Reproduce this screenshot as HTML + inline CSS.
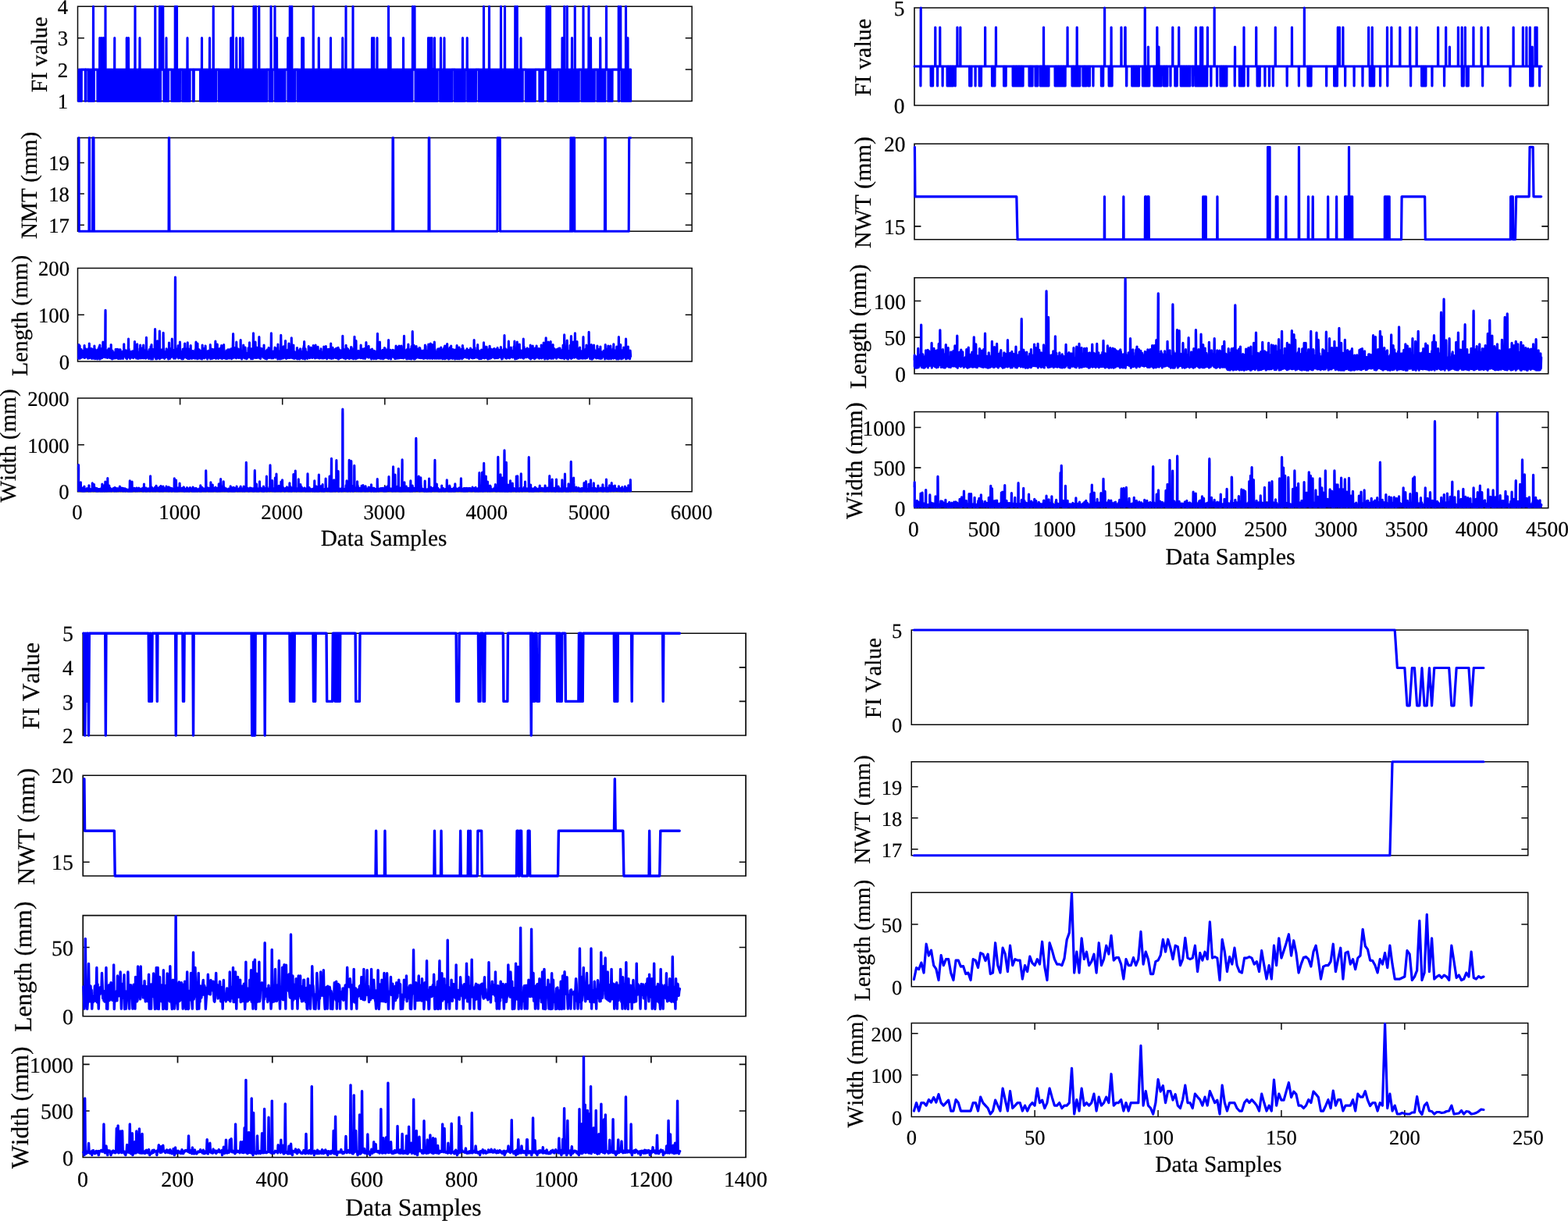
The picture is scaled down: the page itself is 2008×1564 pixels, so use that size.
<!DOCTYPE html>
<html lang="en">
<head>
<meta charset="utf-8">
<title>Data Samples figure</title>
<style>
html,body{margin:0;padding:0;background:#fff;}
body{width:2008px;height:1564px;overflow:hidden;}
svg{display:block;}
text{font-family:"Liberation Serif","DejaVu Serif",serif;fill:#000;stroke:#000;stroke-width:0.22px;stroke-linejoin:round;font-kerning:none;font-variant-ligatures:none;text-rendering:geometricPrecision;}
.ax{fill:none;stroke:#0a0a0a;shape-rendering:geometricPrecision;}
.d{fill:none;stroke:#0000ff;stroke-linejoin:round;stroke-linecap:round;}
</style>
</head>
<body>
<svg width="2008" height="1564" viewBox="0 0 2008 1564" role="img" aria-label="Sixteen line charts of FI value, NMT/NWT, Length and Width versus Data Samples">
<rect x="0" y="0" width="2008" height="1564" fill="#fff"/>
<g id="TL">
<g id="TL1">
<path class="ax" stroke-width="1.5" d="M99.5 8.25H886.1V129.5H99.5ZM99.5 129.5h8.4M886.1 129.5h-8.4M99.5 89.08h8.4M886.1 89.08h-8.4M99.5 48.67h8.4M886.1 48.67h-8.4M99.5 8.25h8.4M886.1 8.25h-8.4"/>
<polyline class="d" stroke-width="3.1" points="100.6,129.5 101.06,89.08 101.52,129.5 101.99,89.08 102.45,129.5 102.91,89.08 103.38,129.5 103.84,89.08 104.3,129.5 104.35,89.08 109.25,89.08 109.3,129.5 109.53,89.08 109.75,129.5 109.8,89.08 113.2,89.08 113.25,129.5 113.75,89.08 114.26,129.5 114.76,89.08 115.26,129.5 115.77,89.08 116.27,129.5 116.78,89.08 117.28,129.5 117.78,89.08 118.29,129.5 118.79,89.08 119.29,129.5 119.35,89.08 119.5,8.25 119.65,89.08 119.8,89.08 120.3,129.5 120.35,89.08 124.85,89.08 124.9,129.5 125.4,89.08 125.9,129.5 126.39,89.08 126.89,129.5 127.39,89.08 127.6,89.08 127.75,48.67 127.89,129.5 127.9,89.08 128.39,89.08 128.88,129.5 129.38,89.08 129.85,89.08 129.88,129.5 130,48.67 130.15,89.08 130.38,89.08 130.88,129.5 131.37,89.08 131.87,129.5 132.1,89.08 132.25,48.67 132.37,89.08 132.4,89.08 132.87,129.5 133.37,89.08 133.86,129.5 134.36,89.08 134.85,89.08 134.86,129.5 135,8.25 135.15,89.08 135.36,89.08 135.86,129.5 136.35,89.08 136.85,129.5 137.35,89.08 137.85,129.5 138.35,89.08 138.84,129.5 139.34,89.08 139.84,129.5 140.34,89.08 140.84,129.5 141.33,89.08 141.83,129.5 142.33,89.08 142.83,129.5 143.33,89.08 143.82,129.5 144.32,89.08 144.82,129.5 145.32,89.08 145.82,129.5 146.31,89.08 146.6,89.08 146.75,48.67 146.81,129.5 146.9,89.08 147.31,89.08 147.81,129.5 148.31,89.08 148.8,129.5 149.3,89.08 149.8,129.5 150.3,89.08 150.8,129.5 151.29,89.08 151.79,129.5 152.29,89.08 152.79,129.5 153.29,89.08 153.78,129.5 154.28,89.08 154.78,129.5 155.28,89.08 155.78,129.5 156.27,89.08 156.77,129.5 157.27,89.08 157.77,129.5 158.27,89.08 158.76,129.5 159.26,89.08 159.76,129.5 160.26,89.08 160.76,129.5 161.25,89.08 161.75,129.5 162.1,89.08 162.25,89.08 162.25,48.67 162.4,89.08 162.75,129.5 163.25,89.08 163.74,129.5 164.24,89.08 164.35,89.08 164.5,48.67 164.65,89.08 164.74,129.5 165.24,89.08 165.74,129.5 166.23,89.08 166.73,129.5 167.23,89.08 167.73,129.5 168.23,89.08 168.72,129.5 169.22,89.08 169.72,129.5 170.22,89.08 170.72,129.5 171.21,89.08 171.71,129.5 172.21,89.08 172.71,129.5 172.85,89.08 173,8.25 173.15,89.08 173.21,89.08 173.7,129.5 174.2,89.08 174.7,129.5 175.2,89.08 175.7,129.5 176.19,89.08 176.69,129.5 177.19,89.08 177.69,129.5 178.19,89.08 178.68,129.5 178.85,89.08 179,48.67 179.15,89.08 179.18,89.08 179.68,129.5 180.18,89.08 180.68,129.5 181.17,89.08 181.67,129.5 182.17,89.08 182.67,129.5 183.17,89.08 183.66,129.5 184.16,89.08 184.66,129.5 185.16,89.08 185.66,129.5 186.15,89.08 186.65,129.5 187.15,89.08 187.65,129.5 188.15,89.08 188.64,129.5 189.14,89.08 189.64,129.5 190.14,89.08 190.64,129.5 191.13,89.08 191.63,129.5 192.13,89.08 192.63,129.5 193.13,89.08 193.62,129.5 194.12,89.08 194.62,129.5 195.12,89.08 195.62,129.5 196.11,89.08 196.61,129.5 197.11,89.08 197.61,129.5 198.11,89.08 198.6,89.08 198.6,129.5 198.75,8.25 198.9,89.08 199.1,89.08 199.6,129.5 200.1,89.08 200.6,129.5 201.09,89.08 201.59,129.5 202.09,89.08 202.59,129.5 203.09,89.08 203.58,129.5 204.08,89.08 204.35,89.08 204.5,8.25 204.58,129.5 204.65,89.08 205.08,89.08 205.57,129.5 205.62,89.08 206.35,89.08 206.5,8.25 206.65,89.08 208.6,89.08 208.75,8.25 208.9,89.08 209.88,89.08 209.93,129.5 210.4,89.08 210.87,129.5 211.34,89.08 211.81,129.5 212.28,89.08 212.75,129.5 212.85,89.08 213,48.67 213.15,89.08 213.22,89.08 213.69,129.5 214.16,89.08 214.63,129.5 215.1,89.08 215.57,129.5 215.62,89.08 219.88,89.08 219.93,129.5 220.4,89.08 220.88,129.5 221.35,89.08 221.83,129.5 222.31,89.08 222.78,129.5 223.26,89.08 223.73,129.5 224.1,89.08 224.21,89.08 224.25,8.25 224.4,89.08 224.69,129.5 225.16,89.08 225.64,129.5 226.11,89.08 226.35,89.08 226.5,8.25 226.59,129.5 226.65,89.08 227.07,89.08 227.54,129.5 228.02,89.08 228.5,129.5 228.97,89.08 229.45,129.5 229.92,89.08 230.4,129.5 230.45,89.08 233.75,89.08 233.8,129.5 234.26,89.08 234.73,129.5 235.19,89.08 235.65,129.5 236.12,89.08 236.58,129.5 237.05,89.08 237.51,129.5 237.97,89.08 238.44,129.5 238.9,89.08 239.36,129.5 239.83,89.08 239.85,89.08 240,48.67 240.15,89.08 240.29,129.5 240.76,89.08 241.22,129.5 241.68,89.08 242.15,129.5 242.61,89.08 243.07,129.5 243.12,89.08 247.38,89.08 247.43,129.5 247.84,89.08 248.25,129.5 248.3,89.08 256.5,89.08 256.55,129.5 257.05,89.08 257.55,129.5 258.05,89.08 258.35,89.08 258.5,48.67 258.56,129.5 258.65,89.08 259.06,89.08 259.56,129.5 260.06,89.08 260.56,129.5 261.06,89.08 261.56,129.5 262.06,89.08 262.56,129.5 263.07,89.08 263.57,129.5 264.07,89.08 264.57,129.5 265.07,89.08 265.57,129.5 266.07,89.08 266.57,129.5 267.08,89.08 267.58,129.5 268.08,89.08 268.35,89.08 268.5,48.67 268.58,129.5 268.65,89.08 269.08,89.08 269.58,129.5 270.08,89.08 270.58,129.5 271.09,89.08 271.59,129.5 272.09,89.08 272.59,129.5 273.09,89.08 273.1,89.08 273.25,8.25 273.4,89.08 273.59,129.5 274.09,89.08 274.59,129.5 275.1,89.08 275.6,129.5 276.1,89.08 276.6,129.5 276.65,89.08 280.15,89.08 280.2,129.5 280.7,89.08 281.19,129.5 281.69,89.08 282.18,129.5 282.68,89.08 283.17,129.5 283.67,89.08 284.16,129.5 284.66,89.08 285.16,129.5 285.65,89.08 286.15,129.5 286.64,89.08 287.14,129.5 287.63,89.08 288.13,129.5 288.62,89.08 289.12,129.5 289.62,89.08 290.11,129.5 290.61,89.08 291.1,129.5 291.6,89.08 292.09,129.5 292.59,89.08 293.08,129.5 293.58,89.08 294.08,129.5 294.57,89.08 295.07,129.5 295.56,89.08 295.6,89.08 295.75,48.67 295.9,89.08 296.06,129.5 296.55,89.08 297.05,129.5 297.35,89.08 297.5,48.67 297.54,89.08 297.65,89.08 298.04,129.5 298.1,89.08 298.25,8.25 298.4,89.08 298.54,89.08 299.03,129.5 299.53,89.08 300.02,129.5 300.52,89.08 301.01,129.5 301.51,89.08 302,129.5 302.5,89.08 302.6,89.08 302.75,48.67 302.9,89.08 303,129.5 303.49,89.08 303.99,129.5 304.48,89.08 304.98,129.5 305.47,89.08 305.97,129.5 306.46,89.08 306.96,129.5 307.35,89.08 307.46,89.08 307.5,48.67 307.65,89.08 307.95,129.5 308.45,89.08 308.94,129.5 309.44,89.08 309.93,129.5 310.43,89.08 310.85,89.08 310.92,129.5 311,48.67 311.15,89.08 311.42,89.08 311.92,129.5 312.41,89.08 312.91,129.5 313.4,89.08 313.9,129.5 314.39,89.08 314.89,129.5 315.39,89.08 315.88,129.5 316.38,89.08 316.87,129.5 317.37,89.08 317.86,129.5 318.36,89.08 318.85,129.5 319.35,89.08 319.85,129.5 320.34,89.08 320.84,129.5 321.33,89.08 321.83,129.5 322.32,89.08 322.82,129.5 323.31,89.08 323.81,129.5 324.31,89.08 324.8,129.5 324.85,89.08 325,8.25 325.15,89.08 325.3,89.08 325.79,129.5 326.29,89.08 326.78,129.5 327.28,89.08 327.35,89.08 327.5,8.25 327.65,89.08 327.77,129.5 328.27,89.08 328.77,129.5 329.26,89.08 329.76,129.5 330.25,89.08 330.75,129.5 331.24,89.08 331.6,89.08 331.74,129.5 331.75,8.25 331.9,89.08 332.23,89.08 332.73,129.5 333.23,89.08 333.72,129.5 334.22,89.08 334.71,129.5 335.21,89.08 335.7,129.5 336.2,89.08 336.69,129.5 337.19,89.08 337.69,129.5 338.18,89.08 338.68,129.5 339.17,89.08 339.67,129.5 340.16,89.08 340.66,129.5 341.15,89.08 341.65,129.5 341.7,89.08 345.1,89.08 345.15,129.5 345.61,89.08 346.06,129.5 346.52,89.08 346.85,89.08 346.98,129.5 347,8.25 347.15,89.08 347.43,89.08 347.89,129.5 348.34,89.08 348.8,129.5 348.85,89.08 351.85,89.08 352,8.25 352.15,89.08 352.35,89.08 352.4,129.5 352.88,89.08 353.37,129.5 353.85,89.08 354.33,129.5 354.35,89.08 354.5,48.67 354.65,89.08 354.81,89.08 355.3,129.5 355.78,89.08 356.26,129.5 356.74,89.08 357.23,129.5 357.71,89.08 358.19,129.5 358.68,89.08 359.16,129.5 359.64,89.08 360.12,129.5 360.61,89.08 361.09,129.5 361.57,89.08 362.05,129.5 362.54,89.08 363.02,129.5 363.5,89.08 363.98,129.5 364.47,89.08 364.95,129.5 365,89.08 368.6,89.08 368.75,48.67 368.8,89.08 368.85,129.5 368.9,89.08 369.34,89.08 369.83,129.5 370.32,89.08 370.81,129.5 371.1,89.08 371.25,8.25 371.29,89.08 371.4,89.08 371.78,129.5 372.27,89.08 372.76,129.5 373.25,89.08 373.6,89.08 373.74,129.5 373.75,8.25 373.9,89.08 374.23,89.08 374.72,129.5 375.21,89.08 375.69,129.5 376.18,89.08 376.67,129.5 377.16,89.08 377.65,129.5 377.7,89.08 381.1,89.08 381.15,129.5 381.65,89.08 382.15,129.5 382.65,89.08 383.15,129.5 383.65,89.08 384.15,129.5 384.65,89.08 385.14,129.5 385.64,89.08 386.14,129.5 386.6,89.08 386.64,89.08 386.75,48.67 386.9,89.08 387.14,129.5 387.64,89.08 388.14,129.5 388.35,89.08 388.5,48.67 388.64,89.08 388.65,89.08 389.14,129.5 389.64,89.08 390.14,129.5 390.64,89.08 391.14,129.5 391.64,89.08 392.14,129.5 392.63,89.08 393.13,129.5 393.63,89.08 394.13,129.5 394.63,89.08 395.13,129.5 395.63,89.08 396.13,129.5 396.63,89.08 397.13,129.5 397.63,89.08 398.13,129.5 398.63,89.08 399.13,129.5 399.62,89.08 400.12,129.5 400.62,89.08 401.1,89.08 401.12,129.5 401.25,8.25 401.4,89.08 401.62,89.08 402.12,129.5 402.62,89.08 403.12,129.5 403.62,89.08 404.12,129.5 404.62,89.08 405.12,129.5 405.62,89.08 406.12,129.5 406.62,89.08 407.11,129.5 407.61,89.08 408.1,89.08 408.11,129.5 408.25,48.67 408.4,89.08 408.61,89.08 409.11,129.5 409.61,89.08 410.11,129.5 410.61,89.08 411.11,129.5 411.61,89.08 412.11,129.5 412.61,89.08 413.11,129.5 413.61,89.08 414.11,129.5 414.6,89.08 415.1,129.5 415.6,89.08 416.1,129.5 416.6,89.08 417.1,129.5 417.6,89.08 418.1,129.5 418.6,89.08 419.1,129.5 419.6,89.08 420.1,129.5 420.6,89.08 421.1,129.5 421.59,89.08 422.09,129.5 422.59,89.08 423.09,129.5 423.35,89.08 423.5,48.67 423.59,89.08 423.65,89.08 424.09,129.5 424.59,89.08 425.09,129.5 425.59,89.08 426.09,129.5 426.59,89.08 427.09,129.5 427.59,89.08 428.09,129.5 428.59,89.08 429.08,129.5 429.58,89.08 430.08,129.5 430.58,89.08 431.08,129.5 431.58,89.08 432.08,129.5 432.58,89.08 433.08,129.5 433.58,89.08 434.08,129.5 434.58,89.08 435.08,129.5 435.58,89.08 436.08,129.5 436.57,89.08 437.07,129.5 437.57,89.08 438.07,129.5 438.57,89.08 438.6,89.08 438.75,48.67 438.9,89.08 439.07,129.5 439.57,89.08 440.07,129.5 440.57,89.08 441.07,129.5 441.57,89.08 442.07,129.5 442.57,89.08 442.85,89.08 443,8.25 443.07,129.5 443.15,89.08 443.56,89.08 444.06,129.5 444.56,89.08 445.06,129.5 445.56,89.08 446.06,129.5 446.56,89.08 447.06,129.5 447.56,89.08 448.06,129.5 448.56,89.08 449.06,129.5 449.56,89.08 450.06,129.5 450.56,89.08 451.05,129.5 451.55,89.08 451.85,89.08 452,8.25 452.05,129.5 452.15,89.08 452.55,89.08 453.05,129.5 453.55,89.08 454.05,129.5 454.55,89.08 455.05,129.5 455.55,89.08 456.05,129.5 456.55,89.08 457.05,129.5 457.55,89.08 458.05,129.5 458.54,89.08 459.04,129.5 459.54,89.08 460.04,129.5 460.54,89.08 461.04,129.5 461.54,89.08 462.04,129.5 462.54,89.08 463.04,129.5 463.54,89.08 464.04,129.5 464.54,89.08 465.04,129.5 465.54,89.08 466.03,129.5 466.53,89.08 467.03,129.5 467.53,89.08 468.03,129.5 468.53,89.08 469.03,129.5 469.53,89.08 470.03,129.5 470.53,89.08 471.03,129.5 471.53,89.08 472.03,129.5 472.53,89.08 473.02,129.5 473.52,89.08 474.02,129.5 474.52,89.08 475.02,129.5 475.52,89.08 476.02,129.5 476.35,89.08 476.5,48.67 476.52,89.08 476.65,89.08 477.02,129.5 477.52,89.08 478.02,129.5 478.52,89.08 478.6,89.08 478.75,48.67 478.9,89.08 479.02,129.5 479.52,89.08 480.02,129.5 480.51,89.08 481.01,129.5 481.51,89.08 482.01,129.5 482.51,89.08 482.85,89.08 483,48.67 483.01,129.5 483.15,89.08 483.51,89.08 484.01,129.5 484.51,89.08 485.01,129.5 485.51,89.08 486.01,129.5 486.51,89.08 487.01,129.5 487.51,89.08 488,129.5 488.5,89.08 489,129.5 489.5,89.08 490,129.5 490.5,89.08 491,129.5 491.5,89.08 492,129.5 492.5,89.08 493,129.5 493.5,89.08 494,129.5 494.5,89.08 494.99,129.5 495.49,89.08 495.99,129.5 496.49,89.08 496.99,129.5 497.35,89.08 497.49,89.08 497.5,8.25 497.65,89.08 497.99,129.5 498.49,89.08 498.99,129.5 499.49,89.08 499.85,89.08 499.99,129.5 500,48.67 500.15,89.08 500.49,89.08 500.99,129.5 501.49,89.08 501.99,129.5 502.48,89.08 502.98,129.5 503.48,89.08 503.98,129.5 504.48,89.08 504.98,129.5 505.48,89.08 505.98,129.5 506.48,89.08 506.98,129.5 507.48,89.08 507.98,129.5 508.48,89.08 508.98,129.5 509.48,89.08 509.97,129.5 510.47,89.08 510.97,129.5 511.47,89.08 511.97,129.5 512.47,89.08 512.97,129.5 513.47,89.08 513.97,129.5 514.47,89.08 514.97,129.5 515.47,89.08 515.97,129.5 516.35,89.08 516.47,89.08 516.5,48.67 516.65,89.08 516.96,129.5 517.46,89.08 517.96,129.5 518.46,89.08 518.96,129.5 519.46,89.08 519.96,129.5 520.46,89.08 520.96,129.5 521.46,89.08 521.96,129.5 522.46,89.08 522.96,129.5 523.46,89.08 523.96,129.5 524.45,89.08 524.95,129.5 525.45,89.08 525.95,129.5 526.45,89.08 526.95,129.5 527.45,89.08 527.95,129.5 528,89.08 528.35,89.08 528.5,8.25 528.65,89.08 530.85,89.08 531,8.25 531.15,89.08 532,89.08 532.05,129.5 532.55,89.08 533.05,129.5 533.56,89.08 534.06,129.5 534.56,89.08 535.06,129.5 535.56,89.08 536.06,129.5 536.57,89.08 537.07,129.5 537.57,89.08 538.07,129.5 538.57,89.08 539.07,129.5 539.58,89.08 540.08,129.5 540.58,89.08 541.08,129.5 541.58,89.08 542.09,129.5 542.59,89.08 543.09,129.5 543.59,89.08 544.09,129.5 544.59,89.08 545.1,129.5 545.6,89.08 546.1,129.5 546.6,89.08 547.1,129.5 547.61,89.08 548.11,129.5 548.35,89.08 548.5,48.67 548.61,89.08 548.65,89.08 549.11,129.5 549.61,89.08 550.11,129.5 550.6,89.08 550.62,89.08 550.75,48.67 550.9,89.08 551.12,129.5 551.62,89.08 552.12,129.5 552.62,89.08 552.85,89.08 553,48.67 553.12,129.5 553.15,89.08 553.63,89.08 554.13,129.5 554.63,89.08 555.13,129.5 555.63,89.08 556.14,129.5 556.35,89.08 556.5,48.67 556.64,89.08 556.65,89.08 557.14,129.5 557.64,89.08 558.14,129.5 558.64,89.08 559.15,129.5 559.65,89.08 560.15,129.5 560.2,89.08 563.6,89.08 563.65,129.5 564.16,89.08 564.35,89.08 564.5,48.67 564.65,89.08 564.67,129.5 565.17,89.08 565.68,129.5 566.19,89.08 566.7,129.5 567.21,89.08 567.72,129.5 568.23,89.08 568.73,129.5 568.85,89.08 569,48.67 569.15,89.08 569.24,89.08 569.75,129.5 570.26,89.08 570.77,129.5 571.27,89.08 571.78,129.5 572.29,89.08 572.8,129.5 573.31,89.08 573.82,129.5 574.32,89.08 574.83,129.5 575.34,89.08 575.85,129.5 576.36,89.08 576.87,129.5 577.38,89.08 577.88,129.5 578.39,89.08 578.9,129.5 578.95,89.08 582.25,89.08 582.3,129.5 582.8,89.08 583.3,129.5 583.8,89.08 584.3,129.5 584.8,89.08 585.3,129.5 585.8,89.08 586.3,129.5 586.8,89.08 587.3,129.5 587.8,89.08 588.3,129.5 588.8,89.08 589.3,129.5 589.8,89.08 590.3,129.5 590.8,89.08 591.3,129.5 591.8,89.08 592.3,129.5 592.35,89.08 592.5,48.67 592.65,89.08 592.8,89.08 593.3,129.5 593.8,89.08 594.3,129.5 594.8,89.08 595.3,129.5 595.35,89.08 598.1,89.08 598.25,48.67 598.4,89.08 598.65,89.08 598.7,129.5 599.19,89.08 599.67,129.5 600.16,89.08 600.65,129.5 601.13,89.08 601.62,129.5 602.1,89.08 602.59,129.5 603.08,89.08 603.56,129.5 604.05,89.08 604.54,129.5 605.02,89.08 605.51,129.5 606,89.08 606.48,129.5 606.97,89.08 607.45,129.5 607.94,89.08 608.43,129.5 608.91,89.08 609.4,129.5 609.45,89.08 613.05,89.08 613.1,129.5 613.6,89.08 614.1,129.5 614.6,89.08 615.1,129.5 615.6,89.08 616.11,129.5 616.61,89.08 617.11,129.5 617.61,89.08 618.11,129.5 618.61,89.08 619.11,129.5 619.35,89.08 619.5,8.25 619.61,89.08 619.65,89.08 620.11,129.5 620.61,89.08 621.11,129.5 621.62,89.08 622.12,129.5 622.62,89.08 623.12,129.5 623.62,89.08 624.12,129.5 624.62,89.08 625.12,129.5 625.62,89.08 626.12,129.5 626.35,89.08 626.5,8.25 626.62,89.08 626.65,89.08 627.12,129.5 627.63,89.08 628.13,129.5 628.63,89.08 629.13,129.5 629.63,89.08 630.13,129.5 630.63,89.08 631.13,129.5 631.63,89.08 632.13,129.5 632.63,89.08 633.14,129.5 633.64,89.08 634.14,129.5 634.64,89.08 635.14,129.5 635.64,89.08 636.14,129.5 636.64,89.08 637.14,129.5 637.64,89.08 638.14,129.5 638.65,89.08 639.15,129.5 639.65,89.08 640.15,129.5 640.65,89.08 641.15,129.5 641.35,89.08 641.5,8.25 641.65,89.08 641.65,89.08 642.15,129.5 642.65,89.08 643.15,129.5 643.65,89.08 644.16,129.5 644.66,89.08 645.16,129.5 645.66,89.08 646.16,129.5 646.35,89.08 646.5,8.25 646.65,89.08 646.66,89.08 647.16,129.5 647.66,89.08 648.16,129.5 648.66,89.08 649.16,129.5 649.67,89.08 650.17,129.5 650.67,89.08 651.17,129.5 651.67,89.08 652.17,129.5 652.67,89.08 653.17,129.5 653.67,89.08 654.17,129.5 654.67,89.08 655.18,129.5 655.68,89.08 656.18,129.5 656.68,89.08 657.18,129.5 657.68,89.08 658.18,129.5 658.68,89.08 659.18,129.5 659.6,89.08 659.68,89.08 659.75,8.25 659.9,89.08 660.18,129.5 660.68,89.08 661.19,129.5 661.69,89.08 662.1,89.08 662.19,129.5 662.25,8.25 662.4,89.08 662.69,89.08 663.19,129.5 663.69,89.08 664.19,129.5 664.69,89.08 665.19,129.5 665.69,89.08 666.19,129.5 666.7,89.08 666.85,89.08 667,48.67 667.15,89.08 667.2,129.5 667.7,89.08 668.2,129.5 668.7,89.08 669.2,129.5 669.25,89.08 673.25,89.08 673.3,129.5 673.8,89.08 674.3,129.5 674.8,89.08 675.3,129.5 675.8,89.08 676.3,129.5 676.8,89.08 677.3,129.5 677.8,89.08 678.3,129.5 678.8,89.08 679.3,129.5 679.8,89.08 680.3,129.5 680.8,89.08 681.3,129.5 681.8,89.08 682.3,129.5 682.8,89.08 683.3,129.5 683.8,89.08 684.3,129.5 684.8,89.08 685.3,129.5 685.35,89.08 690.85,89.08 690.9,129.5 691.34,89.08 691.78,129.5 692.22,89.08 692.66,129.5 693.1,89.08 693.54,129.5 693.98,89.08 694.42,129.5 694.86,89.08 695.3,129.5 695.35,89.08 699.85,89.08 700,8.25 700.15,89.08 701.45,89.08 701.5,129.5 702.01,89.08 702.35,89.08 702.5,8.25 702.51,129.5 702.65,89.08 703.02,89.08 703.52,129.5 704.03,89.08 704.35,89.08 704.5,8.25 704.54,129.5 704.65,89.08 705.04,89.08 705.55,129.5 706.06,89.08 706.56,129.5 707.07,89.08 707.58,129.5 708.08,89.08 708.59,129.5 709.09,89.08 709.6,129.5 710.11,89.08 710.61,129.5 711.12,89.08 711.62,129.5 712.13,89.08 712.64,129.5 713.14,89.08 713.65,129.5 713.7,89.08 717.1,89.08 717.15,129.5 717.65,89.08 718.15,129.5 718.66,89.08 719.16,129.5 719.66,89.08 719.85,89.08 720,48.67 720.15,89.08 720.16,129.5 720.66,89.08 721.17,129.5 721.67,89.08 722.17,129.5 722.6,89.08 722.67,89.08 722.75,8.25 722.9,89.08 723.17,129.5 723.68,89.08 724.18,129.5 724.68,89.08 725.18,129.5 725.69,89.08 726.1,89.08 726.19,129.5 726.25,8.25 726.4,89.08 726.69,89.08 727.19,129.5 727.69,89.08 728.2,129.5 728.7,89.08 729.2,129.5 729.7,89.08 730.2,129.5 730.71,89.08 731.21,129.5 731.71,89.08 732.21,129.5 732.35,89.08 732.5,48.67 732.65,89.08 732.71,89.08 733.22,129.5 733.72,89.08 734.22,129.5 734.72,89.08 735.23,129.5 735.73,89.08 736.1,89.08 736.23,129.5 736.25,8.25 736.4,89.08 736.73,89.08 737.23,129.5 737.74,89.08 738.24,129.5 738.74,89.08 739.24,129.5 739.74,89.08 740.25,129.5 740.75,89.08 741.25,129.5 741.3,89.08 744.9,89.08 744.95,129.5 745.43,89.08 745.91,129.5 746.39,89.08 746.85,89.08 746.87,129.5 747,8.25 747.15,89.08 747.35,89.08 747.83,129.5 748.31,89.08 748.79,129.5 749.26,89.08 749.74,129.5 750.22,89.08 750.7,129.5 751.18,89.08 751.66,129.5 752.14,89.08 752.62,129.5 753.1,89.08 753.58,129.5 753.85,89.08 754,8.25 754.06,89.08 754.15,89.08 754.54,129.5 755.02,89.08 755.5,129.5 755.98,89.08 756.35,89.08 756.46,129.5 756.5,48.67 756.65,89.08 756.94,89.08 757.41,129.5 757.89,89.08 758.37,129.5 758.85,89.08 759.33,129.5 759.81,89.08 760.29,129.5 760.77,89.08 761.25,129.5 761.3,89.08 764.9,89.08 764.95,129.5 765.45,89.08 765.95,129.5 766.44,89.08 766.94,129.5 767.44,89.08 767.94,129.5 768.43,89.08 768.6,89.08 768.75,48.67 768.9,89.08 768.93,129.5 769.43,89.08 769.92,129.5 770.42,89.08 770.92,129.5 771.42,89.08 771.91,129.5 772.41,89.08 772.91,129.5 773.41,89.08 773.9,129.5 774.4,89.08 774.9,129.5 774.95,89.08 776.35,89.08 776.5,8.25 776.65,89.08 778.85,89.08 778.9,129.5 779.41,89.08 779.93,129.5 780.45,89.08 780.96,129.5 781.48,89.08 781.99,129.5 782.5,89.08 783.02,129.5 783.54,89.08 784.05,129.5 784.1,89.08 792.1,89.08 792.1,89.08 792.15,129.5 792.25,8.25 792.4,89.08 792.4,89.08 792.65,129.5 792.7,89.08 794.6,89.08 794.75,8.25 794.9,89.08 796.1,89.08 796.15,129.5 796.63,89.08 797.1,129.5 797.58,89.08 798.06,129.5 798.54,89.08 799.01,129.5 799.49,89.08 799.97,129.5 800.44,89.08 800.92,129.5 801.35,89.08 801.4,89.08 801.5,8.25 801.65,89.08 801.88,129.5 802.35,89.08 802.83,129.5 803.31,89.08 803.78,129.5 803.85,89.08 804,48.67 804.15,89.08 804.26,89.08 804.74,129.5 805.21,89.08 805.69,129.5 806.17,89.08 806.65,129.5 807.12,89.08 807.6,129.5 807.6,89.08"/>
<text x="87.1" y="139.26" font-size="26.75" text-anchor="end">1</text>
<text x="87.1" y="98.84" font-size="26.75" text-anchor="end">2</text>
<text x="87.1" y="58.43" font-size="26.75" text-anchor="end">3</text>
<text x="87.1" y="18.01" font-size="26.75" text-anchor="end">4</text>
<text transform="translate(60 69.88) rotate(-90)" font-size="29.26" text-anchor="middle">FI value</text>
</g>
<g id="TL2">
<path class="ax" stroke-width="1.5" d="M99.5 176.5H886.1V296.25H99.5ZM99.5 288.27h8.4M886.1 288.27h-8.4M99.5 248.35h8.4M886.1 248.35h-8.4M99.5 208.43h8.4M886.1 208.43h-8.4"/>
<polyline class="d" stroke-width="3.1" points="101,176.5 101.3,296.25 114,296.25 114.3,176.5 114.5,176.5 114.8,296.25 118.6,296.25 118.9,176.5 120,176.5 120.3,296.25 216.05,296.25 216.35,176.5 216.65,176.5 216.95,296.25 502.7,296.25 503,176.5 503.5,176.5 503.8,296.25 548.95,296.25 549.25,176.5 549.75,176.5 550.05,296.25 636.95,296.25 637.25,176.5 640.25,176.5 640.55,296.25 730.7,296.25 731,176.5 731.75,176.5 732.05,296.25 733.2,296.25 733.5,176.5 735.5,176.5 735.8,296.25 774.45,296.25 774.75,176.5 775.25,176.5 775.55,296.25 805.2,296.25 805.7,176.5 807.5,176.5"/>
<text x="88.9" y="298.03" font-size="26.75" text-anchor="end">17</text>
<text x="88.9" y="258.11" font-size="26.75" text-anchor="end">18</text>
<text x="88.9" y="218.19" font-size="26.75" text-anchor="end">19</text>
<text transform="translate(47 237.38) rotate(-90)" font-size="29.26" text-anchor="middle">NMT (mm)</text>
</g>
<g id="TL3">
<path class="ax" stroke-width="1.5" d="M99.5 343.5H886.1V463H99.5ZM99.5 463h8.4M886.1 463h-8.4M99.5 403.25h8.4M886.1 403.25h-8.4M99.5 343.5h8.4M886.1 343.5h-8.4"/>
<polyline class="d" stroke-width="3.1" points="100.6,459.17 100.86,447.54 100.98,441.54 101.1,447.54 101.1,450.6 101.6,457.81 102.1,442.81 102.6,459.09 103.1,451.48 103.6,458.35 104.1,447.56 104.6,457.76 105.1,452.02 105.6,456.96 106.1,449.6 106.6,457.65 107.1,452.58 107.6,457.93 108.1,442.67 108.6,458.35 109.1,448.33 109.6,457.5 110.1,447.01 110.6,457.2 111.1,450.11 111.6,456.92 112.1,452.37 112.6,459.24 113.1,446.72 113.6,457.81 114.1,451.04 114.2,446.15 114.32,440.15 114.44,446.15 114.6,458.77 115.1,449.2 115.6,456.84 116.1,448.57 116.6,457 117.1,446.56 117.6,459.43 118.1,447.41 118.6,456.83 119.1,449.3 119.6,459.26 120.1,447.59 120.6,459 120.78,449.14 120.9,443.14 121.02,449.14 121.1,447.45 121.6,459.69 122.1,447.8 122.6,459.47 123.1,451.09 123.6,456.95 124.1,452.71 124.6,459.84 125.1,448.33 125.6,456.92 126.1,446.63 126.6,456.51 127.1,444 127.6,459.89 127.75,448.14 127.87,442.14 127.99,448.14 128.1,450.35 128.6,459.45 129.1,452.72 129.6,458.9 130.1,446.77 130.6,458.68 131.1,450.01 131.6,457.75 131.73,444.16 131.85,438.16 131.97,444.16 132.1,449.36 132.6,456.71 133.1,449.7 133.6,457.48 134.1,451.46 134.6,456.58 134.92,403.32 135.04,397.32 135.16,403.32 135.1,444.92 135.6,457.97 136.1,452.87 136.6,457.79 137.1,452.61 137.6,458.37 138.1,448.58 138.6,457.53 139.1,446.7 139.6,457.63 140.1,446.74 140.6,458.4 141.1,449.15 141.6,458.73 142.1,450.97 142.09,447.54 142.21,441.54 142.33,447.54 142.6,458.95 143.1,450.55 143.6,459.91 144.1,449.3 144.6,458.91 145.1,451.55 145.6,459.16 146.1,451.78 146.6,457.56 147.1,452.34 147.6,458.83 148.1,447.58 148.6,457.01 149.1,451.9 149.6,457.72 150.1,447.25 150.6,459.21 151.1,452.21 151.6,459.33 152.1,447.76 152.6,459.36 153.1,451.19 153.6,457.75 154.1,447.76 154.6,459.55 155.1,451.1 155.6,459.05 156.1,450.75 156.6,458.53 157.1,450.34 157.6,459.45 158.1,452.97 158.6,456.92 158.63,446.75 158.75,440.75 158.87,446.75 159.1,450.18 159.6,456.75 160.1,451.56 160.6,457.07 161.1,448.69 161.6,458.99 162.1,450.78 162.6,459.76 163.1,449.17 163.6,457.16 164.1,452.71 164.4,440.17 164.52,434.17 164.64,440.17 164.6,456.77 165.1,447.17 165.6,457.98 166.1,452.91 166.6,459.4 167.1,451.05 167.6,458.16 168.1,450.31 168.6,457.86 169.1,450.78 169.6,456.98 170.1,449.9 170.6,458.77 171.1,451.72 171.6,457.14 172.1,451.89 172.37,443.56 172.49,437.56 172.61,443.56 172.6,457.18 173.1,443.86 173.6,456.98 174.1,452.68 174.6,459.06 175.1,449.57 175.6,458.34 175.56,446.75 175.68,440.75 175.8,446.75 176.1,446.37 176.6,459.56 177.1,452.56 177.6,457.01 178.1,452.44 178.6,458.89 179.1,450.96 179.6,457.74 179.54,448.14 179.66,442.14 179.78,448.14 180.1,450.65 180.6,458.85 181.1,452.2 181.6,457.49 182.1,446.11 182.6,458.69 183.1,449.07 183.6,458.67 183.53,448.14 183.65,442.14 183.77,448.14 184.1,448.95 184.6,458.7 185.1,449.78 185.6,458.53 186.1,448.49 186.6,459.14 187.1,449.52 187.31,438.18 187.43,432.18 187.55,438.18 187.6,458.51 188.1,450.23 188.6,456.72 189.1,450.57 189.6,457.23 190.1,451.3 190.6,459.57 191.1,447.71 191.6,456.89 192.1,447.85 192.6,457.43 193.1,444.06 193.6,459.98 193.88,447.54 194,441.54 194.12,447.54 194.1,446.54 194.6,459.65 195.1,447.28 195.6,459.92 196.1,447.53 196.6,457.05 197.1,448.62 197.6,456.67 198.1,449.24 198.47,427.62 198.59,421.62 198.71,427.62 198.6,457.31 199.1,449.68 199.6,459.63 200.1,448.13 200.6,459.79 201.1,450.89 201.45,442.76 201.57,436.76 201.69,442.76 201.6,459.15 202.1,451.83 202.6,457.84 203.1,448.1 203.6,458.71 204.1,450.42 204.24,430.01 204.36,424.01 204.48,430.01 204.6,459.71 205.1,449.75 205.6,458.56 206.1,448.14 206.6,457.58 207.1,448.09 207.6,458.19 208.1,449.86 208.6,456.86 209.1,443.26 209.02,432.2 209.14,426.2 209.26,432.2 209.6,458.19 210.1,450.12 210.6,459.35 211.1,451.26 211.6,457.95 212.1,450.95 212.6,457.58 213.1,446.8 213.6,457.53 214.1,450.31 214.6,457.95 215.1,451.26 215.6,459.92 216.1,449.88 216.39,445.15 216.51,439.15 216.63,445.15 216.6,458.74 217.1,450.91 217.6,459.5 218.1,446.56 218.6,457.9 219.1,449.96 219.6,457.12 220.1,449.38 220.18,440.17 220.3,434.17 220.42,440.17 220.6,457 221.1,450.4 221.6,456.64 222.1,449.96 222.6,459.18 223.1,448.34 223.6,456.64 224.1,447.45 224.36,361.09 224.48,355.09 224.6,361.09 224.6,459.09 225.1,451.78 225.6,456.99 226.1,447.15 226.6,456.97 227.1,450.96 227.6,457.45 228.1,442.83 228.6,458.98 229.1,450.68 229.6,457.64 230.1,452.96 230.34,444.16 230.46,438.16 230.58,444.16 230.6,458.3 231.1,451.63 231.6,456.66 232.1,450.46 232.6,459.58 233.1,451.21 233.6,459.61 234.1,447.23 234.6,459.66 235.1,446.88 235.6,457.3 236.1,448.08 236.6,457.63 236.51,446.15 236.63,440.15 236.75,446.15 237.1,447.76 237.6,457.36 238.1,446.75 238.6,458.12 239.1,452.26 239.6,458.77 240.1,448.33 240.1,444.75 240.22,438.75 240.34,444.75 240.6,459.36 241.1,448.8 241.6,459.37 242.1,447.22 242.6,459.57 243.1,446.94 243.6,458.84 244.1,448.32 244.08,448.54 244.2,442.54 244.32,448.54 244.6,457.73 245.1,450.02 245.6,459.38 246.1,452.55 246.6,457.36 247.1,449.47 247.6,458.74 248.1,451.27 248.6,456.95 249.1,452.73 249.6,459.13 250.1,448 250.6,458.83 250.86,444.16 250.98,438.16 251.1,444.16 251.1,449.48 251.6,458.76 252.1,445.65 252.6,459.65 252.85,446.15 252.97,440.15 253.09,446.15 253.1,447.94 253.6,459.35 254.1,451.77 254.6,457.4 255.1,447.7 255.6,457.93 256.1,452.05 256.6,459.32 257.1,449.57 257.6,459.29 258.1,451.37 258.6,459.89 259.1,447.78 259.02,448.14 259.14,442.14 259.26,448.14 259.6,458.66 260.1,449.41 260.6,457.78 261.1,446.65 261.6,458.95 262.1,447.41 262.6,457.9 263.1,443.15 263.6,457.68 264.1,449.8 264.6,458.39 265.1,451.74 265.6,459.87 266.1,449.75 266.6,458.45 267.1,449.32 267.6,456.88 268.1,452.12 268.6,457.82 269.1,452.67 269.18,447.54 269.3,441.54 269.42,447.54 269.6,459.73 270.1,449.5 270.6,458.87 271.1,447.34 271.6,459.53 272.1,447.42 272.6,456.76 273.1,448.35 273.6,458.8 274.1,447.76 274.6,456.98 275.1,450.16 275.6,458.3 275.76,443.16 275.88,437.16 276,443.16 276.1,446 276.6,459.44 277.1,449.77 277.6,458.12 278.1,450.26 278.15,447.14 278.27,441.14 278.39,447.14 278.6,458.37 279.1,448.08 279.6,459.37 280.1,447.15 280.6,458.72 281.1,450.59 281.6,457.91 282.1,445.96 282.6,457.26 283.1,452.07 283.6,459.32 283.53,448.54 283.65,442.54 283.77,448.54 284.1,451.89 284.6,459.41 285.1,446.16 285.6,458.28 286.1,444.76 286.6,458.57 286.51,447.54 286.63,441.54 286.75,447.54 287.1,452.67 287.6,458.61 288.1,452.83 288.6,459.23 289.1,452.39 289.6,459.42 290.1,448.95 290.6,459.57 291.1,452.66 291.6,459.04 292.1,447.88 292.6,456.73 293.1,451.05 293.6,459.07 294.1,447.7 294.6,458.79 295.1,452.39 295.6,456.61 296.1,446.85 296.6,459.68 297.1,446.73 297.6,457.71 298.1,447.15 298.47,433.6 298.59,427.6 298.71,433.6 298.6,458.33 299.1,447.78 299.6,456.71 300.1,452.78 300.6,457.88 301.1,445.53 301.6,457.03 302.1,452.25 302.6,458.83 302.65,444.16 302.77,438.16 302.89,444.16 303.1,446.96 303.6,457.41 304.1,448.23 304.6,458.06 305.1,447 305.6,458.55 306.1,451.51 306.6,458.32 307.1,451.25 307.6,457.48 308.1,449.06 308.03,441.57 308.15,435.57 308.27,441.57 308.6,458.3 309.1,452 309.6,459.92 310.1,449.96 310.6,457.63 311.1,452.37 311.6,457.05 311.61,448.14 311.73,442.14 311.85,448.14 312.1,447.29 312.6,458.43 313.1,447.17 313.6,458.83 314.1,445 314.6,456.66 315.1,452.32 315.6,459.61 316.1,452.47 316.6,459.16 317.1,452.68 317.6,457.74 318.1,445.85 318.6,456.61 319.1,451.57 319.38,444.75 319.5,438.75 319.62,444.75 319.6,457.27 320.1,449.07 320.6,458.13 321.1,451.78 321.6,459.72 322.1,446.88 322.6,456.62 323.1,451.7 323.6,459.7 324.1,449.98 324.36,432.8 324.48,426.8 324.6,432.8 324.6,457.85 325.1,448.83 325.6,456.95 326.1,450.75 326.6,458.44 326.95,444.16 327.07,438.16 327.19,444.16 327.1,447.57 327.6,457.15 328.1,451.66 328.6,458.38 329.1,445.27 329.6,458.3 330.1,452.54 330.6,457.43 331.1,450.25 331.6,457.88 331.73,437.58 331.85,431.58 331.97,437.58 332.1,450.72 332.6,458.83 333.1,445.91 333.6,459.42 334.1,446.95 334.6,456.94 335.1,446.59 335.6,456.74 336.1,449.52 336.6,456.68 337.1,447.13 337.6,458.31 337.91,448.14 338.03,442.14 338.15,448.14 338.1,450.35 338.6,456.78 339.1,451.1 339.6,459.35 340.1,452.38 340.6,458.97 341.1,449.62 341.6,459.86 342.1,448.16 342.6,458.49 343.1,450.76 343.6,457.39 344.1,445.5 344.6,458.56 345.1,452.5 345.6,457.33 346.1,448.45 346.6,456.57 347.1,447.31 347.27,432.8 347.39,426.8 347.51,432.8 347.6,458.91 348.1,449.99 348.6,458.1 349.1,450.66 349.6,459 350.1,449.99 350.6,457.18 351.1,451.07 351.6,457.18 351.85,451.13 351.97,445.13 352.09,451.13 352.1,452.15 352.6,458.12 353.1,445.98 353.6,457.31 354.1,449.97 354.6,457.25 355.1,446.07 355.6,459.95 355.84,447.14 355.96,441.14 356.08,447.14 356.1,444.27 356.6,459.67 357.1,450.97 357.6,457.19 358.1,450.28 358.6,459.85 359.1,450.21 359.6,457.64 359.62,435.19 359.74,429.19 359.86,435.19 360.1,447.74 360.6,459.53 361.1,448.07 361.6,458.22 362.1,447.6 362.6,459.02 363.1,443.78 363.6,456.86 364.1,447.11 364.6,457.67 365.1,446.96 365.4,442.56 365.52,436.56 365.64,442.56 365.6,458.55 366.1,449.63 366.6,459.36 367.1,448.56 367.6,458.09 368.1,450.35 368.6,458.41 369.1,447.78 369.6,456.64 369.78,446.15 369.9,440.15 370.02,446.15 370.1,450.95 370.6,458.56 371.1,447.47 371.6,456.74 372.1,444.13 372.6,458.08 373.1,449.83 373.17,438.78 373.29,432.78 373.41,438.78 373.6,456.81 374.1,452.33 374.6,458.7 375.1,449.65 375.6,456.64 375.76,448.14 375.88,442.14 376,448.14 376.1,451.73 376.6,459.37 377.1,450.51 377.6,458.89 378.1,451.24 378.6,456.7 379.1,450.94 379.6,459.01 380.1,452.15 380.34,451.53 380.46,445.53 380.58,451.53 380.6,459.72 381.1,451.51 381.6,459.72 382.1,449.58 382.6,457.07 383.1,448.9 383.6,459.98 384.1,451.17 384.32,452.72 384.44,446.72 384.56,452.72 384.6,459.06 385.1,449.86 385.6,458.09 386.1,452.69 386.6,456.65 387.1,452.06 387.6,459.38 388.1,446.55 388.6,457.74 389.1,443.2 389.6,459.38 389.5,443.56 389.62,437.56 389.74,443.56 390.1,447.65 390.6,459.83 391.1,446.76 391.6,458.66 392.1,452.3 392.6,456.54 393.1,451.18 393.6,459.49 394.1,452.18 394.6,456.8 395.1,452.5 395.08,449.53 395.2,443.53 395.32,449.53 395.6,456.51 396.1,446.63 396.6,458.76 397.1,446.82 397.6,457.54 398.1,445.27 398.6,457.38 399.1,447.92 399.6,458.38 400.1,449.5 400.6,458.13 401.1,447.59 401.06,448.54 401.18,442.54 401.3,448.54 401.6,456.74 402.1,447.49 402.6,456.63 403.1,447.54 403.6,459.07 404.1,442.11 404.6,458.57 405.1,446.93 405.6,456.96 405.64,452.12 405.76,446.12 405.88,452.12 406.1,446.55 406.6,458.16 407.1,444.3 407.6,458.46 408.1,452.05 408.6,458.87 409.1,449.71 409.6,458.89 410.1,450.67 410.6,456.57 411.1,446.92 411.6,457.08 412.1,451.14 412.6,459.06 413.1,452.2 413.6,457.44 414.1,450.78 414.6,459.01 414.6,450.13 414.72,444.13 414.84,450.13 415.1,450.06 415.6,458.14 416.1,447.31 416.6,458.15 417.1,450.13 417.19,449.53 417.31,443.53 417.43,449.53 417.6,458.51 418.1,447.49 418.6,459.79 419.1,447.45 419.6,456.57 420.1,450.62 420.6,458.08 421.1,447.25 421.6,456.96 422.1,448.38 422.6,458.95 423.1,449.72 423.6,458.7 423.57,446.15 423.69,440.15 423.81,446.15 424.1,447.31 424.6,459.49 425.1,451.57 425.6,457.85 426.1,445.4 426.6,459.01 427.1,452.81 427.6,456.78 428.1,449.53 428.6,457.1 429.1,447.55 429.6,458.46 430.1,448.56 430.6,456.92 430.54,452.12 430.66,446.12 430.78,452.12 431.1,449.91 431.6,459 432.1,451.77 432.6,457.9 433.1,445.24 433.6,459.97 434.1,447.59 434.6,459.04 435.1,450.47 435.6,458.49 436.1,448.91 436.6,458.47 437.1,452.37 437.6,457.58 438.1,452.46 438.6,457.36 438.7,436.19 438.82,430.19 438.94,436.19 439.1,444.6 439.6,458.52 440.1,447.19 440.6,458.84 441.1,450.28 441.6,456.91 442.1,451.69 442.6,459.69 443.1,442.32 443.6,458.17 444.1,445.84 444.6,458.36 445.1,447.43 445.48,453.12 445.6,447.12 445.72,453.12 445.6,456.56 446.1,448.7 446.6,459.29 447.1,451.06 447.6,459.53 448.1,449.54 448.6,458.76 449.1,448 449.46,450.53 449.58,444.53 449.7,450.53 449.6,457.42 450.1,444.84 450.6,458.91 451.1,451.74 451.6,459.24 452.1,447.65 452.6,459.58 453.1,447.06 453.6,459.26 453.84,437.18 453.96,431.18 454.08,437.18 454.1,452.75 454.6,458.65 455.1,447.47 455.6,459.8 455.84,442.56 455.96,436.56 456.08,442.56 456.1,450.47 456.6,459.12 457.1,451.29 457.6,458.81 458.1,452.28 458.6,458.45 459.1,449.33 459.6,457.55 460.1,451.6 460.6,457.87 461.1,451.86 461.6,458.62 462.1,449.49 462.01,448.14 462.13,442.14 462.25,448.14 462.6,458.45 463.1,452.64 463.6,456.99 464.1,449.81 464.6,459.06 465.1,447.16 465.6,459.22 466.1,447.69 466.6,458.79 467.1,446.53 467.6,459.37 468.1,448.34 468.6,457.44 468.78,444.55 468.9,438.55 469.02,444.55 469.1,452.3 469.6,457.02 470.1,449.89 470.6,456.98 471.1,450.1 471.6,457.96 471.97,451.13 472.09,445.13 472.21,451.13 472.1,443.19 472.6,458.07 473.1,451.03 473.6,456.9 474.1,449.48 474.6,457.07 475.1,448.14 475.6,459.96 476.1,448.59 476.35,453.12 476.47,447.12 476.59,453.12 476.6,458.32 477.1,449.31 477.6,457.56 478.1,449.34 478.6,459.62 479.1,449.4 479.6,457.46 480.1,451.88 480.6,459.31 481.1,450.35 481.6,459.63 482.1,452.64 482.6,459.29 483.1,449.72 483.33,433.2 483.45,427.2 483.57,433.2 483.6,458.12 484.1,447 484.6,458.2 485.1,445.62 485.6,458.9 486.1,442.26 486.31,444.16 486.43,438.16 486.55,444.16 486.6,458.48 487.1,451.3 487.6,459.35 488.1,449.29 488.6,459.3 489.1,451.55 489.6,457.23 490.1,448.23 490.6,459.66 491.1,448.43 491.6,459.21 492.1,450.03 492.29,451.53 492.41,445.53 492.53,451.53 492.6,457.33 492.87,452.12 492.99,446.12 493.11,452.12 493.1,448.66 493.6,458.22 494.1,450.58 494.6,457.39 495.1,449.72 495.6,458.5 496.1,447.77 496.6,458.1 497.1,449.19 497.45,441.57 497.57,435.57 497.69,441.57 497.6,459.41 498.1,448.84 498.6,457.35 499.1,449.72 499.6,457.03 500.1,448.27 500.6,459.85 501.1,449.38 501.6,456.78 502.1,451.68 502.6,456.57 503.1,448.19 503.6,457.42 504.1,452.03 504.6,457.66 505.1,449.08 505.6,459.52 506.1,448.94 506.6,459.52 507.1,443.07 507.6,458.63 507.81,454.12 507.93,448.12 508.05,454.12 508.1,446.54 508.6,459.08 509.1,445.59 509.6,457.55 510.1,444.41 510.6,458.85 511.1,442.99 511.6,458.64 512.1,447.76 512.6,457.66 513.1,450.88 513.6,458.42 513.78,449.14 513.9,443.14 514.02,449.14 514.1,450.76 514.6,458.54 515.1,452.38 515.6,458 516.1,449.45 516.6,458.98 517.1,445.3 517.37,436.19 517.49,430.19 517.61,436.19 517.6,458.01 518.1,451.28 518.6,457.9 519.1,448.69 519.6,458.17 520.1,450.23 520.6,459.78 521.1,447.84 521.6,459.65 522.1,446.98 522.6,457.82 522.75,447.14 522.87,441.14 522.99,447.14 523.1,452.18 523.6,459.41 524.1,450.62 524.6,459.57 525.1,449.75 525.6,459.13 526.1,446.99 526.6,459.96 527.1,443.46 527.6,456.96 528.1,443.62 528.13,430.61 528.25,424.61 528.37,430.61 528.6,458.35 529.1,451.05 529.6,459.54 530.1,442.18 530.6,459.85 531.1,446.73 531.6,459.71 532.1,448.16 532.6,457.31 532.71,452.12 532.83,446.12 532.95,452.12 533.1,443.63 533.6,458.21 534.1,446.66 534.6,457.63 535.1,446.98 535.6,457.51 536.1,449.36 536.6,458.37 537.1,445.47 537.6,457.42 537.69,451.73 537.81,445.73 537.93,451.73 538.1,449.92 538.6,458.75 539.1,448.77 539.6,456.65 540.1,449.9 540.6,458.82 541.1,452.62 541.6,457.95 542.1,449.03 542.6,459.36 543.1,452.36 543.6,458.25 544.1,451.34 544.26,448.14 544.38,442.14 544.5,448.14 544.6,458.81 545.1,443.34 545.6,457.37 546.1,450.64 546.6,459.05 547.1,451.57 547.6,459.31 548.1,449.06 548.6,457.45 548.64,447.14 548.76,441.14 548.88,447.14 549.1,448.02 549.6,458.68 550.1,449.73 550.6,459.3 551.1,450.43 551.23,446.15 551.35,440.15 551.47,446.15 551.6,456.8 552.1,451.74 552.6,457.2 553.1,448.37 553.6,459.52 553.63,447.54 553.75,441.54 553.87,447.54 554.1,447.15 554.6,457.92 555.1,446.84 555.6,457.01 556.1,447.11 556.21,444.16 556.33,438.16 556.45,444.16 556.6,459.25 557.1,447.61 557.6,458.9 558.1,450.12 558.6,459.11 559.1,452.88 559.6,458.89 560.1,450.49 560.6,459.01 560.6,453.12 560.72,447.12 560.84,453.12 561.1,447.23 561.6,459.22 562.1,446.91 562.6,456.85 563.1,450.83 563.6,459.24 564.1,449.48 564.6,458.61 564.58,451.13 564.7,445.13 564.82,451.13 565.1,451.06 565.6,456.73 566.1,448.11 566.6,459.75 567.1,451.37 567.6,459.46 568.1,446.71 568.6,456.8 569.1,444.86 569.6,459.8 569.56,449.14 569.68,443.14 569.8,449.14 570.1,451.27 570.6,456.69 571.1,451.7 571.6,458.91 572.1,442.51 572.6,458.6 572.55,446.55 572.67,440.55 572.79,446.55 573.1,448.75 573.6,459.12 574.1,452.19 574.6,459.91 575.1,447.34 575.6,459.41 576.1,445.42 576.6,458.1 577.1,450.36 577.6,458.98 577.53,449.14 577.65,443.14 577.77,449.14 578.1,447.94 578.6,457.31 579.1,449.86 579.6,459.4 580.1,447.49 580.6,458.66 581.1,449.65 581.6,458.69 582.1,450.65 582.6,459.96 582.51,454.12 582.63,448.12 582.75,454.12 583.1,449.89 583.6,458.42 584.1,449.93 584.6,459.35 585.1,442.67 585.6,459.39 586.1,447.83 586.6,459.73 587.1,449.49 587.6,457.04 587.49,452.72 587.61,446.72 587.73,452.72 588.1,445.1 588.6,459.63 589.1,448.09 589.6,457.4 590.1,447.83 590.6,457.63 591.1,447.31 591.6,459.72 592.1,446.57 592.27,448.54 592.39,442.54 592.51,448.54 592.6,459.02 593.1,445.95 593.6,457.5 594.1,452.76 594.6,456.72 595.1,451.61 595.6,457.4 596.1,448.97 596.6,457.56 597.1,452.91 597.6,458.12 598.1,446.7 598.6,457.95 599.1,452.17 599.6,458.44 600.1,449.61 600.6,459.52 601.1,448.26 601.6,456.99 602.1,451.17 602.43,452.12 602.55,446.12 602.67,452.12 602.6,456.85 603.1,450.15 603.6,458.18 604.1,448.46 604.6,458.82 605.1,448.02 605.6,458.96 606.1,452.52 606.6,457.45 607.1,449.14 607.01,441.57 607.13,435.57 607.25,441.57 607.6,458.49 608.1,445.24 608.6,457.9 609.1,450.63 609.6,457.73 610.1,450.02 610.6,457.89 611.1,448.99 611.6,458.17 611.59,447.54 611.71,441.54 611.83,447.54 612.1,447.6 612.6,457.25 613.1,451.06 613.6,459.75 614.1,449.85 614.6,457.51 615.1,451.68 615.6,459.53 616.1,449.35 616.37,454.12 616.49,448.12 616.61,454.12 616.6,459.38 617.1,451.7 617.6,458.41 618.1,449.32 618.6,457.69 619.1,447.72 619.36,444.75 619.48,438.75 619.6,444.75 619.6,458.46 620.1,443.05 620.6,458.88 621.1,451.09 621.6,457.95 622.1,449.77 622.6,458.18 623.1,444.24 623.6,458.73 624.1,449.51 624.6,459.98 625.1,452.75 625.6,459.67 626.1,447.47 626.33,454.12 626.45,448.12 626.57,454.12 626.6,457.51 627.1,443.24 627.6,459.2 628.1,446.52 628.6,459 629.1,451.38 629.32,453.52 629.44,447.52 629.56,453.52 629.6,457.97 630.1,452.03 630.6,457.54 631.1,452.62 631.6,457.06 632.1,446.94 632.6,457.84 633.1,446.66 633.6,458.93 634.1,452.2 634.6,457.21 635.1,452.38 635.6,458.61 636.1,447.3 636.6,457.6 637.1,445.67 637.6,458.71 638.1,450.21 638.6,456.92 639.1,448.19 639.6,457.56 640.1,450.68 640.6,457.38 641.1,447.7 641.27,450.53 641.39,444.53 641.51,450.53 641.6,457.85 642.1,451.52 642.6,460 643.1,448.78 643.6,459.32 644.1,449.29 644.6,456.63 645.1,447.25 645.6,456.95 645.86,435.59 645.98,429.59 646.1,435.59 646.1,451.93 646.6,457.08 647.1,446.56 647.6,458.63 648.1,451.66 648.6,459.26 649.1,448.08 649.6,457.11 650.1,450.68 650.6,456.83 651.1,448.69 651.23,443.16 651.35,437.16 651.47,443.16 651.6,458.48 652.1,448.82 652.6,459 653.1,446.63 653.6,457.34 654.1,451.19 654.22,451.13 654.34,445.13 654.46,451.13 654.6,457.12 655.1,448.76 655.6,457.48 656.1,449.6 656.6,457.94 657.1,450.08 657.6,457.37 658.1,444.14 658.6,456.69 658.8,443.16 658.92,437.16 659.04,443.16 659.1,449.23 659.6,459.89 660.1,447.85 660.6,457.96 661.1,450.98 661.6,459.56 662.1,449.58 662.19,444.16 662.31,438.16 662.43,444.16 662.6,457.18 663.1,449.93 663.6,458.65 664.1,449.6 664.6,457 665.1,448.03 665.18,447.14 665.3,441.14 665.42,447.14 665.6,457.13 666.1,452.92 666.6,458.29 667.1,452.61 667.6,456.9 668.1,448.94 668.6,457.15 669.1,450.69 669.6,458.6 670.1,452.5 670.16,440.17 670.28,434.17 670.4,440.17 670.6,459.11 671.1,444.28 671.6,456.99 672.1,449.17 672.6,457.35 673.1,447.63 673.6,457.81 674.1,450.9 674.6,456.53 675.1,446.02 675.14,452.12 675.26,446.12 675.38,452.12 675.6,457.22 676.1,451.7 676.6,457.32 677.1,451.9 677.6,458.41 678.1,447.16 678.6,459.27 679.1,447.89 679.12,448.14 679.24,442.14 679.36,448.14 679.6,459.84 680.1,448.43 680.6,458.94 681.1,447.59 681.6,458.44 682.1,452.43 682.11,449.14 682.23,443.14 682.35,449.14 682.6,458.25 683.1,452 683.6,457.74 684.1,451.19 684.6,459.79 685.1,447.35 685.1,452.12 685.22,446.12 685.34,452.12 685.6,458.76 686.1,452.55 686.6,457.81 687.1,443.09 687.6,456.93 688.1,447.44 688.6,458.06 689.1,447.31 689.6,458.05 690.1,446.55 690.6,459.13 691.1,450 691.6,456.6 692.1,449.25 692.6,456.88 693.1,451.53 693.07,448.14 693.19,442.14 693.31,448.14 693.6,459.06 694.1,452.18 694.6,456.89 695.1,447.81 695.6,457.89 696.1,452.26 696.06,445.15 696.18,439.15 696.3,445.15 696.6,457.39 697.1,452.42 697.6,459.9 698.1,446.7 698.6,457.13 699.1,447.68 699.04,438.78 699.16,432.78 699.28,438.78 699.6,457.55 700.1,451.1 700.6,459.62 701.1,447.26 701.6,459.78 702.1,446.88 702.03,444.16 702.15,438.16 702.27,444.16 702.6,459.09 703.1,452.82 703.6,457.52 704.1,446.57 704.6,457.01 705.1,447.66 705.02,443.56 705.14,437.56 705.26,443.56 705.6,459.12 706.1,451.99 706.6,459.29 707.1,448.19 707.6,457.97 708.1,449.45 708.01,447.54 708.13,441.54 708.25,447.54 708.6,459.1 709.1,448.52 709.6,457.65 710.1,446.73 710.6,456.63 711.1,449.01 711.6,458.16 712.1,448.11 712.6,459.32 713.1,449.63 712.99,453.52 713.11,447.52 713.23,453.52 713.6,457.69 714.1,447.09 714.6,457.16 715.1,452.07 715.6,457.8 716.1,446.14 716.6,456.59 716.97,452.12 717.09,446.12 717.21,452.12 717.1,448.41 717.6,458.61 718.1,450.15 718.6,456.55 719.1,449.53 719.6,458.94 720.1,448.37 720.6,457.4 721.1,442.16 721.6,457.86 722.1,451.31 722.6,459.66 722.55,434.79 722.67,428.79 722.79,434.79 723.1,447.55 723.6,456.97 724.1,445.1 724.6,458.26 725.1,448.38 725.6,457.42 726.1,449.2 726.13,442.16 726.25,436.16 726.37,442.16 726.6,459.74 727.1,449.15 727.6,459.85 728.1,449.89 728.6,457.86 729.1,450.56 729.6,457.26 730.1,442.2 730.6,458.56 731.1,452.32 731.31,436.59 731.43,430.59 731.55,436.59 731.6,459.38 732.1,450.58 732.6,458.77 733.1,448.75 733.6,457.22 733.9,444.16 734.02,438.16 734.14,444.16 734.1,448.93 734.6,457.76 735.1,448.78 735.6,458.28 736.1,448.12 736.29,432.8 736.41,426.8 736.53,432.8 736.6,456.58 737.1,452.77 737.6,456.55 738.1,452.46 738.6,457.97 738.88,443.56 739,437.56 739.12,443.56 739.1,442.75 739.6,458.94 740.1,446.99 740.6,459.52 741.1,450.38 741.6,457.35 742.1,446.42 742.47,451.13 742.59,445.13 742.71,451.13 742.6,459.14 743.1,450.9 743.6,458.07 744.1,450.31 744.6,458.81 745.1,449.91 745.6,459.15 746.1,451.87 746.6,458.89 746.85,437.58 746.97,431.58 747.09,437.58 747.1,447.66 747.6,458.83 748.1,452.34 748.6,458.45 749.1,450.78 749.6,459.21 750.1,447.32 750.6,458.06 750.84,448.14 750.96,442.14 751.08,448.14 751.1,449.62 751.6,458.61 752.1,451.75 752.6,456.86 753.1,449.33 753.6,456.81 754.1,451.69 754.02,431.21 754.14,425.21 754.26,431.21 754.6,457.09 755.1,442.11 755.6,459.45 756.1,450.77 756.6,457.23 757.1,442.74 757.21,447.54 757.33,441.54 757.45,447.54 757.6,459.96 758.1,447.87 758.6,459.83 759.1,450.05 759.6,458.84 760.1,451.03 760.4,448.14 760.52,442.14 760.64,448.14 760.6,456.51 761.1,447.44 761.6,457.53 762.1,451.73 762.6,457.97 763.1,449.86 763.6,458.93 764.1,451.71 764.6,458.72 764.78,449.14 764.9,443.14 765.02,449.14 765.1,446.65 765.6,457.63 766.1,450.8 766.6,458.84 767.1,447.58 767.6,456.81 768.1,451.02 768.6,459.37 768.76,450.13 768.88,444.13 769,450.13 769.1,452.16 769.6,458.17 770.1,450.63 770.6,459.24 771.1,450.98 771.6,456.86 772.1,452.47 772.6,457.01 773.1,449.28 773.6,456.51 774.1,452.3 774.6,459.94 775.1,450.15 775.14,447.54 775.26,441.54 775.38,447.54 775.6,459 776.1,446.91 776.6,457.68 777.1,452.43 777.6,459.49 778.1,449.09 778.6,458.41 778.72,449.14 778.84,443.14 778.96,449.14 779.1,448.95 779.6,459.8 780.1,451.44 780.6,458.23 781.1,451.22 781.6,459.11 781.71,449.14 781.83,443.14 781.95,449.14 782.1,450.71 782.6,459.73 783.1,452.18 783.6,456.91 784.1,450.29 784.6,456.64 785.1,446.72 785.6,459.16 785.7,446.75 785.82,440.75 785.94,446.75 786.1,449.72 786.6,458.79 787.1,451.62 787.6,457.38 788.1,449.08 788.6,458.35 789.1,449.01 789.6,459.92 789.68,450.13 789.8,444.13 789.92,450.13 790.1,449.99 790.6,456.65 791.1,448.08 791.6,459.91 792.1,450.16 792.27,437.58 792.39,431.58 792.51,437.58 792.6,459.66 793.1,449.25 793.6,457.33 794.1,449.56 794.6,457.11 794.66,447.54 794.78,441.54 794.9,447.54 795.1,452.45 795.6,459.82 796.1,450.21 796.6,456.71 797.1,448.76 797.6,459.16 798.1,451.68 798.6,457.77 798.64,451.13 798.76,445.13 798.88,451.13 799.1,449.82 799.6,457.69 800.1,447.63 800.6,457.89 801.1,451.23 801.43,440.17 801.55,434.17 801.67,440.17 801.6,459.82 802.1,449.66 802.6,459.36 803.1,451.38 803.6,458.78 804.1,451.75 804.22,450.13 804.34,444.13 804.46,450.13 804.6,458.6 805.1,450.72 805.6,459.24 806.1,449.72 806.6,459.69 807.1,449.16 807.6,456.57"/>
<text x="89" y="472.76" font-size="26.75" text-anchor="end">0</text>
<text x="89" y="413.01" font-size="26.75" text-anchor="end">100</text>
<text x="89" y="353.26" font-size="26.75" text-anchor="end">200</text>
<text transform="translate(34.5 404.25) rotate(-90)" font-size="29.26" text-anchor="middle">Length (mm)</text>
</g>
<g id="TL4">
<path class="ax" stroke-width="1.5" d="M99.5 510H886.1V629.7H99.5ZM99.5 629.7h8.4M886.1 629.7h-8.4M99.5 569.85h8.4M886.1 569.85h-8.4M99.5 510h8.4M886.1 510h-8.4M99.5 629.7v-8.4M99.5 510v8.4M230.6 629.7v-8.4M230.6 510v8.4M361.7 629.7v-8.4M361.7 510v8.4M492.8 629.7v-8.4M492.8 510v8.4M623.9 629.7v-8.4M623.9 510v8.4M755 629.7v-8.4M755 510v8.4M886.1 629.7v-8.4M886.1 510v8.4"/>
<polyline class="d" stroke-width="3.1" points="100.46,601.59 100.58,595.59 100.7,601.59 100.6,628.43 101.1,625.43 101.6,628.43 102.1,623.3 102.6,628.25 103.1,625.81 103.25,623.71 103.37,617.71 103.49,623.71 103.6,628.68 104.1,626.86 104.6,628.58 105.1,627.47 105.6,628.85 106.1,625.12 106.6,628.96 107.1,625.43 107.6,628.54 107.83,628.99 107.95,623.08 108.07,628.99 108.1,627.5 108.6,628.91 109.1,626.94 109.6,628.31 110.1,626.75 110.6,628.61 111.1,625.74 111.6,628.25 112.1,625.7 112.6,628.3 113.1,626.72 113.6,628.95 113.8,627.69 113.92,621.69 114.04,627.69 114.1,627.33 114.6,628.56 115.1,627.49 115.6,628.8 116.1,626.69 116.6,628.67 117.1,626.68 117.6,628.47 118.1,627.35 118.19,624.7 118.31,618.7 118.43,624.7 118.6,628.43 119.1,622.34 119.6,628.77 120.1,624.56 120.38,626.49 120.5,620.49 120.62,626.49 120.6,628.24 121.1,626.99 121.6,628.26 122.1,625.05 122.6,628.78 123.1,626.14 123.6,629 124.1,625.55 124.6,628.33 125.1,627.4 125.6,629.02 126.1,626.61 126.6,628.27 127.1,626.62 127.6,628.61 128.1,626.69 128.6,628.94 129.1,627.3 129.6,628.48 130.1,624.91 130.6,629.06 130.74,626.1 130.86,620.1 130.98,626.1 131.1,626.11 131.6,628.89 132.1,625.96 132.6,628.69 133.1,621.95 133.6,629.07 134.1,626.22 134.6,628.98 134.72,623.11 134.84,617.11 134.96,623.11 135.1,625.03 135.6,628.39 136.1,627.22 136.6,628.97 137.1,625.3 137.6,628.69 137.71,618.53 137.83,612.53 137.95,618.53 138.1,625.28 138.6,628.69 139.1,626.23 139.6,628.67 139.7,628.09 139.82,622.09 139.94,628.09 140.1,626.45 140.6,628.76 141.1,624.93 141.6,628.54 142.1,626.2 142.6,629.02 143.1,626.79 143.6,628.32 144.1,626.56 144.6,628.4 145.1,625.69 145.6,628.42 146.1,626.56 146.6,628.85 146.67,628.66 146.79,624.48 146.91,628.66 147.1,625.5 147.6,628.84 148.1,625.04 148.6,628.58 149.1,627.47 149.6,628.87 150.1,625.75 150.6,628.36 151.1,625.82 151.6,628.79 152.1,625.83 152.6,628.35 153.1,626.59 153.25,628.32 153.37,623.08 153.49,628.32 153.6,628.48 154.1,624.96 154.6,628.63 155.1,626.12 155.6,628.35 156.1,625.06 156.6,628.48 157.1,625.63 157.6,628.95 158.1,625.47 158.6,628.5 159.1,626.41 159.6,628.4 160.1,625.84 160.6,629.08 161.1,627.08 161.6,628.51 162.1,626.93 162.6,628.53 163.1,627.39 163.6,628.9 164.1,627.36 164.6,628.81 165.1,627.03 165.6,629.07 166.1,626.29 166.19,621.71 166.31,615.71 166.43,621.71 166.6,628.57 167.1,626.88 167.6,629.1 168.1,626.45 168.6,628.73 169.1,627.2 168.98,623.11 169.1,617.11 169.22,623.11 169.6,629.07 170.1,625.9 170.6,628.61 171.1,626.62 171.6,628.24 172.1,625.37 172.6,628.37 173.1,625.83 173.6,628.97 174.1,625.95 174.6,628.24 175.1,624.98 175.16,628.78 175.28,625.08 175.4,628.78 175.6,628.3 176.1,627.5 176.6,628.59 177.1,625.9 177.6,628.53 178.1,625.18 178.6,628.71 179.1,626.91 179.6,628.22 180.1,626.51 180.6,628.28 181.1,625.95 181.6,628.22 182.1,626.21 182.6,628.81 183.1,624.94 183.6,628.84 184.1,626.26 184.32,626.1 184.44,620.1 184.56,626.1 184.6,628.7 185.1,626.74 185.6,628.36 186.1,627.47 186.6,628.85 187.1,625.07 187.6,628.88 188.1,626.8 188.6,628.21 189.1,626.74 189.6,628.67 190.1,625.82 190.6,628.43 191.1,627.19 191.6,628.83 192.1,626.11 192.6,628.83 192.49,615.74 192.61,609.74 192.73,615.74 193.1,626.29 193.6,628.43 194.1,623.94 194.6,628.69 195.1,625.12 195.6,628.61 196.1,627.46 196.6,628.72 197.1,626 197.6,628.53 198.1,626.25 198.47,628.75 198.59,624.08 198.71,628.75 198.6,628.75 199.1,625.29 199.6,628.83 200.1,622.19 200.6,628.47 201.1,626.37 201.6,628.4 202.1,625.13 202.6,628.67 203.1,626.07 203.6,628.8 204.1,627.1 204.44,628.37 204.56,623.68 204.68,628.37 204.6,629.04 205.1,626.9 205.6,628.39 206.1,622.53 206.6,628.22 207.1,624.9 207.6,629.06 208.1,625.31 208.6,628.52 208.82,628.24 208.94,623.08 209.06,628.24 209.1,625.65 209.6,628.84 210.1,625.11 210.6,628.55 211.1,626.42 211.6,628.54 212.1,627.39 212.6,628.76 213.1,622.97 213.6,628.43 214.1,625.22 214.6,628.71 215.1,626.68 215.6,628.66 216.1,625.06 216,629.05 216.12,623.68 216.24,629.05 216.6,628.47 217.1,627.11 217.6,628.64 218.1,625.13 218.6,628.54 219.1,626.82 219.6,628.87 220.1,625.55 220.6,628.98 221.1,626.89 221.6,628.44 222.1,627.03 222.6,628.51 223.1,627.28 223.17,618.73 223.29,612.73 223.41,618.73 223.6,628.99 224.1,625.96 224.6,628.31 225.1,626.25 225.36,621.12 225.48,615.12 225.6,621.12 225.6,629.07 226.1,624.25 226.6,628.24 227.1,625.73 227.6,629 228.1,624.97 228.6,628.36 229.1,627.14 229.6,628.78 229.94,625.1 230.06,619.1 230.18,625.1 230.1,626.63 230.6,628.79 231.1,626.5 231.6,628.35 232.1,625.82 232.6,628.71 233.1,625.29 233.6,628.57 234.1,626.01 234.6,628.74 235.1,624.09 235.32,629.06 235.44,624.08 235.56,629.06 235.6,628.3 236.1,626.25 236.6,629.1 237.1,626.28 237.6,628.54 238.1,626.39 238.6,629.01 239.1,627.1 239.3,628.76 239.42,624.48 239.54,628.76 239.6,628.75 240.1,625.21 240.6,628.87 241.1,626.78 241.6,628.84 242.1,626.89 242.6,629.07 243.1,625.1 243.29,628.26 243.41,624.48 243.53,628.26 243.6,628.48 244.1,625.75 244.6,628.25 245.1,627.19 245.6,628.84 246.1,625.75 246.6,628.95 247.1,624.01 247.6,629.03 248.1,626.46 248.6,628.77 249.1,626.69 249.6,628.85 250.1,625.6 250.6,628.95 251.1,626.87 251.25,628.25 251.37,625.67 251.49,628.25 251.6,628.52 252.1,626.38 252.6,629.09 253.1,627.34 253.6,628.73 254.1,627.38 254.6,628.21 255.1,626.15 255.6,629.02 256.1,627.31 256.6,628.66 256.63,627.69 256.75,621.69 256.87,627.69 257.1,627.36 257.6,629.05 258.1,623.93 258.6,628.73 259.1,624.59 259.6,628.23 260.1,627.03 260.6,628.74 261.1,626.12 261.6,628.82 262.1,627.22 262.6,628.27 263.1,625.94 263.6,628.91 263.61,608.77 263.73,602.77 263.85,608.77 264.1,626.1 264.6,628.59 265.1,626.52 265.6,628.45 266.1,625.13 266.6,628.7 267.1,625.35 267.6,629 268.1,626.69 268.6,628.4 269.1,625.37 269.6,628.98 269.78,623.71 269.9,617.71 270.02,623.71 270.1,626.86 270.6,628.71 271.1,626 271.6,629.04 272.1,624.1 272.17,627.09 272.29,621.09 272.41,627.09 272.6,628.76 273.1,627.24 273.6,628.82 274.1,625.54 274.6,628.29 275.1,625.8 275.6,628.58 275.76,628.7 275.88,624.08 276,628.7 276.1,625.38 276.6,628.24 277.1,625.61 277.6,628.86 278.1,625.39 278.6,628.98 279.1,627.33 279.6,628.86 280.1,625.74 280.14,625.7 280.26,619.7 280.38,625.7 280.6,628.41 281.1,624.55 281.6,628.98 282.1,626.57 282.6,628.25 282.53,619.52 282.65,613.52 282.77,619.52 283.1,626.9 283.6,628.77 284.1,622.95 284.6,628.36 285.1,625.61 285.6,628.62 286.1,627.05 286.12,622.71 286.24,616.71 286.36,622.71 286.6,628.26 287.1,625.43 287.6,628.81 288.1,625.12 288.6,628.71 289.1,626.35 289.6,628.26 290.1,626.12 290.6,628.56 291.1,627.23 291.6,628.72 292.1,627.36 292.6,629.07 293.1,626 293.6,628.31 294.1,626.48 294.6,628.85 295.1,626.98 295.08,628.69 295.2,622.69 295.32,628.69 295.6,628.42 296.1,626.87 296.6,628.88 297.1,624.95 297.6,628.34 298.1,625.89 298.07,628.97 298.19,624.48 298.31,628.97 298.6,628.35 299.1,624.19 299.6,629.01 300.1,625.63 300.6,628.92 301.1,625.43 301.6,628.49 302.1,625.26 302.6,628.38 303.1,623.16 303.6,628.57 304.1,627.02 304.6,628.81 305.1,627.43 305.6,628.76 306.1,626.26 306.6,628.74 307.1,624.95 307.6,628.27 308.1,625.7 308.03,628.62 308.15,623.08 308.27,628.62 308.6,628.38 309.1,626.56 309.6,628.49 310.1,626.14 310.6,629.03 311.1,627.27 311.6,628.58 312.1,625.53 312.01,628.82 312.13,623.08 312.25,628.82 312.6,628.26 313.1,626.79 313.6,629.04 314.1,625.54 314.6,628.24 315.1,625.17 315.2,598.21 315.32,592.21 315.44,598.21 315.6,628.44 316.1,625.91 316.6,628.63 317.1,625.17 317.6,628.22 318.1,626.09 318.6,629.1 319.1,626.49 319.6,628.51 320.1,625.16 320.6,628.55 320.98,628.75 321.1,625.08 321.22,628.75 321.1,627.22 321.6,628.6 322.1,625.64 322.6,628.3 323.1,626.95 323.6,628.86 324.1,625.88 324.6,628.95 325.1,625.85 325.6,628.9 326.1,627.34 326.15,608.57 326.27,602.57 326.39,608.57 326.6,628.31 327.1,625.61 327.6,628.72 328.1,626.13 328.35,626.1 328.47,620.1 328.59,626.1 328.6,628.85 329.1,625.93 329.6,628.93 330.1,627.42 330.6,628.59 331.1,625.93 331.6,628.93 332.1,625.95 332.33,622.71 332.45,616.71 332.57,622.71 332.6,628.44 333.1,627.34 333.6,628.35 334.1,625.01 334.6,628.33 335.1,625.82 335.6,628.89 336.1,625.69 336.6,628.67 337.1,627.24 337.31,628.96 337.43,623.08 337.55,628.96 337.6,629.02 338.1,627.1 338.6,629.01 339.1,625.53 339.6,628.37 340.1,625.41 340.6,628.27 341.1,625.01 341.29,616.14 341.41,610.14 341.53,616.14 341.6,629.01 342.1,624.08 342.6,628.76 343.1,626.31 343.6,628.43 344.1,627.28 344.6,628.61 345.1,626.52 345.6,628.56 345.88,601.79 346,595.79 346.12,601.79 346.1,625.72 346.6,628.23 347.1,622.42 347.6,628.45 348.1,626.73 348.47,621.51 348.59,615.51 348.71,621.51 348.6,628.78 349.1,625.58 349.6,628.76 350.1,626.74 350.6,628.47 351.1,625.45 351.6,628.83 352.1,626.62 352.25,618.13 352.37,612.13 352.49,618.13 352.6,629.05 353.1,626.41 353.6,628.5 353.84,613.15 353.96,607.15 354.08,613.15 354.1,626.8 354.6,628.67 355.1,624.94 355.6,628.75 356.1,625.07 356.6,628.78 357.1,622.4 357.6,628.78 358.1,627.46 358.6,628.69 359.1,626.5 359.6,629.05 359.82,623.11 359.94,617.11 360.06,623.11 360.1,624.97 360.6,628.68 361.1,627.28 361.41,620.72 361.53,614.72 361.65,620.72 361.6,628.48 362.1,623.52 362.6,628.4 363.1,626.37 363.6,628.29 364.1,625.82 364.6,629.07 365.1,627.44 365.6,628.73 366.1,625.23 366.6,628.28 367.1,626.52 367.19,628.42 367.31,623.68 367.43,628.42 367.6,628.3 368.1,627.11 368.6,628.72 369.1,624.97 369.6,628.9 370.1,626.4 370.6,628.68 370.78,624.7 370.9,618.7 371.02,624.7 371.1,625.77 371.6,628.95 372.1,623.56 372.6,628.29 373.1,625.2 373.6,629.08 374.1,625.35 374.6,628.56 375.1,627.15 375.6,628.27 375.76,613.55 375.88,607.55 376,613.55 376.1,627.42 376.6,628.71 377.1,626.81 377.6,628.76 378.1,625.48 378.15,609.16 378.27,603.16 378.39,609.16 378.6,628.22 379.1,625.67 379.6,629 380.1,625.83 380.6,628.77 381.1,626.26 381.6,628.23 382.1,626.87 382.13,619.72 382.25,613.72 382.37,619.72 382.6,628.61 383.1,625.6 383.6,628.67 384.1,622.39 384.6,628.72 384.72,626.49 384.84,620.49 384.96,626.49 385.1,625.91 385.6,629.05 386.1,623.54 386.6,628.79 387.1,627.44 387.6,628.69 388.1,625.8 388.6,628.77 389.1,626.12 389.6,628.26 390.1,625.03 390.6,628.83 391.1,627.07 391.6,629.03 392.1,626.33 392.6,628.62 393.1,626.49 393.6,628.83 393.88,612.75 394,606.75 394.12,612.75 394.1,625.34 394.6,628.78 395.1,626.21 395.6,628.91 396.1,624.44 396.6,628.79 397.1,627.13 397.6,628.86 398.1,626.78 398.6,628.43 399.1,626.82 399.6,628.54 400.1,626.49 400.6,628.88 401.1,626.82 401.6,628.71 402.1,625.17 402.6,628.98 402.65,621.71 402.77,615.71 402.89,621.71 403.1,625.58 403.6,629.09 404.1,627.39 404.6,628.66 405.1,622.93 405.6,628.99 406.1,625.63 406.6,628.55 407.1,626.92 407.6,629 408.1,627.33 408.23,614.14 408.35,608.14 408.47,614.14 408.6,629.04 409.1,626.3 409.6,628.3 410.1,622.77 410.6,628.34 411.1,627.19 411.6,628.87 412.1,622.43 412.6,628.64 413.1,625.15 413.01,626.49 413.13,620.49 413.25,626.49 413.6,628.91 414.1,626.82 414.6,628.92 415.1,627.27 415.6,629.03 416.1,626.39 416.6,628.51 417.1,627.05 416.99,619.12 417.11,613.12 417.23,619.12 417.6,628.48 418.1,626.34 418.6,628.28 419.1,627.12 419.6,628.66 420.1,626.11 420.6,628.6 421.1,625.78 421.6,628.39 421.97,616.14 422.09,610.14 422.21,616.14 422.1,626.74 422.6,628.87 423.1,626.57 423.6,628.86 424.1,625.86 424.36,593.23 424.48,587.23 424.6,593.23 424.6,629 425.1,625.5 425.6,629.01 426.1,625.86 426.6,628.58 427.1,627.37 427.6,628.75 427.55,620.72 427.67,614.72 427.79,620.72 428.1,625.62 428.6,628.73 429.1,626.64 429.6,629.04 430.1,625.64 430.6,628.32 430.74,595.62 430.86,589.62 430.98,595.62 431.1,626.72 431.6,628.25 432.1,625.44 432.6,628.64 432.93,609.56 433.05,603.56 433.17,609.56 433.1,626.42 433.6,629.08 434.1,626.03 434.6,629 435.1,626.17 435.6,628.25 436.1,626.29 436.6,628.41 437.1,627.2 437.6,629.02 438.1,624.93 438.6,628.71 438.7,530.08 438.82,524.08 438.94,530.08 439.1,626.07 439.6,628.71 440.1,626.96 440.6,628.27 441.1,626.51 441.6,628.27 442.1,626.65 442.6,628.62 443.1,621.88 443.6,628.68 443.88,621.71 444,615.71 444.12,621.71 444.1,625.11 444.6,628.65 445.1,626.76 445.6,628.87 446.1,626.28 446.6,628.56 447.1,627.15 447.07,595.22 447.19,589.22 447.31,595.22 447.6,628.44 448.1,627.23 448.6,628.98 449.1,627.06 449.6,628.7 449.66,596.61 449.78,590.61 449.9,596.61 450.1,625.27 450.6,628.47 451.1,627.23 451.6,628.87 452.1,622.54 452.6,628.99 453.1,625.51 453.6,628.57 453.64,602.19 453.76,596.19 453.88,602.19 454.1,626.23 454.6,628.27 455.1,626.77 455.6,628.31 456.1,627.15 456.6,628.73 457.1,624.96 457.43,622.71 457.55,616.71 457.67,622.71 457.6,628.42 458.1,621.87 458.6,628.82 459.1,625.28 459.6,628.72 460.1,625.32 460.6,628.79 461.1,625.6 461.6,628.46 462.1,625.9 462.6,628.96 463.1,622.33 463.6,628.41 464.1,623.09 464.6,628.67 464.8,627.49 464.92,621.49 465.04,627.49 465.1,626.97 465.6,628.33 466.1,626.88 466.6,628.51 467.1,626.5 467.6,628.89 468.1,622.73 468.6,628.58 469.1,625.57 469.6,628.71 470.1,626.7 470.6,628.76 471.1,625.95 471.6,628.7 471.97,628.48 472.09,624.08 472.21,628.48 472.1,627.34 472.6,628.34 473.1,624.66 473.6,628.41 474.1,627.22 474.6,628.71 475.1,625.41 475.36,626.69 475.48,620.69 475.6,626.69 475.6,629.08 476.1,625.43 476.6,628.54 477.1,625.33 477.6,628.46 478.1,625.29 478.6,629.08 479.1,625.2 479.6,628.92 480.1,627.33 480.6,629.01 481.1,626.54 481.6,628.9 482.1,627.49 482.6,628.83 483.1,625.61 483.13,619.52 483.25,613.52 483.37,619.52 483.6,628.24 484.1,625.17 484.6,628.9 485.1,626.45 485.6,628.73 486.1,627.43 486.6,628.41 487.1,625.7 487.6,628.49 488.1,625.52 488.31,628.27 488.43,626.07 488.55,628.27 488.6,628.39 489.1,626.42 489.6,628.51 490.1,625.2 490.6,628.7 491.1,627 491.6,628.87 492.1,625.73 492.6,628.93 492.87,628.62 492.99,624.08 493.11,628.62 493.1,625.32 493.29,629.01 493.41,624.08 493.53,629.01 493.6,628.55 494.1,626.56 494.6,628.84 495.1,627.48 495.6,628.72 496.1,623.05 496.6,628.24 497.1,625.33 497.6,628.27 497.85,616.53 497.97,610.53 498.09,616.53 498.1,624.52 498.6,628.56 499.1,625.53 499.6,628.38 500.1,626.33 500.6,628.55 501.1,626.1 501.6,628.72 502.1,626.36 502.6,628.89 503.1,626.73 503.43,603.79 503.55,597.79 503.67,603.79 503.6,628.62 504.1,626.93 504.6,628.57 505.1,627.25 505.6,628.73 505.82,614.14 505.94,608.14 506.06,614.14 506.1,625.27 506.6,628.82 507.1,625.74 507.6,628.63 508.1,627.29 508.6,628.28 509.1,623.16 509.6,628.68 510.1,626.35 510.2,606.18 510.32,600.18 510.44,606.18 510.6,628.7 511.1,627.32 511.6,628.88 512.1,626.75 512.6,628.83 513.1,625.08 513.6,629.01 514.1,626.6 514.6,629.02 514.98,594.82 515.1,588.82 515.22,594.82 515.1,626.96 515.6,628.68 516.1,627.24 516.6,628.8 517.1,625.72 517.6,628.32 517.77,623.71 517.89,617.71 518.01,623.71 518.1,626.91 518.6,628.86 519.1,625.36 519.6,628.79 520.1,626.18 520.16,628.59 520.28,623.08 520.4,628.59 520.6,628.69 521.1,625.79 521.6,628.74 522.1,626.39 522.6,628.7 523.1,625.21 523.6,628.77 524.1,625.93 524.6,628.94 525.1,626.34 525.6,629.06 525.74,621.71 525.86,615.71 525.98,621.71 526.1,625.54 526.6,629.04 527.1,627.29 527.6,628.84 528.1,623.33 528.13,628.09 528.25,622.09 528.37,628.09 528.6,628.8 529.1,625.7 529.6,628.33 530.1,625.31 530.6,628.34 531.1,627.04 531.6,628.81 532.1,625.88 532.6,628.3 532.71,567.33 532.83,561.33 532.95,567.33 533.1,625.46 533.6,628.25 534.1,626.49 534.6,628.2 535.1,627.16 535.6,628.45 536.1,626.31 536.1,616.14 536.22,610.14 536.34,616.14 536.6,628.73 537.1,625.08 537.6,628.87 538.1,625.89 538.6,628.55 538.68,617.73 538.8,611.73 538.92,617.73 539.1,622.24 539.6,628.51 540.1,626.87 540.6,628.58 541.1,626.19 541.6,628.4 542.1,626.7 542.6,628.55 543.1,627.08 543.6,629.06 544.1,626.2 544.06,622.11 544.18,616.11 544.3,622.11 544.6,629.06 545.1,626.92 545.6,628.39 546.1,626.93 546.6,629.07 547.1,627.18 547.6,628.21 548.1,626.69 548.6,629.04 549.1,627.21 549.44,619.12 549.56,613.12 549.68,619.12 549.6,628.27 550.1,625.33 550.6,628.87 551.1,627.06 551.6,629.04 551.63,628.94 551.75,624.08 551.87,628.94 552.1,625.63 552.6,629.09 553.1,626.71 553.6,628.33 554.1,625.6 554.6,628.28 555.1,626.05 555.6,628.58 556.1,623.92 556.6,628.69 556.81,595.22 556.93,589.22 557.05,595.22 557.1,627.29 557.6,628.77 558.1,625.01 558.6,628.35 559.1,625.56 559.2,626.1 559.32,620.1 559.44,626.1 559.6,628.75 560.1,626.68 560.6,628.33 561.1,625.44 561.6,628.97 562.1,627.48 562.6,628.89 563.1,627.49 563.6,628.89 564.1,626.97 564.6,628.57 565.1,626.77 565.6,628.91 565.58,628.09 565.7,622.09 565.82,628.09 566.1,627.19 566.6,628.47 567.1,625.6 567.6,628.32 568.1,625.86 568.6,629.03 569.1,627.01 569.6,628.61 570.1,627.25 570.6,628.79 571.1,626.26 571.6,628.35 572.1,626.71 572.15,620.72 572.27,614.72 572.39,620.72 572.6,628.51 573.1,626.69 573.6,628.68 574.1,625.94 574.6,628.98 575.1,626.34 575.6,628.92 575.54,628.09 575.66,622.09 575.78,628.09 576.1,623.2 576.6,628.83 577.1,627.42 577.6,628.95 578.1,626.46 578.6,629.03 579.1,626.59 579.6,628.54 580.1,627.45 580.6,628.85 581.1,625.17 581.6,628.87 582.1,626.25 582.6,628.97 582.71,625.7 582.83,619.7 582.95,625.7 583.1,625.63 583.6,628.62 584.1,625.5 584.6,628.55 585.1,627.38 585.6,628.5 586.1,626.64 586.6,628.77 587.1,625.9 587.6,628.5 588.1,625.09 588.6,628.46 589.1,625.67 589.6,628.55 590.1,622.44 590.28,618.73 590.4,612.73 590.52,618.73 590.6,628.66 591.1,626.14 591.6,628.41 592.1,626.28 592.6,628.7 593.1,626.03 593.6,628.81 594.1,625.64 594.6,629.02 595.1,625.48 595.6,628.61 596.1,625.45 596.6,628.97 597.1,626.23 597.45,628.47 597.57,626.07 597.69,628.47 597.6,628.24 598.1,625.41 598.6,629.04 599.1,626.39 599.6,628.25 600.1,625.53 600.6,628.41 601.1,626.12 601.43,628.53 601.55,625.47 601.67,628.53 601.6,628.32 602.1,625.64 602.6,628.66 603.1,626.22 603.6,628.59 604.1,627.37 604.6,628.81 605.1,624.13 605.6,628.26 606.1,626.78 606.6,628.37 607.1,626.87 607.41,628.59 607.53,625.47 607.65,628.59 607.6,628.29 608.1,626.26 608.6,628.87 609.1,624.34 609.6,628.97 610.1,626.68 610.6,628.25 611.1,626.58 611.6,628.84 612.1,625.86 612.6,628.99 613.1,626.14 613.6,628.97 613.78,611.55 613.9,605.55 614.02,611.55 614.1,627.23 614.6,628.41 615.1,626.09 615.6,628.81 616.1,622.01 616.6,628.72 617.1,627.49 617.37,611.16 617.49,605.16 617.61,611.16 617.6,628.46 618.1,625.58 618.6,629.09 619.1,626.7 619.6,628.28 619.56,599.2 619.68,593.2 619.8,599.2 620.1,627.11 620.6,628.6 621.1,626.71 621.6,628.72 622.1,626.15 622.15,616.14 622.27,610.14 622.39,616.14 622.6,628.25 623.1,626.26 623.6,628.4 624.1,626.86 624.34,623.11 624.46,617.11 624.58,623.11 624.6,628.89 625.1,624.91 625.6,628.63 626.1,625.75 626.6,628.63 627.1,626.55 627.33,628.09 627.45,622.09 627.57,628.09 627.6,628.99 628.1,622.68 628.6,628.8 629.1,626.89 629.6,628.66 630.1,626.96 630.6,628.67 631.1,627.32 631.6,628.3 632.1,626 632.6,628.46 633.1,627.38 633.6,628.26 634.1,623.42 634.3,626.49 634.42,620.49 634.54,626.49 634.6,628.57 635.1,626.96 635.6,629.04 636.1,626.14 636.6,628.7 637.1,625.17 637.6,628.66 637.69,591.24 637.81,585.24 637.93,591.24 638.1,627.15 638.6,628.32 639.1,626.24 639.6,628.83 640.1,624.95 640.6,628.27 640.88,613.75 641,607.75 641.12,613.75 641.1,625.07 641.6,629.03 642.1,626.77 642.6,628.28 643.1,623.66 643.27,618.13 643.39,612.13 643.51,618.13 643.6,628.95 644.1,626.91 644.6,628.76 645.1,626.81 645.6,628.25 645.86,582.87 645.98,576.87 646.1,582.87 646.1,625.55 646.6,629.07 647.1,625.21 647.6,628.92 648.1,625.58 648.25,598.21 648.37,592.21 648.49,598.21 648.6,628.67 649.1,625.62 649.6,628.93 650.1,626.93 650.6,629.07 650.84,627.09 650.96,621.09 651.08,627.09 651.1,625.03 651.6,628.73 652.1,626.78 652.6,628.66 653.1,627.06 653.43,621.71 653.55,615.71 653.67,621.71 653.6,629.06 654.1,626.31 654.6,628.52 655.1,626.57 655.6,628.83 656.1,625.92 656.21,625.1 656.33,619.1 656.45,625.1 656.6,628.49 657.1,626.27 657.6,628.71 658.1,625.44 658.6,628.54 659.1,625.97 659.6,628.46 660.1,627 660.6,628.96 661.1,627.45 661.19,616.14 661.31,610.14 661.43,616.14 661.6,628.87 662.1,622.68 662.6,628.78 662.59,615.74 662.71,609.74 662.83,615.74 663.1,625.74 663.6,628.47 664.1,626.93 664.6,628.93 665.1,625.99 665.6,628.84 666.1,625.19 666.6,628.46 667.1,627.14 667.17,612.75 667.29,606.75 667.41,612.75 667.6,628.54 668.1,625.58 668.6,628.86 669.1,626.64 669.6,628.51 670.1,626.27 670.6,628.51 671.1,624.37 671.6,628.58 672.1,625.94 672.35,623.11 672.47,617.11 672.59,623.11 672.6,628.33 673.1,624.93 673.6,628.72 674.1,626.27 674.6,628.42 675.1,626 675.6,628.24 676.1,626.13 676.6,628.61 677.1,625.97 677.13,591.63 677.25,585.63 677.37,591.63 677.6,628.98 678.1,625.6 678.6,628.98 679.1,625.38 679.6,628.41 679.52,627.09 679.64,621.09 679.76,627.09 680.1,627.16 680.6,628.91 681.1,625.76 681.6,628.85 682.1,627.49 682.6,628.39 683.1,625.97 683.6,628.89 684.1,625.6 684.6,628.58 685.1,626.71 685.1,628.61 685.22,624.08 685.34,628.61 685.6,628.55 686.1,625.14 686.6,628.65 687.1,625.81 687.6,628.73 688.1,626.81 688.6,628.75 689.1,627.4 689.6,628.78 690.1,625.71 690.6,628.66 691.1,625.38 691.08,628.09 691.2,622.09 691.32,628.09 691.6,628.42 692.1,625.73 692.6,628.3 693.1,627.43 693.6,628.33 694.1,625.21 694.6,628.37 695.1,626.11 695.6,628.8 696.1,625.77 696.6,628.21 697.1,626.62 697.6,628.99 698.1,622.15 698.05,628.97 698.17,623.48 698.29,628.97 698.6,628.93 699.1,625.03 699.6,628.42 700.1,626.6 700.6,628.77 701.1,624.94 701.6,628.29 702.1,625.2 702.6,628.86 703.1,625.6 703.6,628.57 703.63,615.54 703.75,609.54 703.87,615.54 704.1,625.91 704.6,628.57 705.1,627.11 705.6,628.53 706.1,623.58 706.6,628.87 707.1,623.02 707.01,620.12 707.13,614.12 707.25,620.12 707.6,628.81 708.1,625.99 708.6,628.39 709.1,626 709.6,628.59 710.1,625.36 710.6,629 711.1,625.25 711.6,629.09 712.1,625.18 712.39,620.12 712.51,614.12 712.63,620.12 712.6,628.47 713.1,626.52 713.6,628.41 714.1,625.65 714.6,628.86 714.98,628.77 715.1,623.08 715.22,628.77 715.1,625.07 715.6,628.91 716.1,624.94 716.6,628.94 717.1,626.99 717.6,628.75 718.1,626.27 718.6,628.85 719.1,625.95 719.6,628.9 719.76,620.72 719.88,614.72 720,620.72 720.1,626.39 720.6,628.97 721.1,625.12 721.6,628.79 722.1,627.22 722.6,628.22 723.1,626.56 723.35,613.15 723.47,607.15 723.59,613.15 723.6,628.47 724.1,627.02 724.6,628.95 725.1,626.85 725.6,628.95 726.1,625.73 726.6,628.84 727.1,626.84 727.6,629 727.93,625.7 728.05,619.7 728.17,625.7 728.1,627.31 728.6,628.87 729.1,625.49 729.6,628.33 730.1,625.04 730.6,628.9 731.1,625.08 731.12,597.21 731.24,591.21 731.36,597.21 731.6,628.68 732.1,626.09 732.6,628.42 733.1,626.54 733.6,628.46 734.1,623.89 734.6,628.72 734.5,618.13 734.62,612.13 734.74,618.13 735.1,623.3 735.6,628.3 736.1,625.02 736.6,628.48 737.1,625.93 737.6,628.39 737.89,628.69 738.01,624.08 738.13,628.69 738.1,626.21 738.6,628.6 739.1,625.94 739.6,628.5 740.1,626.23 740.6,628.2 741.1,624.91 741.6,629.06 742.1,627.31 742.6,628.36 743.1,626.05 743.6,629.01 744.1,626.85 744.6,628.97 745.1,625.56 745.6,628.95 746.1,625.89 746.6,628.35 747.1,625.81 747.6,628.45 747.85,624.5 747.97,618.5 748.09,624.5 748.1,626.8 748.6,628.76 749.1,626.48 749.6,628.71 750.1,625.42 750.24,622.51 750.36,616.51 750.48,622.51 750.6,628.91 751.1,626 751.6,628.89 752.1,626.85 752.6,628.69 753.1,626.41 753.6,628.55 753.82,626.1 753.94,620.1 754.06,626.1 754.1,626.61 754.6,628.96 755.1,622.73 755.6,628.32 756.1,625.16 756.41,620.72 756.53,614.72 756.65,620.72 756.6,628.6 757.1,626.06 757.6,628.61 758.1,626.21 758.6,628.7 759.1,625.33 759.6,628.8 760.1,626.88 760.2,624.7 760.32,618.7 760.44,624.7 760.6,628.83 761.1,626.28 761.6,628.54 762.1,625.22 762.6,628.62 763.1,626.04 763.6,628.88 764.1,626.86 764.6,628.97 765.1,625.73 765.6,628.66 765.78,628.09 765.9,622.09 766.02,628.09 766.1,626.88 766.6,628.24 767.1,627.4 767.6,628.44 768.1,626.53 768.6,628.4 769.1,624.95 769.6,628.46 770.1,626.47 770.6,628.56 771.1,625.17 771.6,628.98 771.75,626.69 771.87,620.69 771.99,626.69 772.1,625.67 772.6,629.02 773.1,624.92 773.6,628.51 774.1,627.33 774.6,628.21 775.1,625.47 775.6,628.7 776.1,625.86 776.33,620.12 776.45,614.12 776.57,620.12 776.6,629.03 777.1,627.12 777.6,628.46 778.1,625.07 778.6,629.01 779.1,625.72 779.6,628.68 780.1,626.9 780.32,627.69 780.44,621.69 780.56,627.69 780.6,628.45 781.1,626.38 781.6,628.74 782.1,626.29 782.6,628.68 783.1,625 783.11,624.5 783.23,618.5 783.35,624.5 783.6,628.5 784.1,625.37 784.6,628.3 785.1,622.82 785.6,628.76 786.1,626.29 786.6,628.33 787.1,625.86 787.29,628.09 787.41,622.09 787.53,628.09 787.6,628.38 788.1,626.48 788.6,628.38 789.1,626 789.6,628.3 790.1,626.22 790.6,628.21 791.1,626.65 791.6,628.61 792.1,626.76 792.27,628.23 792.39,622.69 792.51,628.23 792.6,628.47 793.1,626.81 793.6,628.55 794.1,626.54 794.6,628.76 795.1,625.47 795.6,628.36 796.1,626.73 796.6,628.8 796.65,628.99 796.77,623.68 796.89,628.99 797.1,625.23 797.6,628.73 798.1,626.88 798.6,628.33 799.1,626.86 799.6,628.65 800.1,627.16 800.24,628.74 800.36,623.08 800.48,628.74 800.6,628.99 801.1,627.12 801.6,628.83 802.1,625.12 802.6,628.5 803.1,626.79 803.6,628.8 804.1,625.24 804.6,628.48 804.62,627.69 804.74,621.69 804.86,627.69 805.1,625.67 805.6,628.79 806.1,627.11 806.6,628.24 807.1,627.4 807.21,620.52 807.33,614.52 807.45,620.52 807.6,628.7"/>
<text x="88.7" y="639.46" font-size="26.75" text-anchor="end">0</text>
<text x="88.7" y="579.61" font-size="26.75" text-anchor="end">1000</text>
<text x="88.7" y="519.76" font-size="26.75" text-anchor="end">2000</text>
<text transform="translate(20 570.85) rotate(-90)" font-size="29.26" text-anchor="middle">Width (mm)</text>
<text x="98.9" y="664.6" font-size="26.75" text-anchor="middle">0</text>
<text x="230" y="664.6" font-size="26.75" text-anchor="middle">1000</text>
<text x="361.1" y="664.6" font-size="26.75" text-anchor="middle">2000</text>
<text x="492.2" y="664.6" font-size="26.75" text-anchor="middle">3000</text>
<text x="623.3" y="664.6" font-size="26.75" text-anchor="middle">4000</text>
<text x="754.4" y="664.6" font-size="26.75" text-anchor="middle">5000</text>
<text x="885.5" y="664.6" font-size="26.75" text-anchor="middle">6000</text>
<text x="491.5" y="699" font-size="29.26" text-anchor="middle">Data Samples</text>
</g>
</g>
<g id="TR">
<g id="TR1">
<path class="ax" stroke-width="1.6" d="M1171 10H1982.7V135H1171ZM1171 135h8.4M1982.7 135h-8.4M1171 10h8.4M1982.7 10h-8.4"/>
<polyline class="d" stroke-width="3.2" points="1171.2,85 1178.82,85 1178.94,110 1179.06,85 1179.1,85 1179.22,10 1179.34,85 1192.07,85 1192.19,110 1192.31,85 1193.26,85 1193.38,110 1193.5,85 1194.44,85 1194.56,110 1194.68,85 1197.65,85 1197.77,35 1197.89,85 1200.44,85 1200.56,110 1200.68,85 1203.64,85 1203.76,35 1203.88,85 1206.99,85 1207.11,110 1207.23,85 1212.99,85 1213.11,110 1213.23,85 1214.47,85 1214.59,110 1214.71,85 1215.94,85 1216.06,110 1216.18,85 1217.42,85 1217.54,110 1217.66,85 1218.9,85 1219.02,110 1219.14,85 1220.38,85 1220.5,110 1220.62,85 1223.17,85 1223.29,110 1223.41,85 1225.82,85 1225.94,35 1226.06,85 1229.72,85 1229.84,35 1229.96,85 1241.57,85 1241.69,110 1241.81,85 1243.8,85 1243.92,110 1244.04,85 1248.96,85 1249.08,110 1249.2,85 1254.12,85 1254.24,110 1254.36,85 1256.35,85 1256.47,110 1256.59,85 1261.51,85 1261.63,35 1261.75,85 1270.44,85 1270.56,110 1270.68,85 1272.11,85 1272.23,110 1272.35,85 1273.78,85 1273.9,110 1274.02,85 1275.32,85 1275.44,35 1275.56,85 1285.5,85 1285.62,110 1285.74,85 1286.75,85 1286.87,110 1286.99,85 1288.01,85 1288.13,110 1288.25,85 1297.07,85 1297.19,110 1297.31,85 1298.5,85 1298.62,110 1298.74,85 1299.92,85 1300.04,110 1300.16,85 1301.35,85 1301.47,110 1301.59,85 1302.77,85 1302.89,110 1303.01,85 1304.2,85 1304.32,110 1304.44,85 1305.62,85 1305.74,110 1305.86,85 1307.05,85 1307.17,110 1307.29,85 1308.47,85 1308.59,110 1308.71,85 1309.9,85 1310.02,110 1310.14,85 1317.99,85 1318.11,110 1318.23,85 1319.29,85 1319.41,110 1319.53,85 1320.59,85 1320.71,110 1320.83,85 1321.89,85 1322.01,110 1322.13,85 1325.94,85 1326.06,110 1326.18,85 1327.26,85 1327.38,110 1327.5,85 1328.59,85 1328.71,110 1328.83,85 1332.21,85 1332.33,110 1332.45,85 1333.72,85 1333.84,110 1333.96,85 1335.24,85 1335.36,110 1335.48,85 1336.39,85 1336.51,35 1336.63,85 1336.75,85 1336.87,110 1336.99,85 1338.27,85 1338.39,110 1338.51,85 1339.78,85 1339.9,110 1340.02,85 1341.29,85 1341.41,110 1341.53,85 1342.81,85 1342.93,110 1343.05,85 1351.04,85 1351.16,110 1351.28,85 1352.48,85 1352.6,110 1352.72,85 1353.92,85 1354.04,110 1354.16,85 1355.36,85 1355.48,110 1355.6,85 1356.8,85 1356.92,110 1357.04,85 1358.24,85 1358.36,110 1358.48,85 1359.68,85 1359.8,110 1359.92,85 1361.12,85 1361.24,110 1361.36,85 1362.56,85 1362.68,110 1362.8,85 1364,85 1364.12,110 1364.24,85 1366.93,85 1367.05,35 1367.17,85 1372.93,85 1373.05,110 1373.17,85 1374.32,85 1374.44,110 1374.56,85 1375.72,85 1375.84,110 1375.96,85 1377.11,85 1377.23,110 1377.35,85 1378.51,85 1378.63,110 1378.75,85 1379.06,85 1379.18,35 1379.3,85 1379.9,85 1380.02,110 1380.14,85 1381.29,85 1381.41,110 1381.53,85 1382.69,85 1382.81,110 1382.93,85 1386.87,85 1386.99,110 1387.11,85 1388.22,85 1388.34,110 1388.46,85 1389.57,85 1389.69,110 1389.81,85 1390.92,85 1391.04,110 1391.16,85 1393.57,85 1393.69,110 1393.81,85 1395.24,85 1395.36,110 1395.48,85 1399.84,85 1399.96,110 1400.08,85 1410.3,85 1410.42,110 1410.54,85 1412.53,85 1412.65,110 1412.77,85 1414.48,85 1414.6,10 1414.72,85 1420.06,85 1420.18,110 1420.3,85 1421.36,85 1421.48,110 1421.6,85 1422.66,85 1422.78,110 1422.9,85 1422.99,85 1423.11,35 1423.23,85 1423.96,85 1424.08,110 1424.2,85 1435.82,85 1435.94,35 1436.06,85 1440.7,85 1440.82,35 1440.94,85 1441,85 1441.12,35 1441.24,85 1442.39,85 1442.51,110 1442.63,85 1442.65,85 1442.77,110 1442.89,85 1449.64,85 1449.76,110 1449.88,85 1451.11,85 1451.23,110 1451.35,85 1452.57,85 1452.69,110 1452.81,85 1454.03,85 1454.15,110 1454.27,85 1455.5,85 1455.62,110 1455.74,85 1456.96,85 1457.08,110 1457.2,85 1458.43,85 1458.55,110 1458.67,85 1463.31,85 1463.43,110 1463.55,85 1464.7,85 1464.82,110 1464.94,85 1466.1,85 1466.22,110 1466.34,85 1466.1,85 1466.22,10 1466.34,85 1467.49,85 1467.61,110 1467.73,85 1468.88,85 1469,110 1469.12,85 1470.28,85 1470.4,110 1470.52,85 1470.28,85 1470.4,60 1470.52,85 1471.67,85 1471.79,110 1471.91,85 1477.81,85 1477.93,110 1478.05,85 1479.34,85 1479.46,110 1479.58,85 1480.88,85 1481,110 1481.12,85 1481.71,85 1481.83,35 1481.95,85 1482.41,85 1482.53,110 1482.65,85 1483.8,85 1483.92,60 1484.04,85 1483.94,85 1484.06,110 1484.18,85 1485.48,85 1485.6,110 1485.72,85 1487.01,85 1487.13,110 1487.25,85 1490.36,85 1490.48,110 1490.6,85 1491.8,85 1491.92,110 1492.04,85 1493.24,85 1493.36,110 1493.48,85 1494.68,85 1494.8,110 1494.92,85 1498.86,85 1498.98,110 1499.1,85 1501.65,85 1501.77,35 1501.89,85 1504.72,85 1504.84,110 1504.96,85 1505.91,85 1506.03,110 1506.15,85 1507.09,85 1507.21,110 1507.33,85 1509.6,85 1509.72,35 1509.84,85 1512.11,85 1512.23,110 1512.35,85 1513.58,85 1513.7,110 1513.82,85 1515.04,85 1515.16,110 1515.28,85 1516.5,85 1516.62,110 1516.74,85 1517.97,85 1518.09,110 1518.21,85 1519.43,85 1519.55,110 1519.67,85 1520.9,85 1521.02,110 1521.14,85 1522.36,85 1522.48,110 1522.6,85 1523.82,85 1523.94,110 1524.06,85 1527.45,85 1527.57,110 1527.69,85 1530.8,85 1530.92,110 1531.04,85 1531.21,85 1531.33,35 1531.45,85 1532.27,85 1532.39,110 1532.51,85 1533.75,85 1533.87,110 1533.99,85 1535.23,85 1535.35,110 1535.47,85 1536.71,85 1536.83,110 1536.95,85 1537.49,85 1537.61,35 1537.73,85 1538.19,85 1538.31,110 1538.43,85 1539.58,85 1539.7,35 1539.82,85 1539.66,85 1539.78,110 1539.9,85 1541.14,85 1541.26,110 1541.38,85 1542.62,85 1542.74,110 1542.86,85 1544.1,85 1544.22,110 1544.34,85 1545.58,85 1545.7,110 1545.82,85 1546.27,85 1546.39,35 1546.51,85 1550.74,85 1550.86,110 1550.98,85 1555.06,85 1555.18,10 1555.3,85 1558.41,85 1558.53,110 1558.65,85 1562.87,85 1562.99,110 1563.11,85 1564.43,85 1564.55,110 1564.67,85 1565.99,85 1566.11,110 1566.23,85 1567.55,85 1567.67,110 1567.79,85 1569.12,85 1569.24,110 1569.36,85 1570.68,85 1570.8,110 1570.92,85 1581.13,85 1581.25,110 1581.37,85 1581.41,85 1581.53,60 1581.65,85 1587.27,85 1587.39,110 1587.51,85 1588.7,85 1588.82,110 1588.94,85 1590.13,85 1590.25,110 1590.37,85 1591.56,85 1591.68,110 1591.8,85 1592.85,85 1592.97,35 1593.09,85 1592.99,85 1593.11,110 1593.23,85 1598.15,85 1598.27,110 1598.39,85 1608.61,85 1608.73,35 1608.85,85 1610,85 1610.12,110 1610.24,85 1611.53,85 1611.65,110 1611.77,85 1613.07,85 1613.19,110 1613.31,85 1619.76,85 1619.88,110 1620,85 1625.34,85 1625.46,110 1625.58,85 1630.22,85 1630.34,110 1630.46,85 1633.15,85 1633.27,35 1633.39,85 1648.07,85 1648.19,110 1648.31,85 1654.34,85 1654.46,35 1654.58,85 1663.27,85 1663.39,110 1663.51,85 1670.24,85 1670.36,10 1670.48,85 1674.84,85 1674.96,110 1675.08,85 1676.19,85 1676.31,110 1676.43,85 1677.54,85 1677.66,110 1677.78,85 1678.88,85 1679,110 1679.12,85 1698.55,85 1698.67,110 1698.79,85 1708.59,85 1708.71,110 1708.83,85 1710.4,85 1710.52,110 1710.64,85 1712.21,85 1712.33,110 1712.45,85 1713.19,85 1713.31,35 1713.43,85 1715.28,85 1715.4,35 1715.52,85 1719.76,85 1719.88,35 1720,85 1722.55,85 1722.67,110 1722.79,85 1733.98,85 1734.1,110 1734.22,85 1744.86,85 1744.98,110 1745.1,85 1752.53,85 1752.65,35 1752.77,85 1754.2,85 1754.32,110 1754.44,85 1755.53,85 1755.65,110 1755.77,85 1756.85,85 1756.97,110 1757.09,85 1757.13,85 1757.25,35 1757.37,85 1758.18,85 1758.3,110 1758.42,85 1759.5,85 1759.62,110 1759.74,85 1767.45,85 1767.57,110 1767.69,85 1776.37,85 1776.49,35 1776.61,85 1776.65,85 1776.77,110 1776.89,85 1781.81,85 1781.93,35 1782.05,85 1792.69,85 1792.81,35 1792.93,85 1805.52,85 1805.64,35 1805.76,85 1806.49,85 1806.61,110 1806.73,85 1814.02,85 1814.14,35 1814.26,85 1820.58,85 1820.7,110 1820.82,85 1822.3,85 1822.42,110 1822.54,85 1824.02,85 1824.14,110 1824.26,85 1825.74,85 1825.86,110 1825.98,85 1833.82,85 1833.94,110 1834.06,85 1841.49,85 1841.61,35 1841.73,85 1849.44,85 1849.56,110 1849.68,85 1851.53,85 1851.65,35 1851.77,85 1856.27,85 1856.39,60 1856.51,85 1867.29,85 1867.41,35 1867.53,85 1872.03,85 1872.15,35 1872.27,85 1872.17,85 1872.29,110 1872.41,85 1874.12,85 1874.24,110 1874.36,85 1876.21,85 1876.33,35 1876.45,85 1878.03,85 1878.15,110 1878.27,85 1880.12,85 1880.24,110 1880.36,85 1886.81,85 1886.93,35 1887.05,85 1896.99,85 1897.11,35 1897.23,85 1898.53,85 1898.65,110 1898.77,85 1905.64,85 1905.76,35 1905.88,85 1933.8,85 1933.92,110 1934.04,85 1937.99,85 1938.11,35 1938.23,85 1950.26,85 1950.38,35 1950.5,85 1954.72,85 1954.84,35 1954.96,85 1959.18,85 1959.3,35 1959.42,85 1959.6,85 1959.72,110 1959.84,85 1961.2,85 1961.32,110 1961.44,85 1962.11,85 1962.23,60 1962.35,85 1962.81,85 1962.93,110 1963.05,85 1965.88,85 1966,35 1966.12,85 1967.97,85 1968.09,35 1968.21,85 1971.45,85 1971.57,110 1971.69,85 1974,85"/>
<text x="1158.6" y="145.01" font-size="27.5" text-anchor="end">0</text>
<text x="1158.6" y="20.01" font-size="27.5" text-anchor="end">5</text>
<text transform="translate(1115 73.5) rotate(-90)" font-size="30.1" text-anchor="middle">FI value</text>
</g>
<g id="TR2">
<path class="ax" stroke-width="1.6" d="M1171 184.25H1982.7V306.75H1171ZM1171 289.85h8.4M1982.7 289.85h-8.4M1171 184.25h8.4M1982.7 184.25h-8.4"/>
<polyline class="d" stroke-width="3.2" points="1171.4,188.47 1171.9,251.84 1301.82,251.84 1303.06,306.75 1414.2,306.75 1414.45,251.84 1414.45,251.84 1414.7,306.75 1438.59,306.75 1438.84,251.84 1438.84,251.84 1439.09,306.75 1466.29,306.75 1466.54,251.84 1467.57,251.84 1467.82,306.75 1469.39,306.75 1469.64,251.84 1471.08,251.84 1471.33,306.75 1540.61,306.75 1540.73,251.84 1540.85,306.75 1542.37,306.75 1542.49,251.84 1542.61,306.75 1544.13,306.75 1544.25,251.84 1544.37,306.75 1558.67,306.75 1558.92,251.84 1558.92,251.84 1559.17,306.75 1623.45,306.75 1623.57,188.47 1623.69,306.75 1624.69,306.75 1624.81,188.47 1624.93,306.75 1625.93,306.75 1626.05,188.47 1626.17,306.75 1634.07,306.75 1634.32,251.84 1635.97,251.84 1636.22,306.75 1646.47,306.75 1646.72,251.84 1646.72,251.84 1646.97,306.75 1663.21,306.75 1663.46,188.47 1663.46,188.47 1663.71,306.75 1675.19,306.75 1675.44,251.84 1675.44,251.84 1675.69,306.75 1680.98,306.75 1681.23,251.84 1681.23,251.84 1681.48,306.75 1700.41,306.75 1700.66,251.84 1700.66,251.84 1700.91,306.75 1711.36,306.75 1711.61,251.84 1711.61,251.84 1711.86,306.75 1722.44,306.75 1722.56,251.84 1722.68,306.75 1723.75,306.75 1723.87,251.84 1723.99,306.75 1725.06,306.75 1725.18,251.84 1725.3,306.75 1726.37,306.75 1726.49,251.84 1726.61,306.75 1727.27,306.75 1727.52,188.47 1727.52,188.47 1727.77,306.75 1728.23,306.75 1728.35,251.84 1728.47,306.75 1729.88,306.75 1730,251.84 1730.12,306.75 1731.54,306.75 1731.66,251.84 1731.78,306.75 1773.29,306.75 1773.41,251.84 1773.53,306.75 1774.73,306.75 1774.85,251.84 1774.97,306.75 1776.18,306.75 1776.3,251.84 1776.42,306.75 1777.63,306.75 1777.75,251.84 1777.87,306.75 1779.07,306.75 1779.19,251.84 1779.31,306.75 1794.51,306.75 1795.11,251.84 1824.66,251.84 1825.26,306.75 1934.36,306.75 1934.61,251.84 1937.3,251.84 1937.55,306.75 1940.4,306.75 1941.64,251.84 1958.17,251.84 1959,188.47 1963.13,188.47 1963.96,251.84 1973.67,251.84"/>
<text x="1159.6" y="299.87" font-size="27.5" text-anchor="end">15</text>
<text x="1159.6" y="194.26" font-size="27.5" text-anchor="end">20</text>
<text transform="translate(1114.7 246.5) rotate(-90)" font-size="30.1" text-anchor="middle">NWT (mm)</text>
</g>
<g id="TR3">
<path class="ax" stroke-width="1.6" d="M1171 355.75H1982.7V478.75H1171ZM1171 478.75h8.4M1982.7 478.75h-8.4M1171 432.16h8.4M1982.7 432.16h-8.4M1171 385.57h8.4M1982.7 385.57h-8.4"/>
<polyline class="d" stroke-width="3.2" points="1171.08,460.94 1171.2,454.94 1171.32,460.94 1171.3,469.57 1171.8,460.5 1172.3,471.22 1172.8,457.22 1173.3,470.89 1173.8,456.76 1174.3,471.07 1174.8,458.34 1175.3,469.22 1175.63,452.26 1175.75,446.26 1175.87,452.26 1175.8,460.34 1176.3,470.75 1176.8,457.19 1177.3,468.59 1177.8,454.78 1178.3,467.89 1178.8,460.83 1179.3,468.22 1179.55,422.08 1179.67,416.08 1179.79,422.08 1179.8,451.42 1180.3,470.31 1180.8,459.22 1181.3,470.35 1181.8,453.77 1182.3,471 1182.8,458.34 1183.3,471.14 1183.8,457.93 1184.3,470.75 1184.8,456.38 1185.3,468.65 1185.55,454.74 1185.67,448.74 1185.79,454.74 1185.8,452.33 1186.3,468.82 1186.8,450.27 1187.3,467.11 1187.8,457.97 1188.03,454.32 1188.15,448.32 1188.27,454.32 1188.3,470.83 1188.8,456.53 1189.3,468.51 1189.8,449.97 1190.3,468.52 1190.8,460.41 1191.3,466.77 1191.8,452.77 1192.3,468.08 1192.8,453.19 1192.99,445.44 1193.11,439.44 1193.23,445.44 1193.3,471.06 1193.8,458.46 1194.3,468.59 1194.8,451.01 1195.3,467.36 1195.8,456.49 1195.88,452.26 1196,446.26 1196.12,452.26 1196.3,466.81 1196.8,448.75 1197.3,469.77 1197.8,457.85 1198.3,469.25 1198.8,449.6 1199.3,470.79 1199.8,448.85 1200.3,467.62 1200.8,457.27 1201.3,470.13 1201.8,455.11 1202.08,446.47 1202.2,440.47 1202.32,446.47 1202.3,466.91 1202.8,458.14 1203.3,467.38 1203.8,458.43 1203.73,428.9 1203.85,422.9 1203.97,428.9 1204.3,467.46 1204.8,447.87 1205.3,470.47 1205.8,453.23 1206.3,468.52 1206.8,451.71 1207.3,469.5 1207.25,453.7 1207.37,447.7 1207.49,453.7 1207.8,453.05 1208.3,470.62 1208.8,456.69 1209.3,470.86 1209.8,456.75 1210.3,470.95 1210.8,457.69 1211.17,447.5 1211.29,441.5 1211.41,447.5 1211.3,469.53 1211.8,453.77 1212.3,468.03 1212.8,454.8 1213.3,469.03 1213.8,450.11 1214.07,451.64 1214.19,445.64 1214.31,451.64 1214.3,468.42 1214.8,460.99 1215.3,470.25 1215.8,461.63 1216.3,469.19 1216.8,456.72 1217.3,470.47 1217.58,456.8 1217.7,450.8 1217.82,456.8 1217.8,453.23 1218.3,467.01 1218.8,461.49 1219.3,467.25 1219.8,456.85 1220.3,468.83 1220.8,449.54 1221.3,468.81 1221.8,459.05 1222.3,468.01 1222.8,460.82 1222.75,448.95 1222.87,442.95 1222.99,448.95 1223.3,469.04 1223.8,449.74 1224.3,469.57 1224.8,453.84 1225.3,467.55 1225.64,436.14 1225.76,430.14 1225.88,436.14 1225.8,456.13 1226.3,471.09 1226.8,456.38 1227.3,468.2 1227.8,451.8 1228.3,468.51 1228.8,450.98 1228.95,457.84 1229.07,451.84 1229.19,457.84 1229.3,468.84 1229.8,461.52 1230.3,469.75 1230.8,447.98 1231.3,468.59 1231.8,452.96 1232.3,467.5 1232.67,456.8 1232.79,450.8 1232.91,456.8 1232.8,458.61 1233.3,467.74 1233.8,460.02 1234.3,470.75 1234.8,460.67 1235.3,466.86 1235.8,458.4 1236.3,469.15 1236.8,457.05 1237.3,468.39 1237.63,453.7 1237.75,447.7 1237.87,453.7 1237.8,459.44 1238.3,470.36 1238.8,457.8 1239.3,471.15 1239.8,460.82 1240.11,451.02 1240.23,445.02 1240.35,451.02 1240.3,470.12 1240.8,454.09 1241.3,470.26 1241.8,461.22 1242.3,469.9 1242.8,454.55 1243.3,467.71 1243.8,453.63 1244.3,467.31 1244.45,460.94 1244.57,454.94 1244.69,460.94 1244.8,451.16 1245.3,470.14 1245.8,456.31 1246.3,469.69 1246.8,454.22 1247.14,437.79 1247.26,431.79 1247.38,437.79 1247.3,470.01 1247.8,457.59 1248.3,468.69 1248.8,457.79 1249.3,469.44 1249.62,446.88 1249.74,440.88 1249.86,446.88 1249.8,460.21 1250.3,470.4 1250.8,455.35 1251.3,470.63 1251.8,456.12 1252.3,469.24 1252.8,456.29 1253.3,467.27 1253.8,455.15 1254.3,468.81 1254.37,452.67 1254.49,446.67 1254.61,452.67 1254.8,461.58 1255.3,469.13 1255.8,453.95 1256.3,467.5 1256.8,449.17 1257.3,469.97 1257.8,452.7 1258.3,467.11 1258.8,461.37 1259.3,470.52 1259.54,453.7 1259.66,447.7 1259.78,453.7 1259.8,454.33 1260.3,468.33 1260.8,458.19 1261.3,468.97 1261.4,433.04 1261.52,427.04 1261.64,433.04 1261.8,455.54 1262.3,470.04 1262.8,458.87 1263.3,470.43 1263.8,456.24 1264.3,468.68 1264.8,461.66 1265.3,471.16 1265.8,457.44 1266.15,457.84 1266.27,451.84 1266.39,457.84 1266.3,467.16 1266.8,454.96 1267.3,470.6 1267.8,457.69 1268.3,470.21 1268.8,458.77 1269.3,469.69 1269.8,456.34 1270.3,467.07 1270.28,443.37 1270.4,437.37 1270.52,443.37 1270.8,460.07 1271.3,468.24 1271.8,460.88 1272.3,470.3 1272.8,456.86 1273.3,470.28 1273.38,450.6 1273.5,444.6 1273.62,450.6 1273.8,455.58 1274.3,467.44 1274.8,452.76 1275.3,468.03 1275.8,448.71 1276.3,469.46 1276.48,446.47 1276.6,440.47 1276.72,446.47 1276.8,456.06 1277.3,468.75 1277.8,453.49 1278.3,470.87 1278.8,458.56 1279.3,467.8 1279.8,453.03 1280.3,468.86 1280.8,453.35 1281.03,456.8 1281.15,450.8 1281.27,456.8 1281.3,466.86 1281.8,448.48 1282.3,468.64 1282.8,459.95 1283.3,469.97 1283.8,460.58 1284.3,471.09 1284.8,458.1 1285.3,469.21 1285.8,451.88 1286.3,470.6 1286.8,456.58 1286.82,458.87 1286.94,452.87 1287.06,458.87 1287.3,468.9 1287.8,456.52 1288.3,467.7 1288.8,453.45 1289.3,469.54 1289.8,453.11 1290.3,469.97 1290.33,441.72 1290.45,435.72 1290.57,441.72 1290.8,460.12 1291.3,468.39 1291.8,460.9 1292.3,468.91 1292.8,459.47 1293.3,466.98 1293.43,458.46 1293.55,452.46 1293.67,458.46 1293.8,461.62 1294.3,470.99 1294.8,456.99 1295.3,467.42 1295.8,450.43 1296.3,470.69 1296.8,458.96 1297.15,460.94 1297.27,454.94 1297.39,460.94 1297.3,468.39 1297.8,453.32 1298.3,468.38 1298.8,458.84 1299.3,468.76 1299.8,461.49 1300.3,470.31 1300.8,448.55 1300.87,449.98 1300.99,443.98 1301.11,449.98 1301.3,469.64 1301.8,456.73 1302.3,470.91 1302.8,455.4 1303.3,467.01 1303.8,461.22 1304.3,468.96 1304.8,454.13 1305.3,468.27 1305.42,456.8 1305.54,450.8 1305.66,456.8 1305.8,458.61 1306.3,467.23 1306.8,461.44 1307.3,469.84 1307.8,457.63 1308.1,414.44 1308.22,408.44 1308.34,414.44 1308.3,468.85 1308.8,448.35 1309.3,467.56 1309.8,455.63 1310.3,470.08 1310.8,447.98 1311.3,469.41 1311.62,456.8 1311.74,450.8 1311.86,456.8 1311.8,460.1 1312.3,467.66 1312.8,455.95 1313.3,471.16 1313.8,457.83 1314.3,467 1314.8,452.99 1314.72,457.22 1314.84,451.22 1314.96,457.22 1315.3,470.49 1315.8,461.48 1316.3,471.21 1316.8,460.68 1317.3,470.35 1317.8,456.25 1318.3,470.02 1318.8,453.03 1319.3,467.28 1319.8,457.01 1320.3,470.6 1320.3,453.7 1320.42,447.7 1320.54,453.7 1320.8,453.74 1321.3,469.12 1321.8,455.87 1322.3,467.87 1322.8,455.95 1323.3,468.19 1323.8,454.79 1324.3,468.59 1324.43,447.09 1324.55,441.09 1324.67,447.09 1324.8,450.71 1325.3,467.75 1325.8,450.36 1326.09,451.64 1326.21,445.64 1326.33,451.64 1326.3,468.85 1326.8,460.4 1327.3,468.11 1327.8,456.93 1328.3,468.65 1328.8,461.64 1328.98,446.47 1329.1,440.47 1329.22,446.47 1329.3,470.89 1329.8,453.06 1330.3,467.81 1330.8,448.38 1331.3,468.95 1331.8,457.77 1332.3,467.79 1332.8,458.4 1333.3,470.52 1333.32,457.84 1333.44,451.84 1333.56,457.84 1333.8,455.49 1334.3,469.1 1334.8,453.82 1335.3,468.1 1335.8,453.57 1336.3,470.1 1336.42,447.92 1336.54,441.92 1336.66,447.92 1336.8,456.27 1337.3,470.94 1337.8,458.03 1338.3,467.58 1338.8,451.7 1339.3,467.51 1339.8,453.8 1339.93,378.89 1340.05,372.89 1340.17,378.89 1340.3,467.77 1340.8,453.95 1341.3,469.08 1341.8,449.08 1342.3,470.53 1342.41,412.37 1342.53,406.37 1342.65,412.37 1342.8,448.95 1343.3,467.58 1343.8,459.49 1344.3,470.25 1344.8,455.38 1345.3,467.9 1345.8,457.31 1346.3,469.41 1346.8,455.32 1346.75,460.94 1346.87,454.94 1346.99,460.94 1347.3,468.12 1347.8,459.46 1348.3,467.98 1348.8,449.76 1349.3,470.65 1349.8,457.25 1350.3,467.61 1350.8,458.26 1351.3,467.58 1351.3,436.76 1351.42,430.76 1351.54,436.76 1351.8,458.73 1352.3,469.64 1352.8,452.33 1353.3,469.62 1353.8,457.57 1354.3,470.26 1354.8,457.72 1355.3,467.03 1355.8,456.11 1356.3,468.63 1356.67,457.84 1356.79,451.84 1356.91,457.84 1356.8,461.18 1357.3,470.05 1357.8,460.3 1358.3,470.7 1358.8,459.62 1359.3,467.23 1359.8,455.62 1360.3,470.93 1360.19,459.9 1360.31,453.9 1360.43,459.9 1360.8,460.59 1361.3,468.14 1361.8,456.46 1362.3,469.38 1362.8,459.22 1363.3,470.57 1363.8,457.46 1364.3,469.6 1364.8,453.73 1364.94,447.3 1365.06,441.3 1365.18,447.3 1365.3,468.34 1365.8,461.74 1366.3,467.31 1366.8,455.03 1367.3,467.44 1367.8,453.25 1368.3,470.51 1368.8,451.57 1369.3,470.88 1369.8,461.67 1370.3,471.22 1370.8,457.42 1371.3,468.04 1371.55,458.87 1371.67,452.87 1371.79,458.87 1371.8,455.2 1372.3,467.62 1372.8,455.96 1373.3,469.29 1373.8,452.93 1374.3,467.21 1374.8,451.67 1374.86,451.64 1374.98,445.64 1375.1,451.64 1375.3,467.51 1375.8,460.09 1376.3,470.02 1376.8,458.52 1377.3,468.78 1377.8,459.35 1378.3,470.6 1378.58,449.98 1378.7,443.98 1378.82,449.98 1378.8,455.5 1379.3,467.81 1379.8,455.47 1380.3,467.08 1380.8,456.65 1381.3,468.64 1381.8,457.91 1381.89,446.47 1382.01,440.47 1382.13,446.47 1382.3,470.92 1382.8,460.01 1383.3,467.95 1383.8,455.55 1384.3,469.82 1384.8,455.19 1384.99,451.64 1385.11,445.64 1385.23,451.64 1385.3,470.37 1385.8,452.78 1386.3,469.13 1386.8,459.88 1387.3,469.13 1387.8,457.92 1388.3,469.74 1388.5,452.26 1388.62,446.26 1388.74,452.26 1388.8,455.72 1389.3,467.55 1389.8,461.12 1390.3,467.51 1390.8,460.68 1391.3,469.39 1391.39,452.05 1391.51,446.05 1391.63,452.05 1391.8,453.03 1392.3,468.37 1392.8,454.28 1393.3,469.83 1393.8,452.53 1394.3,471.03 1394.8,455.23 1395.3,470.95 1395.32,457.84 1395.44,451.84 1395.56,457.84 1395.8,452.88 1396.3,469.62 1396.8,453.87 1397.3,467.9 1397.8,460.11 1398.3,469.26 1398.63,447.09 1398.75,441.09 1398.87,447.09 1398.8,461.32 1399.3,470.2 1399.8,459.33 1400.3,469.46 1400.8,452.47 1401.3,469.42 1401.52,458.87 1401.64,452.87 1401.76,458.87 1401.8,461.04 1402.3,469.7 1402.8,461.58 1403.3,470.54 1403.8,460.13 1404.3,469.32 1404.62,446.47 1404.74,440.47 1404.86,446.47 1404.8,456.76 1405.3,468.43 1405.8,453.21 1406.3,469.71 1406.8,451.81 1407.3,470.7 1407.8,458.32 1408.3,469.5 1408.8,456.05 1409.3,469.08 1409.8,455.66 1409.79,460.94 1409.91,454.94 1410.03,460.94 1410.3,469.59 1410.8,458.28 1411.3,467.47 1411.8,451.3 1412.3,469.34 1412.8,458.97 1412.89,442.34 1413.01,436.34 1413.13,442.34 1413.3,469.51 1413.8,457.2 1414.3,468.6 1414.8,456.84 1415.3,470.98 1415.37,458.87 1415.49,452.87 1415.61,458.87 1415.8,454.27 1416.3,470.35 1416.8,460.84 1417.3,468.65 1417.8,453.33 1418.3,468.67 1418.26,448.95 1418.38,442.95 1418.5,448.95 1418.8,453.57 1419.3,470.49 1419.8,460.65 1420.3,471.19 1420.8,454.09 1421.3,469 1421.57,451.64 1421.69,445.64 1421.81,451.64 1421.8,455.79 1422.3,469.48 1422.8,453.14 1423.3,470.8 1423.8,461.27 1424.3,467.74 1424.8,454.07 1424.88,452.05 1425,446.05 1425.12,452.05 1425.3,469.62 1425.8,459.23 1426.3,471.24 1426.8,459 1427.3,468.38 1427.36,453.08 1427.48,447.08 1427.6,453.08 1427.8,460.74 1428.3,470.26 1428.8,448.61 1429.3,469.15 1429.8,455.88 1430.3,467.43 1430.46,455.77 1430.58,449.77 1430.7,455.77 1430.8,453.95 1431.3,468.94 1431.8,456.69 1432.3,468.81 1432.8,450.08 1433.3,469 1433.8,449.21 1434.3,470.88 1434.8,447.86 1435.3,470.52 1435.21,456.39 1435.33,450.39 1435.45,456.39 1435.8,461.25 1436.3,470.27 1436.8,456.36 1437.3,468.2 1437.8,456.88 1438.1,459.9 1438.22,453.9 1438.34,459.9 1438.3,471.01 1438.8,459.62 1439.3,467.81 1439.8,461.51 1440.3,468.89 1440.8,451.33 1441,362.77 1441.12,356.77 1441.24,362.77 1441.3,471.18 1441.8,454.19 1442.3,468.03 1442.8,459.54 1443.3,467.28 1443.8,461.59 1444.3,467.16 1444.8,454.83 1444.92,457.84 1445.04,451.84 1445.16,457.84 1445.3,467.85 1445.8,460.31 1446.3,468.44 1446.8,459.95 1447.3,467.39 1447.4,439.65 1447.52,433.65 1447.64,439.65 1447.8,457.51 1448.3,471.21 1448.8,457.09 1449.3,469.75 1449.8,457.3 1450.3,467.32 1450.8,447.75 1451.12,457.84 1451.24,451.84 1451.36,457.84 1451.3,469.63 1451.8,460.09 1452.3,468.6 1452.8,457.62 1453.3,468.94 1453.8,456.51 1454.3,468.01 1454.8,447.96 1455.3,470.81 1455.8,454.54 1455.88,449.98 1456,443.98 1456.12,449.98 1456.3,468.51 1456.8,459.58 1457.3,467.27 1457.8,455.01 1458.3,469.19 1458.36,453.7 1458.48,447.7 1458.6,453.7 1458.8,454.79 1459.3,469.82 1459.8,456.12 1460.3,466.92 1460.8,449.25 1461.3,468.21 1461.8,457.83 1462.3,467.06 1462.49,458.25 1462.61,452.25 1462.73,458.25 1462.8,457.49 1463.3,468.38 1463.8,454.77 1464.3,467.84 1464.8,454.79 1465.3,469.16 1465.8,459.97 1466.3,467.98 1466.21,456.39 1466.33,450.39 1466.45,456.39 1466.8,461.15 1467.3,468.34 1467.8,455.92 1468.3,467.26 1468.8,455.2 1469.1,456.8 1469.22,450.8 1469.34,456.8 1469.3,470.03 1469.8,447.88 1470.3,470.47 1470.8,460.39 1471.3,470.19 1471.8,456.58 1472.3,470.34 1472.8,461.3 1472.82,453.7 1472.94,447.7 1473.06,453.7 1473.3,467.61 1473.8,460.82 1474.3,469.21 1474.8,461.45 1475.3,467.52 1475.51,448.54 1475.63,442.54 1475.75,448.54 1475.8,453.51 1476.3,469.91 1476.8,455.88 1477.3,471.21 1477.8,461.09 1477.99,448.54 1478.11,442.54 1478.23,448.54 1478.3,467.16 1478.8,458.33 1479.3,469.56 1479.8,453.81 1480.3,470.69 1480.68,441.72 1480.8,435.72 1480.92,441.72 1480.8,458.63 1481.3,468.99 1481.8,454 1482.3,469.66 1482.8,452.83 1483.16,381.78 1483.28,375.78 1483.4,381.78 1483.3,468.9 1483.8,456.32 1484.3,470.03 1484.8,453.38 1485.3,466.76 1485.8,456.59 1486.3,467.1 1486.8,449.85 1487.3,468.67 1487.29,457.84 1487.41,451.84 1487.53,457.84 1487.8,458.57 1488.3,470.83 1488.8,457.62 1489.3,469.28 1489.8,454.14 1490.3,467.86 1490.8,454.96 1491.3,469.16 1491.42,455.77 1491.54,449.77 1491.66,455.77 1491.8,455.57 1492.3,466.88 1492.8,454.54 1493.3,468.62 1493.8,457.68 1494.3,468.23 1494.8,461.11 1494.94,443.37 1495.06,437.37 1495.18,443.37 1495.3,467.4 1495.8,458.1 1496.3,468.56 1496.8,456.22 1497.3,469.47 1497.8,455.69 1498.04,454.74 1498.16,448.74 1498.28,454.74 1498.3,467.4 1498.8,455.53 1499.3,471.08 1499.8,457.3 1500.3,470.37 1500.8,457.21 1501.3,467.06 1501.8,456.08 1501.76,395.83 1501.88,389.83 1502,395.83 1502.3,471.14 1502.8,449.72 1503.3,469.88 1503.8,456.25 1504.3,471.05 1504.8,459.7 1504.86,458.87 1504.98,452.87 1505.1,458.87 1505.3,468.27 1505.8,456.89 1506.3,468.18 1506.8,453.6 1507.3,467.7 1507.34,428.49 1507.46,422.49 1507.58,428.49 1507.8,450.08 1508.3,470.97 1508.8,459.33 1509.3,469.57 1509.8,459.88 1510.02,429.52 1510.14,423.52 1510.26,429.52 1510.3,468.72 1510.8,455.79 1511.3,468.37 1511.8,453.19 1512.3,467.61 1512.8,456.28 1513.3,468.78 1513.8,458.72 1514.3,470.83 1514.8,457.93 1514.78,445.44 1514.9,439.44 1515.02,445.44 1515.3,469.41 1515.8,459.02 1516.3,467.41 1516.8,458.86 1517.3,471.11 1517.8,459.6 1518.3,468.37 1518.29,453.7 1518.41,447.7 1518.53,453.7 1518.8,453.76 1519.3,470.08 1519.8,454.35 1520.3,467.68 1520.8,455.74 1521.3,469.48 1521.8,456.61 1522.01,438.62 1522.13,432.62 1522.25,438.62 1522.3,467.3 1522.8,459.03 1523.3,470.79 1523.8,460.95 1524.3,469.94 1524.8,457.84 1525.3,467.17 1525.52,456.8 1525.64,450.8 1525.76,456.8 1525.8,453.96 1526.3,469.89 1526.8,457.54 1527.3,468.68 1527.8,461.46 1528.3,471.06 1528.63,452.67 1528.75,446.67 1528.87,452.67 1528.8,459.22 1529.3,467.97 1529.8,450.69 1530.3,470.22 1530.8,455.3 1531.3,467.18 1531.31,428.49 1531.43,422.49 1531.55,428.49 1531.8,453.09 1532.3,468.7 1532.8,460.58 1533.3,468.1 1533.8,456.06 1534.3,469.56 1534.8,457.93 1534.83,453.7 1534.95,447.7 1535.07,453.7 1535.3,470.42 1535.8,458.19 1536.3,470.98 1536.8,454.41 1537.3,468.33 1537.8,460.68 1537.93,434.07 1538.05,428.07 1538.17,434.07 1538.3,467.25 1538.8,450.5 1539.3,470.18 1539.8,453.99 1540.3,470.71 1540.61,447.5 1540.73,441.5 1540.85,447.5 1540.8,457.79 1541.3,466.92 1541.8,458.17 1542.3,470.66 1542.8,457.42 1543.09,452.05 1543.21,446.05 1543.33,452.05 1543.3,468.36 1543.8,460.96 1544.3,469.63 1544.8,452.26 1545.3,469.39 1545.8,454.64 1546.3,469.51 1546.8,459.45 1547.3,469.25 1547.8,459.51 1548.3,471 1548.26,444.4 1548.38,438.4 1548.5,444.4 1548.8,454.76 1549.3,467.64 1549.8,455.72 1550.3,470.01 1550.8,457.44 1551.3,467.51 1551.36,454.74 1551.48,448.74 1551.6,454.74 1551.8,458.12 1552.3,467.97 1552.8,453.45 1553.3,466.84 1553.8,454.6 1554.3,469.13 1554.8,455.51 1555.08,439.65 1555.2,433.65 1555.32,439.65 1555.3,470.19 1555.8,454.86 1556.3,467.3 1556.8,458.43 1557.3,471.18 1557.8,453.86 1558.3,470.61 1558.59,454.74 1558.71,448.74 1558.83,454.74 1558.8,458.27 1559.3,469.88 1559.8,459.36 1560.3,467.85 1560.8,457.52 1561.3,469.53 1561.8,453.31 1561.69,455.15 1561.81,449.15 1561.93,455.15 1562.3,470.99 1562.8,454.89 1563.3,468.13 1563.8,450.02 1564.3,467.98 1564.8,460.22 1565.3,470.04 1565.41,449.57 1565.53,443.57 1565.65,449.57 1565.8,461.32 1566.3,470.14 1566.8,460.15 1567.3,467.72 1567.8,457.13 1567.69,443.37 1567.81,437.37 1567.93,443.37 1568.3,470.18 1568.8,453.71 1569.3,468.01 1569.8,453.47 1570.3,469.44 1570.8,456.91 1571.2,472.21 1571.7,457.46 1572.2,473.45 1572.7,453.62 1573.06,452.67 1573.18,446.67 1573.3,452.67 1573.2,473.61 1573.7,456.54 1574.2,473.3 1574.7,452.22 1575.2,474 1575.7,453.15 1576.2,472.85 1576.7,458.91 1576.95,453.08 1577.07,447.08 1577.19,453.08 1577.2,471.82 1577.19,452.67 1577.31,446.67 1577.43,452.67 1577.7,460.42 1578.2,470.81 1578.7,452.06 1579.2,474 1579.7,446.1 1580.2,473.12 1580.7,458.09 1581.2,473.08 1581.7,456.26 1581.7,396.87 1581.82,390.87 1581.94,396.87 1582.2,472.16 1582.7,453.31 1583.2,473.39 1583.7,448.77 1584.2,471.37 1584.7,455.17 1585.2,471.24 1585.7,460.25 1586.2,472.88 1586.7,447.1 1587.2,473.82 1587.7,460.09 1588.2,470.93 1588.31,449.98 1588.43,443.98 1588.55,449.98 1588.7,457.61 1589.2,473.22 1589.7,455.58 1590.2,473.74 1590.7,457.19 1591.2,471.94 1591.7,453.54 1592.2,472.52 1592.7,458.27 1593.2,474.13 1593.7,454.62 1594.2,473.06 1594.7,460.95 1595.2,472.17 1595.55,453.08 1595.67,447.08 1595.79,453.08 1595.7,453.05 1596.2,473.33 1596.7,456.5 1597.2,472.38 1597.7,448.81 1598.2,472.58 1598.7,457.74 1598.65,451.64 1598.77,445.64 1598.89,451.64 1599.2,472.32 1599.7,456.85 1600.2,472.65 1600.7,452.06 1601.2,474.03 1601.7,461.72 1601.75,449.98 1601.87,443.98 1601.99,449.98 1602.2,473.83 1602.7,460.66 1603.2,470.77 1603.7,456.9 1604.2,472.67 1604.7,456.74 1605.2,471.68 1605.47,445.44 1605.59,439.44 1605.71,445.44 1605.7,454.77 1606.2,471.94 1606.7,452.65 1607.2,473.34 1607.7,455.56 1608.2,471.97 1608.36,432 1608.48,426 1608.6,432 1608.7,453.46 1609.2,471.4 1609.7,452.13 1610.2,471.23 1610.7,454.57 1611.2,473.99 1611.7,452.62 1611.67,464.04 1611.79,458.04 1611.91,464.04 1612.2,470.81 1612.7,458.9 1613.2,473.67 1613.7,455.8 1614.2,473.5 1614.7,450.58 1615.2,473.44 1615.7,460.79 1616.2,471.13 1616.7,457.11 1616.63,444.4 1616.75,438.4 1616.87,444.4 1617.2,472.37 1617.7,457.52 1618.2,472.26 1618.7,459.09 1619.2,472.02 1619.31,455.77 1619.43,449.77 1619.55,455.77 1619.7,459.65 1620.2,471.18 1620.7,453.04 1621.2,473.91 1621.7,451.42 1622.2,473.28 1622.7,457.18 1623.2,472.01 1623.7,458.93 1624.2,472.43 1624.48,445.44 1624.6,439.44 1624.72,445.44 1624.7,459.11 1625.2,472.99 1625.7,454.48 1626.2,472.63 1626.7,456.98 1627.2,471.81 1627.7,454.55 1628.2,472.77 1628.2,447.92 1628.32,441.92 1628.44,447.92 1628.7,452.1 1629.2,471.7 1629.7,461.1 1630.2,471.31 1630.7,461.59 1630.68,448.54 1630.8,442.54 1630.92,448.54 1631.2,471.63 1631.7,455.65 1632.2,473.52 1632.7,447.01 1633.2,470.97 1633.7,459.55 1633.78,448.95 1633.9,442.95 1634.02,448.95 1634.2,473.5 1634.7,456.03 1635.2,470.84 1635.7,450.54 1636.2,471.27 1636.7,456.01 1637.2,471.4 1637.5,440.68 1637.62,434.68 1637.74,440.68 1637.7,452.2 1638.2,473.99 1638.7,448.36 1639.2,471.23 1639.7,457.78 1640.2,473.57 1640.7,460.17 1641.2,471.21 1641.43,430.35 1641.55,424.35 1641.67,430.35 1641.7,461.44 1642.2,472.41 1642.7,458.26 1643.2,472.19 1643.7,458.27 1644.2,471.21 1644.7,454.69 1645.2,471.69 1645.15,452.26 1645.27,446.26 1645.39,452.26 1645.7,460 1646.2,471.35 1646.7,458.32 1647.2,472.59 1647.7,459.81 1648.2,473.63 1648.25,445.44 1648.37,439.44 1648.49,445.44 1648.7,459.88 1649.2,472.21 1649.7,452 1650.2,472.93 1650.7,451.44 1650.94,447.5 1651.06,441.5 1651.18,447.5 1651.2,470.92 1651.7,461.25 1652.2,471.99 1652.7,458.15 1653.2,470.93 1653.7,461.32 1654.2,472.69 1654.24,429.52 1654.36,423.52 1654.48,429.52 1654.7,459.8 1655.2,472.77 1655.7,454.23 1656.2,471.51 1656.7,452.96 1656.93,434.48 1657.05,428.48 1657.17,434.48 1657.2,472.17 1657.7,457.54 1658.2,471.12 1658.7,445.99 1658.58,441.3 1658.7,435.3 1658.82,441.3 1659.2,473.79 1659.7,454.53 1660.2,473.16 1660.7,455.25 1661.2,472.98 1661.7,452.68 1662.2,472.08 1662.7,450.8 1663.2,471.85 1663.34,452.67 1663.46,446.67 1663.58,452.67 1663.7,460.78 1664.2,472.54 1664.7,455.98 1665.2,473.41 1665.7,458.2 1666.2,473.51 1666.7,453.13 1667.2,473.9 1667.7,446.73 1668.2,473 1668.7,452.56 1669.2,472.93 1669.7,455.5 1669.95,445.44 1670.07,439.44 1670.19,445.44 1670.2,473.45 1670.7,458.86 1671.2,473.31 1671.7,459.29 1672.02,445.44 1672.14,439.44 1672.26,445.44 1672.2,472.73 1672.7,451.72 1673.2,474.06 1673.7,461.2 1674.2,470.82 1674.7,460.5 1675.2,474.1 1675.53,453.7 1675.65,447.7 1675.77,453.7 1675.7,455.13 1676.2,471.08 1676.7,449.49 1677.2,472.59 1677.7,447.99 1678.2,472.49 1678.7,454.66 1678.63,430.35 1678.75,424.35 1678.87,430.35 1679.2,473.25 1679.7,459.99 1680.2,473.63 1680.7,460.96 1681.2,473.67 1681.7,447.52 1681.94,454.32 1682.06,448.32 1682.18,454.32 1682.2,471.4 1682.7,455.99 1683.2,471.59 1683.7,457.47 1684.2,471.73 1684.7,455.41 1685.2,471.95 1685.7,456.39 1685.86,432 1685.98,426 1686.1,432 1686.2,471.8 1686.7,457.56 1687.2,472.88 1687.7,449.95 1688.2,471.26 1688.14,441.3 1688.26,435.3 1688.38,441.3 1688.7,448.09 1689.2,472.62 1689.7,452.76 1690.2,471.52 1690.7,458.36 1691.2,473.62 1691.7,456.85 1692.2,472.55 1692.7,459.01 1693.2,472.38 1693.7,455.21 1693.72,453.7 1693.84,447.7 1693.96,453.7 1694.2,472.26 1694.7,460.26 1695.2,473.07 1695.7,449 1696.2,471.86 1696.7,452.06 1697.2,472.86 1697.7,453.99 1698.2,471.04 1698.26,431.18 1698.38,425.18 1698.5,431.18 1698.7,460.47 1699.2,470.99 1699.7,457.4 1700.2,471.31 1700.7,452.58 1701.2,473.84 1701.7,461.07 1702.2,472.6 1702.4,439.65 1702.52,433.65 1702.64,439.65 1702.7,454.26 1703.2,472.79 1703.7,454.77 1704.2,470.92 1704.7,459.34 1705.2,472.85 1705.5,451.64 1705.62,445.64 1705.74,451.64 1705.7,455.77 1706.2,471.37 1706.7,457.89 1707.2,470.79 1707.7,456.4 1708.2,471.25 1708.7,447.81 1708.8,443.37 1708.92,437.37 1709.04,443.37 1709.2,471.25 1709.7,450.68 1710.2,473.57 1710.7,457.91 1711.2,473.01 1711.7,455.86 1711.7,451.64 1711.82,445.64 1711.94,451.64 1712.2,472.94 1712.7,461.7 1713.2,472.44 1713.7,453.99 1714.2,473.99 1714.7,454.61 1714.8,426.42 1714.92,420.42 1715.04,426.42 1715.2,473.76 1715.7,453.36 1716.2,473.83 1716.7,457.13 1717.2,473.9 1717.48,445.44 1717.6,439.44 1717.72,445.44 1717.7,446.79 1718.2,472.28 1718.7,456.04 1719.2,473.86 1719.7,452.31 1720.2,471.26 1720.7,453.6 1721.2,474.07 1721.7,451.77 1722.2,471.73 1722.24,441.3 1722.36,435.3 1722.48,441.3 1722.7,458.76 1723.2,472.62 1723.7,459.48 1724.2,472.56 1724.7,458.73 1725.2,471.06 1725.7,448.48 1726.2,472.01 1726.7,453.6 1727.2,473.35 1727.7,458.01 1728.2,471.5 1728.23,456.39 1728.35,450.39 1728.47,456.39 1728.7,456.1 1729.2,474.04 1729.7,460.11 1730.2,473.1 1730.7,448.95 1731.2,474 1731.33,452.67 1731.45,446.67 1731.57,452.67 1731.7,461.58 1732.2,472.61 1732.7,458.23 1733.2,471.84 1733.7,459.16 1734.2,474.01 1734.7,455.21 1735.2,473.34 1735.7,456.6 1736.2,472.54 1736.09,463 1736.21,457 1736.33,463 1736.7,458.24 1737.2,471.5 1737.7,454.77 1738.2,473.15 1738.7,461.19 1739.2,471.69 1739.7,458.15 1740.2,472.55 1740.7,461.05 1740.84,454.32 1740.96,448.32 1741.08,454.32 1741.2,473.06 1741.7,459.76 1742.2,472.16 1742.7,447.35 1743.2,473.6 1743.7,456.92 1744.2,472.83 1744.35,452.67 1744.47,446.67 1744.59,452.67 1744.7,459.72 1745.2,471.26 1745.7,456.84 1746.2,472.28 1746.7,452.57 1747.2,470.83 1747.45,455.77 1747.57,449.77 1747.69,455.77 1747.7,455.17 1748.2,471.79 1748.7,459.3 1749.2,473.57 1749.7,457.7 1750.2,473.5 1750.7,457.52 1751.2,472.74 1751.7,459.44 1752.2,471.31 1752.7,456.94 1752.62,459.9 1752.74,453.9 1752.86,459.9 1753.2,471.4 1753.7,453.73 1754.2,471.64 1754.7,454.46 1755.2,471.44 1755.7,459.86 1756.2,471.98 1756.7,456.34 1757.2,471.03 1757.7,453.85 1758.2,471.09 1758.41,435.72 1758.53,429.72 1758.65,435.72 1758.7,458.47 1759.2,471.14 1759.7,455.93 1760.2,473.55 1760.7,453.73 1761.2,472.79 1761.3,437.58 1761.42,431.58 1761.54,437.58 1761.7,457.53 1762.2,473.83 1762.7,461.16 1763.2,473.23 1763.7,458.97 1764.2,471.58 1764.7,456.4 1764.61,453.7 1764.73,447.7 1764.85,453.7 1765.2,471.12 1765.7,455.37 1766.2,471.38 1766.7,454.74 1767.2,471.59 1767.29,430.35 1767.41,424.35 1767.53,430.35 1767.7,460.57 1768.2,472.06 1768.7,461.52 1769.2,472.76 1769.15,437.17 1769.27,431.17 1769.39,437.17 1769.7,447.86 1770.2,473.23 1770.7,460.21 1771.2,473.96 1771.7,454.72 1772.2,471.1 1772.7,449.12 1772.67,451.64 1772.79,445.64 1772.91,451.64 1773.2,472.75 1773.7,456.4 1774.2,472.19 1774.7,458.14 1775.2,472.57 1775.7,450.19 1776.2,470.77 1776.39,454.74 1776.51,448.74 1776.63,454.74 1776.7,458.27 1777.2,473.8 1777.7,459.22 1778.2,472.57 1778.7,457.7 1779.2,473.64 1779.7,456.2 1780.2,474.14 1780.7,454.16 1781.2,472.92 1781.55,434.9 1781.67,428.9 1781.79,434.9 1781.7,460.16 1782.2,471.83 1782.7,447.18 1783.2,473.58 1783.7,456.39 1784.03,448.54 1784.15,442.54 1784.27,448.54 1784.2,473.15 1784.7,452.56 1785.2,473.1 1785.7,447.83 1786.2,471.42 1786.7,453.27 1787.2,471.64 1787.7,459.29 1787.75,458.87 1787.87,452.87 1787.99,458.87 1788.2,472.2 1788.7,459.08 1789.2,473.98 1789.7,456.73 1790.2,473 1790.7,449.74 1791.2,472.48 1791.47,424.77 1791.59,418.77 1791.71,424.77 1791.7,456.38 1792.2,472.88 1792.7,452.83 1793.2,472.55 1793.7,459.92 1794.2,471.45 1794.7,457.88 1794.99,458.87 1795.11,452.87 1795.23,458.87 1795.2,472.99 1795.7,460.84 1796.2,472.67 1796.7,459.97 1797.2,473.55 1797.7,448.43 1798.2,471.97 1798.7,458.32 1799.2,471.09 1799.7,455.83 1799.74,446.88 1799.86,440.88 1799.98,446.88 1800.2,474.12 1800.7,452.68 1801.2,473.96 1801.7,453.98 1802.2,474.09 1802.22,449.16 1802.34,443.16 1802.46,449.16 1802.7,456.66 1803.2,472.14 1803.7,460.24 1804.2,471.43 1804.7,452.07 1805.2,472.19 1805.32,452.67 1805.44,446.67 1805.56,452.67 1805.7,452.2 1806.2,471.93 1806.7,453.19 1807.2,470.83 1807.7,457.68 1808.2,471.25 1808.7,461.59 1808.83,439.65 1808.95,433.65 1809.07,439.65 1809.2,473.59 1809.7,454.77 1810.2,473.5 1810.7,456.64 1811.2,472.86 1811.7,458.34 1812.2,472.2 1812.55,443.37 1812.67,437.37 1812.79,443.37 1812.7,453.07 1813.2,474.12 1813.7,450.12 1814.2,471.63 1814.7,456.86 1815.2,471.29 1815.7,450.47 1816.07,430.35 1816.19,424.35 1816.31,430.35 1816.2,472.2 1816.7,459.71 1817.2,474.05 1817.7,460.2 1818.2,472.09 1818.7,452.58 1819.2,471.39 1819.7,457.03 1819.79,458.87 1819.91,452.87 1820.03,458.87 1820.2,472.46 1820.7,454.68 1821.2,471.14 1821.7,451.35 1822.2,472.95 1822.7,446.66 1823.2,472.26 1823.7,452.27 1824.2,471.43 1824.7,450.38 1825.2,472.72 1825.57,446.06 1825.69,440.06 1825.81,446.06 1825.7,452.48 1826.2,471.46 1826.7,461.29 1827.2,473.02 1827.7,456.6 1828.05,448.54 1828.17,442.54 1828.29,448.54 1828.2,473.14 1828.7,459.21 1829.2,472.26 1829.7,461.74 1830.2,473.91 1830.7,453.42 1831.2,471.32 1831.15,460.94 1831.27,454.94 1831.39,460.94 1831.7,461.4 1832.2,471.15 1832.7,457.08 1833.2,473.61 1833.7,449.58 1834.2,473.08 1834.46,444.4 1834.58,438.4 1834.7,444.4 1834.7,452.64 1835.2,470.87 1835.7,458.9 1836.2,471.73 1836.32,435.72 1836.44,429.72 1836.56,435.72 1836.7,456.01 1837.2,474.05 1837.7,459.48 1838.2,472.08 1838.39,444.4 1838.51,438.4 1838.63,444.4 1838.7,452.92 1839.2,471.91 1839.7,456.3 1840.2,472.82 1840.7,452.56 1841.2,471.69 1841.49,452.67 1841.61,446.67 1841.73,452.67 1841.7,455.12 1842.2,470.89 1842.7,458.23 1843.2,472.02 1843.7,456.75 1844.2,472.74 1844.7,452.42 1845.2,473.38 1845.42,406.17 1845.54,400.17 1845.66,406.17 1845.7,455.02 1846.2,472.15 1846.7,451.36 1847.2,472.86 1847.7,454.74 1848.2,470.88 1848.7,450.63 1848.93,389.22 1849.05,383.22 1849.17,389.22 1849.2,471.28 1849.7,447.9 1850.2,474.07 1850.7,447.73 1851.2,471.36 1851.7,459.14 1851.82,441.92 1851.94,435.92 1852.06,441.92 1852.2,471.26 1852.7,459.78 1853.2,472.01 1853.7,460.97 1854.2,471.55 1854.7,457.97 1855.2,473.9 1855.7,455.72 1855.96,439.65 1856.08,433.65 1856.2,439.65 1856.2,472.62 1856.7,460.46 1857.2,473.05 1857.7,458.81 1858.2,472.67 1858.7,457.4 1859.2,471.59 1859.7,452.79 1860.2,471.7 1860.09,456.8 1860.21,450.8 1860.33,456.8 1860.7,458.89 1861.2,472.21 1861.7,455.4 1862.2,471.14 1862.7,456.83 1863.2,473.27 1863.7,460.15 1864.2,471.35 1864.7,460.31 1864.64,444.4 1864.76,438.4 1864.88,444.4 1865.2,473.77 1865.7,449.23 1866.2,471.92 1866.7,454.73 1867.2,473.81 1867.32,432 1867.44,426 1867.56,432 1867.7,458.69 1868.2,471.11 1868.7,457.53 1869.2,472.06 1869.7,448.1 1870.2,470.99 1870.42,454.74 1870.54,448.74 1870.66,454.74 1870.7,448.07 1871.2,470.95 1871.7,459.03 1872.2,473.3 1872.7,455.77 1873.2,471.26 1873.52,443.37 1873.64,437.37 1873.76,443.37 1873.7,456.3 1874.2,473.44 1874.7,459.24 1875.2,472.81 1875.7,457.35 1876,421.67 1876.12,415.67 1876.24,421.67 1876.2,471.26 1876.7,453.41 1877.2,472.81 1877.7,461.52 1878.2,472.5 1878.7,460.06 1878.69,453.7 1878.81,447.7 1878.93,453.7 1879.2,473.33 1879.7,456.99 1880.2,473.33 1880.7,455.29 1881.2,473.79 1881.7,454.39 1882.2,472.32 1882.7,455.66 1883.2,471.51 1883.7,454.62 1883.86,452.26 1883.98,446.26 1884.1,452.26 1884.2,472.56 1884.7,460.34 1885.2,471.97 1885.7,454.04 1886.2,472.47 1886.7,461.17 1886.96,404.1 1887.08,398.1 1887.2,404.1 1887.2,473.69 1887.7,459.39 1888.2,473.75 1888.7,447.55 1889.2,471.18 1889.7,461.14 1890.2,472.65 1890.7,451.98 1891.2,472.17 1891.09,449.57 1891.21,443.57 1891.33,449.57 1891.7,451.08 1892.2,471.97 1892.7,452.68 1893.2,471.05 1893.7,460.1 1894.2,473.51 1894.7,456.35 1894.6,446.88 1894.72,440.88 1894.84,446.88 1895.2,472.63 1895.7,457.08 1896.2,473.13 1896.7,451.73 1897.2,472.36 1897.7,460.7 1898.2,472.75 1898.32,452.67 1898.44,446.67 1898.56,452.67 1898.7,458.78 1899.2,472.98 1899.7,447.95 1900.2,473.52 1900.7,446.76 1901.2,471.54 1901.7,447.51 1902.04,448.54 1902.16,442.54 1902.28,448.54 1902.2,471.46 1902.7,454.96 1903.2,472.8 1903.7,455.27 1904.2,473.16 1904.7,459.48 1905.2,474.09 1905.14,433.45 1905.26,427.45 1905.38,433.45 1905.7,450.18 1906.2,472.55 1906.7,452.73 1907.2,471.21 1907.7,452.44 1907.62,416.3 1907.74,410.3 1907.86,416.3 1908.2,471.92 1908.7,456.23 1909.2,471.81 1909.7,460.71 1910.2,471.25 1910.7,457.54 1910.72,436.14 1910.84,430.14 1910.96,436.14 1911.2,471.52 1911.7,454.48 1912.2,472.44 1912.7,453.38 1913.2,472.2 1913.7,461.25 1913.82,449.57 1913.94,443.57 1914.06,449.57 1914.2,473.61 1914.7,445.94 1915.2,473.67 1915.7,454.57 1916.2,470.82 1916.7,453.14 1917.2,473.32 1917.34,446.88 1917.46,440.88 1917.58,446.88 1917.7,457.48 1918.2,473.42 1918.7,452.49 1919.2,473.75 1919.7,457.11 1920.02,454.74 1920.14,448.74 1920.26,454.74 1920.2,472.2 1920.7,461.58 1921.2,472.52 1921.7,459.14 1922.2,473.26 1922.7,460.42 1923.2,470.77 1923.33,441.3 1923.45,435.3 1923.57,441.3 1923.7,456.03 1924.2,471.21 1924.7,457.14 1925.2,472.54 1925.7,456.07 1926.2,471.36 1926.7,453.72 1927.05,412.37 1927.17,406.37 1927.29,412.37 1927.2,473.46 1927.7,450.57 1928.2,472.56 1928.7,458.53 1929.2,473.73 1929.7,454.7 1930.2,473.83 1930.15,407.82 1930.27,401.82 1930.39,407.82 1930.7,453.48 1931.2,471.67 1931.7,459.15 1932.2,472.11 1932.7,458.68 1933.2,471.52 1933.46,453.7 1933.58,447.7 1933.7,453.7 1933.7,455.29 1934.2,473.25 1934.7,453.64 1935.2,473.93 1935.7,460.83 1935.94,445.44 1936.06,439.44 1936.18,445.44 1936.2,472.77 1936.7,455.3 1937.2,473.37 1937.7,451.99 1938.2,471.38 1938.7,453.3 1938.63,448.54 1938.75,442.54 1938.87,448.54 1939.2,472.23 1939.7,461.25 1940.2,472.14 1940.7,456.83 1941.2,474.11 1941.11,443.37 1941.23,437.37 1941.35,443.37 1941.7,460.97 1942.2,472.87 1942.7,454.4 1943.2,471.78 1943.7,457.39 1943.79,446.88 1943.91,440.88 1944.03,446.88 1944.2,471.79 1944.7,459.86 1945.2,471.38 1945.7,454.5 1946.2,472.3 1946.7,451.22 1947.2,474.01 1947.7,459.51 1947.72,444.4 1947.84,438.4 1947.96,444.4 1948.2,474.15 1948.7,449.28 1949.2,472.21 1949.7,459.01 1950.2,472.59 1950.7,455.61 1950.61,448.54 1950.73,442.54 1950.85,448.54 1951.2,471.51 1951.7,454.21 1952.2,473.07 1952.7,451.83 1953.2,472.7 1953.7,455.59 1953.71,451.64 1953.83,445.64 1953.95,451.64 1954.2,473.2 1954.7,456.2 1955.2,474.04 1955.7,454.79 1956.2,474.11 1956.7,460.23 1956.81,452.67 1956.93,446.67 1957.05,452.67 1957.2,470.89 1957.7,457.75 1958.2,472.12 1958.7,452.46 1959.2,471.32 1959.7,460.8 1959.71,453.7 1959.83,447.7 1959.95,453.7 1960.2,473.31 1960.7,447.2 1961.2,472.29 1961.7,460.55 1962.2,470.93 1962.7,456.98 1963.2,472.1 1963.43,446.88 1963.55,440.88 1963.67,446.88 1963.7,457.1 1964.2,471.19 1964.7,457.42 1965.2,473.01 1965.7,453.27 1966.2,473 1966.7,458.24 1966.94,440.68 1967.06,434.68 1967.18,440.68 1967.2,473.93 1967.7,460.36 1968.2,470.99 1968.7,460.42 1969.2,473.89 1969.7,458.48 1970.04,454.74 1970.16,448.74 1970.28,454.74 1970.2,472.61 1970.7,457.95 1971.2,473.94 1971.7,456.86 1972.2,473.62 1972.7,461.17 1972.73,458.87 1972.85,452.87 1972.97,458.87 1973.2,471.86 1973.7,457.75"/>
<text x="1160" y="488.76" font-size="27.5" text-anchor="end">0</text>
<text x="1160" y="442.17" font-size="27.5" text-anchor="end">50</text>
<text x="1160" y="395.58" font-size="27.5" text-anchor="end">100</text>
<text transform="translate(1109.2 418.25) rotate(-90)" font-size="30.1" text-anchor="middle">Length (mm)</text>
</g>
<g id="TR4">
<path class="ax" stroke-width="1.6" d="M1171 527.5H1982.7V650.75H1171ZM1171 650.75h8.4M1982.7 650.75h-8.4M1171 599.14h8.4M1982.7 599.14h-8.4M1171 547.53h8.4M1982.7 547.53h-8.4M1171 650.75v-8.4M1171 527.5v8.4M1261.19 650.75v-8.4M1261.19 527.5v8.4M1351.38 650.75v-8.4M1351.38 527.5v8.4M1441.57 650.75v-8.4M1441.57 527.5v8.4M1531.76 650.75v-8.4M1531.76 527.5v8.4M1621.94 650.75v-8.4M1621.94 527.5v8.4M1712.13 650.75v-8.4M1712.13 527.5v8.4M1802.32 650.75v-8.4M1802.32 527.5v8.4M1892.51 650.75v-8.4M1892.51 527.5v8.4M1982.7 650.75v-8.4M1982.7 527.5v8.4"/>
<polyline class="d" stroke-width="3.2" points="1171.08,623.64 1171.2,617.64 1171.32,623.64 1171.3,648.86 1171.8,644.95 1172.3,649.36 1172.8,646.67 1173.3,649.32 1173.8,644.76 1174.3,649.02 1174.18,647.4 1174.3,641.4 1174.42,647.4 1174.8,646.43 1175.3,648.71 1175.8,642.92 1176.3,649.4 1176.8,644.24 1177.3,648.74 1177.8,644.41 1178.3,648.6 1178.8,644.53 1178.93,638.1 1179.05,632.1 1179.17,638.1 1179.3,649.06 1179.8,644.68 1180.3,649.12 1180.8,646.17 1181,637.07 1181.12,631.07 1181.24,637.07 1181.3,649.43 1181.8,644.44 1182.3,648.56 1182.8,644.92 1183.3,648.8 1183.8,647.04 1184.3,649.11 1184.8,646.88 1185.3,649.03 1185.55,633.56 1185.67,627.56 1185.79,633.56 1185.8,645.8 1186.3,649.15 1186.8,647.05 1187.3,649.31 1187.8,646.65 1188.3,649.18 1188.8,647.27 1189.3,648.6 1189.8,646.07 1190.3,648.62 1190.8,647.39 1190.71,639.76 1190.83,633.76 1190.95,639.76 1191.3,648.71 1191.8,645.12 1192.3,649.14 1192.8,644.25 1193.3,648.75 1193.8,646.78 1194.3,649.18 1194.8,644.83 1195.3,648.58 1195.8,645.26 1196.3,649.34 1196.8,645.2 1197.3,648.96 1197.8,646.18 1197.95,641.82 1198.07,635.82 1198.19,641.82 1198.3,649.25 1198.8,646.92 1199.3,649.44 1199.8,641.82 1200.3,648.99 1200.8,642.43 1200.84,616.4 1200.96,610.4 1201.08,616.4 1201.3,649.46 1201.8,647.54 1202.3,649.43 1202.8,646.4 1203.3,648.95 1203.8,647.26 1204.3,649.18 1204.8,642.75 1204.77,647.82 1204.89,641.82 1205.01,647.82 1205.3,648.58 1205.8,645.59 1206.3,648.88 1206.8,642.25 1207.3,648.64 1207.8,644.74 1208.3,648.87 1208.8,644.32 1209.3,648.96 1209.8,646.2 1210.3,649.26 1210.8,646.78 1210.76,646.37 1210.88,640.37 1211,646.37 1211.3,649.15 1211.8,647.22 1212.3,648.95 1212.8,647.53 1213.3,649.36 1213.8,645.72 1214.3,649.22 1214.8,646.45 1215.3,649.41 1215.51,648.69 1215.63,643.47 1215.75,648.69 1215.8,647.12 1216.3,649.33 1216.8,646.4 1217.3,649.52 1217.8,647.06 1218.3,649.11 1218.8,644.22 1219.3,649.51 1219.8,645.52 1220.3,648.75 1220.8,646.32 1221.3,649 1221.8,643.01 1222.3,648.68 1222.8,646.98 1223.3,649.18 1223.8,646.24 1223.78,648.85 1223.9,642.85 1224.02,648.85 1224.3,648.83 1224.8,645.02 1225.3,649.03 1225.8,644.05 1226.3,648.98 1226.8,645.19 1227.3,648.65 1227.8,647.11 1228.3,649.02 1228.8,644.46 1228.95,645.34 1229.07,639.34 1229.19,645.34 1229.3,648.59 1229.8,646.42 1230.3,649.5 1230.8,647.43 1231.3,649.44 1231.43,642.86 1231.55,636.86 1231.67,642.86 1231.8,644.26 1232.3,648.74 1232.8,645.94 1233.3,648.72 1233.8,644.83 1234.3,648.79 1234.32,635 1234.44,629 1234.56,635 1234.8,646.38 1235.3,649.08 1235.8,646.53 1236.3,649.1 1236.8,642.97 1237.3,649.22 1237.22,647.4 1237.34,641.4 1237.46,647.4 1237.8,646.61 1238.3,648.7 1238.8,645.97 1239.3,648.79 1239.8,645.71 1240.3,649.09 1240.8,644.12 1240.94,638.52 1241.06,632.52 1241.18,638.52 1241.3,649.17 1241.8,645.74 1242.3,648.98 1242.8,647.42 1243.3,649.37 1243.42,638.72 1243.54,632.72 1243.66,638.72 1243.8,645.31 1244.3,648.66 1244.8,645.66 1245.3,648.72 1245.8,646.74 1246.3,648.9 1246.8,645.92 1247.3,649.53 1247.8,644.27 1247.96,643.27 1248.08,637.27 1248.2,643.27 1248.3,649.4 1248.8,647.35 1249.3,648.62 1249.8,646.57 1250.3,648.94 1250.8,646.62 1251.3,649.54 1251.8,645.84 1252.3,649.21 1252.8,641.65 1253.3,649.12 1253.8,644.08 1253.75,644.3 1253.87,638.3 1253.99,644.3 1254.3,648.64 1254.8,644.01 1255.3,648.72 1255.8,644.96 1256.3,648.88 1256.23,639.76 1256.35,633.76 1256.47,639.76 1256.8,646.57 1257.3,648.82 1257.8,641.82 1258.3,648.94 1258.8,645.61 1259.3,648.67 1259.8,646.1 1260.3,649.05 1260.8,645.38 1261.3,648.62 1261.4,648.44 1261.52,642.44 1261.64,648.44 1261.8,643.93 1262.3,648.88 1262.8,644.08 1263.3,649.17 1263.8,647.25 1264.3,649.14 1264.8,644.46 1265.3,648.56 1265.8,645.85 1266.15,643.27 1266.27,637.27 1266.39,643.27 1266.3,648.8 1266.8,647.25 1267.3,649.4 1267.8,646.32 1268.3,648.58 1268.63,628.39 1268.75,622.39 1268.87,628.39 1268.8,644 1269.3,649.35 1269.8,643.85 1270.3,649.44 1270.28,631.9 1270.4,625.9 1270.52,631.9 1270.8,647.3 1271.3,649.34 1271.8,641.66 1272.3,649.5 1272.8,646.67 1273.3,648.67 1273.8,645.04 1274.3,648.85 1274.42,647.4 1274.54,641.4 1274.66,647.4 1274.8,644.31 1275.3,649.5 1275.8,645.19 1276.3,649.03 1276.48,646.99 1276.6,640.99 1276.72,646.99 1276.8,646.89 1277.3,649.12 1277.8,645.95 1278.3,649.27 1278.8,645.35 1279.3,648.64 1279.8,646.49 1280.3,649.45 1280.8,645.07 1281.3,648.69 1281.8,643.88 1282.3,648.74 1282.27,637.07 1282.39,631.07 1282.51,637.07 1282.8,646.39 1283.3,649.11 1283.8,647.15 1283.72,636.04 1283.84,630.04 1283.96,636.04 1284.3,649.13 1284.8,644.85 1285.3,649.22 1285.8,641.09 1286.3,649.46 1286.61,627.56 1286.73,621.56 1286.85,627.56 1286.8,644.52 1287.3,649.1 1287.8,645.95 1288.3,649.55 1288.8,645.57 1288.88,647.4 1289,641.4 1289.12,647.4 1289.3,648.64 1289.8,647.48 1290.3,648.8 1290.8,644.71 1291.3,648.81 1291.8,645.41 1292.3,648.61 1292.8,644.52 1293.3,648.78 1293.8,645.68 1294.3,648.73 1294.8,645.2 1295.3,649.53 1295.29,637.48 1295.41,631.48 1295.53,637.48 1295.8,646.26 1296.3,649.26 1296.8,645.44 1297.3,648.72 1297.8,645.29 1298.3,648.77 1298.8,645.88 1299.3,648.8 1299.63,643.27 1299.75,637.27 1299.87,643.27 1299.8,644.72 1300.3,648.99 1300.8,645.44 1301.3,649.31 1301.8,645.9 1302.3,648.65 1302.8,647.39 1303.3,648.81 1303.8,645.81 1303.97,624.67 1304.09,618.67 1304.21,624.67 1304.3,648.78 1304.8,645.91 1305.3,649.49 1305.8,646.02 1306.3,648.81 1306.8,645.41 1307.3,649.51 1307.8,644.89 1308.1,646.37 1308.22,640.37 1308.34,646.37 1308.3,648.94 1308.8,646.02 1309.3,649.42 1309.8,643.91 1310.3,648.58 1310.58,631.28 1310.7,625.28 1310.82,631.28 1310.8,645.85 1311.3,649.04 1311.8,641.36 1312.3,648.91 1312.8,646.64 1313.3,649.13 1313.8,644 1314.3,649.08 1314.8,647.41 1314.72,649.35 1314.84,644.5 1314.96,649.35 1315.3,648.82 1315.8,645.65 1316.3,649.4 1316.8,644.53 1317.3,649.53 1317.4,639.14 1317.52,633.14 1317.64,639.14 1317.8,646.43 1318.3,648.59 1318.8,645.02 1319.3,648.95 1319.8,646.61 1320.3,649.43 1320.8,642.17 1321.3,649.37 1321.8,643.67 1322.3,648.93 1322.8,644.82 1323.3,648.87 1323.8,643.77 1324.3,648.92 1324.64,645.34 1324.76,639.34 1324.88,645.34 1324.8,646.88 1325.3,649.31 1325.8,645.56 1326.3,648.84 1326.8,641.58 1327.3,649.04 1327.8,646.91 1328.3,649.3 1328.8,646.38 1329.3,648.8 1329.8,647.14 1330.3,649.31 1330.22,648.88 1330.34,643.47 1330.46,648.88 1330.8,644.45 1331.3,648.83 1331.8,645.79 1332.3,649.27 1332.8,645.51 1333.3,648.95 1333.8,647.55 1334.3,648.97 1334.8,645.94 1335.3,649.11 1335.8,644.92 1336.3,649.41 1336.42,647.4 1336.54,641.4 1336.66,647.4 1336.8,641.08 1337.3,649.44 1337.8,646.16 1338.3,648.89 1338.8,644.13 1339.3,648.98 1339.8,644.21 1339.93,641.2 1340.05,635.2 1340.17,641.2 1340.3,649.08 1340.8,644.83 1341.3,649.21 1341.8,644.75 1342.3,648.66 1342.8,644.65 1343.03,645.75 1343.15,639.75 1343.27,645.75 1343.3,648.95 1343.8,643.94 1344.3,648.98 1344.8,647.27 1345.3,648.86 1345.8,646.47 1346.3,649.13 1346.8,646.8 1346.75,641.82 1346.87,635.82 1346.99,641.82 1347.3,649.17 1347.8,647.37 1348.3,648.58 1348.8,645.76 1349.3,649.12 1349.8,647.28 1350.3,649.34 1350.8,647.09 1351.3,648.87 1351.8,647.51 1352.3,649.53 1352.54,646.37 1352.66,640.37 1352.78,646.37 1352.8,646.3 1353.3,648.81 1353.8,644.73 1354.3,648.64 1354.8,647.04 1355.3,649.5 1355.8,646.97 1356.3,648.78 1356.8,644.99 1357.3,648.68 1357.8,645.59 1357.91,611.65 1358.03,605.65 1358.15,611.65 1358.3,648.56 1358.8,647.34 1359.15,602.35 1359.27,596.35 1359.39,602.35 1359.3,648.66 1359.8,644.39 1360.3,648.92 1360.8,647.51 1361.3,649.36 1361.22,647.4 1361.34,641.4 1361.46,647.4 1361.8,641.56 1362.3,649.31 1362.8,647.15 1363.3,649.11 1363.8,646.43 1364.3,649.49 1364.32,628.39 1364.44,622.39 1364.56,628.39 1364.8,645.08 1365.3,649.43 1365.8,644.15 1366.3,649.34 1366.8,646.28 1367.01,647.4 1367.13,641.4 1367.25,647.4 1367.3,648.89 1367.8,646.03 1368.3,649.04 1368.8,647.08 1369.3,648.59 1369.8,645.78 1370.3,649.15 1370.8,646.16 1371.3,649.37 1371.8,646.42 1372.3,649.07 1372.8,647.29 1373.3,648.71 1373.62,649.2 1373.74,644.5 1373.86,649.2 1373.8,644.4 1374.3,648.92 1374.8,646.2 1375.3,649.14 1375.8,645.59 1376.3,649.44 1376.8,646.74 1377.3,648.62 1377.8,644.46 1377.75,643.89 1377.87,637.89 1377.99,643.89 1378.3,648.83 1378.8,647.08 1379.3,649.15 1379.8,645.69 1380.3,649.34 1380.8,645.4 1381.3,649.1 1381.8,645.88 1382.3,649.36 1382.3,649.06 1382.42,643.06 1382.54,649.06 1382.8,644.37 1383.3,649.18 1383.8,646.46 1384.3,648.69 1384.8,646.55 1385.3,649.23 1385.8,647.22 1386.3,649.32 1386.8,645.08 1387.3,649.29 1387.8,646.44 1388.3,649.52 1388.8,647.21 1388.71,649.06 1388.83,643.06 1388.95,649.06 1389.3,649.2 1389.8,642.97 1390.3,649.37 1390.8,641.3 1391.3,649.53 1391.8,645.98 1392.3,649.35 1392.8,644.66 1393.3,648.58 1393.8,646.29 1394.3,649.12 1394.8,647.25 1395.3,648.94 1395.8,646.03 1396.3,649.1 1396.8,646.43 1396.77,638.72 1396.89,632.72 1397.01,638.72 1397.3,649.29 1397.8,644.11 1398.3,648.95 1398.21,627.15 1398.33,621.15 1398.45,627.15 1398.8,644.29 1399.3,649.11 1399.8,646.16 1400.3,648.71 1400.8,645.26 1401.11,637.07 1401.23,631.07 1401.35,637.07 1401.3,649.13 1401.8,646.35 1402.3,649.4 1402.8,644.04 1403.3,649.47 1403.8,646.76 1404.3,648.74 1404.8,644.3 1405.03,645.34 1405.15,639.34 1405.27,645.34 1405.3,649.12 1405.8,643.95 1406.3,648.9 1406.8,647.36 1407.3,649.04 1407.8,644.09 1408.3,648.8 1408.8,646.29 1409.3,648.63 1409.8,647.26 1409.79,637.69 1409.91,631.69 1410.03,637.69 1410.3,649.24 1410.8,646.64 1411.3,649.34 1411.8,642.36 1412.3,648.59 1412.8,647.54 1412.89,619.3 1413.01,613.3 1413.13,619.3 1413.3,648.64 1413.8,645.63 1414.3,649.25 1414.8,644.76 1414.95,635.42 1415.07,629.42 1415.19,635.42 1415.3,648.86 1415.8,647.17 1416.3,648.67 1416.8,644.08 1417.3,648.77 1417.8,644.19 1418.3,649.41 1418.8,647.15 1419.3,649.21 1419.8,640.91 1420.3,649.27 1420.8,645.14 1421.15,649.19 1421.27,643.88 1421.39,649.19 1421.3,649.34 1421.8,645.41 1422.3,649.47 1422.8,641.06 1423.3,649.35 1423.8,644.06 1424.3,648.59 1424.8,645.77 1425.3,649.47 1425.8,645.19 1426.3,648.87 1426.8,644.09 1427.3,648.9 1427.8,644.88 1428.3,649.3 1428.39,648.62 1428.51,643.06 1428.63,648.62 1428.8,647.45 1429.3,649.22 1429.8,645.58 1430.3,649.17 1430.8,646.22 1431.3,649.14 1431.8,646.72 1432.3,649.08 1432.8,643.78 1433.3,649.4 1433.56,646.37 1433.68,640.37 1433.8,646.37 1433.8,646.99 1434.3,648.55 1434.8,646.26 1435.3,648.99 1435.8,645.32 1436.04,631.9 1436.16,625.9 1436.28,631.9 1436.3,649.04 1436.8,646.17 1437.3,648.97 1437.8,644.72 1438.3,649.16 1438.8,646.6 1438.93,631.28 1439.05,625.28 1439.17,631.28 1439.3,648.96 1439.8,644.85 1440.3,649.39 1440.8,647.33 1441.3,648.63 1441.8,644.93 1442.3,648.69 1442.24,630.46 1442.36,624.46 1442.48,630.46 1442.8,645.92 1443.3,648.72 1443.8,644.93 1444.3,648.77 1444.8,643.09 1445.3,649.08 1445.8,644.84 1445.96,644.3 1446.08,638.3 1446.2,644.3 1446.3,648.89 1446.8,646.43 1447.3,649.49 1447.8,645.98 1448.3,648.69 1448.8,645.61 1449.3,648.89 1449.8,645.09 1450.3,649.23 1450.8,647.06 1451.3,648.77 1451.8,645.08 1452.16,643.27 1452.28,637.27 1452.4,643.27 1452.3,649.37 1452.8,645.53 1453.3,648.9 1453.8,644.23 1454.3,649.18 1454.8,644.87 1455.3,648.98 1455.26,647.4 1455.38,641.4 1455.5,647.4 1455.8,644.16 1456.3,649.51 1456.8,643.85 1457.3,649 1457.8,645.65 1458.3,649.32 1458.8,647.38 1458.77,648.85 1458.89,642.85 1459.01,648.85 1459.3,649.09 1459.8,645.93 1460.3,649.52 1460.8,645.44 1461.3,649.05 1461.8,643.77 1462.3,649.24 1462.8,646.28 1463.3,648.94 1463.8,646.87 1464.3,648.63 1464.8,645.43 1465.3,649.34 1465.59,646.37 1465.71,640.37 1465.83,646.37 1465.8,645.35 1466.3,649.37 1466.8,645.64 1467.3,649.05 1467.8,646.36 1468.3,649.44 1468.8,641.25 1469.3,649.3 1469.8,644.99 1470.3,648.67 1470.8,647.44 1471.3,649.02 1471.8,644.1 1472.3,649.54 1472.8,647.36 1472.82,649.47 1472.94,643.47 1473.06,649.47 1473.3,648.68 1473.8,647 1474.3,648.6 1474.8,644.88 1475.3,648.9 1475.8,646.07 1476.3,649.33 1476.54,603.59 1476.66,597.59 1476.78,603.59 1476.8,645.97 1477.3,649.25 1477.8,643.9 1478.3,648.85 1478.8,645.66 1479.3,648.6 1479.8,647.37 1480.3,649.44 1480.8,647.2 1481.09,639.14 1481.21,633.14 1481.33,639.14 1481.3,649.07 1481.8,643.92 1482.3,648.9 1482.8,645.64 1483.3,648.55 1483.36,633.97 1483.48,627.97 1483.6,633.97 1483.8,646.24 1484.3,649.1 1484.8,644.99 1485.3,648.91 1485.8,642.35 1486.3,648.97 1486.8,646.51 1487.3,649.53 1487.8,646.59 1488.3,649.07 1488.32,648.84 1488.44,643.47 1488.56,648.84 1488.8,646.67 1489.3,648.82 1489.8,646.47 1490.3,648.93 1490.8,646.22 1491.3,648.58 1491.8,643.86 1492.3,648.58 1492.8,644.54 1492.87,634.38 1492.99,628.38 1493.11,634.38 1493.3,649.42 1493.8,646.76 1494.3,649.43 1494.8,645.26 1494.94,626.32 1495.06,620.32 1495.18,626.32 1495.3,648.81 1495.8,647.23 1496.3,649.28 1496.8,643.99 1497.3,649.17 1497.8,644.84 1497.83,595.32 1497.95,589.32 1498.07,595.32 1498.3,649.44 1498.8,642.08 1499.3,649.07 1499.8,645.52 1500.3,648.67 1500.8,646.73 1501.3,649.3 1501.55,609.17 1501.67,603.17 1501.79,609.17 1501.8,644.47 1502.3,649.55 1502.8,643.79 1503.3,649.27 1503.8,642.22 1503.82,648.44 1503.94,642.44 1504.06,648.44 1504.3,648.87 1504.8,646.96 1505.3,649.22 1505.8,645.72 1506.3,649.03 1506.8,643.85 1507.3,649.32 1507.54,590.16 1507.66,584.16 1507.78,590.16 1507.8,644.44 1508.3,649.41 1508.8,644.47 1509.3,648.98 1509.8,644.16 1510.02,648.44 1510.14,642.44 1510.26,648.44 1510.3,649.41 1510.8,646.54 1511.3,648.58 1511.8,645.07 1512.3,648.73 1512.8,645.74 1513.3,648.75 1513.8,645.19 1514.3,648.55 1514.8,645.78 1515.3,649.42 1515.8,645.33 1516.3,649.23 1516.8,645.63 1517.3,648.87 1517.26,648.85 1517.38,642.85 1517.5,648.85 1517.8,645.08 1518.3,648.64 1518.8,644.95 1519.3,649.31 1519.8,641.31 1520.3,649.54 1520.8,645.24 1521.3,649.39 1521.8,644.73 1522.3,648.87 1522.8,647.24 1523.3,649.15 1523.46,648.98 1523.58,643.88 1523.7,648.98 1523.8,645.05 1524.3,648.68 1524.8,647.44 1525.3,649.16 1525.8,645.22 1526.3,648.66 1526.8,646.22 1527.3,648.86 1527.8,646.94 1528.01,636.04 1528.12,630.04 1528.24,636.04 1528.3,648.95 1528.8,645.54 1529.3,649.35 1529.8,646.3 1530.3,648.78 1530.8,644.15 1531.11,638.1 1531.23,632.1 1531.35,638.1 1531.3,648.96 1531.8,647.43 1532.3,649.3 1532.8,645.28 1533.3,649.01 1533.8,646.94 1534.3,648.8 1534.8,644.23 1535.3,649.1 1535.8,641.94 1536.3,649.45 1536.8,644.49 1536.89,646.99 1537.01,640.99 1537.13,646.99 1537.3,649.51 1537.8,643.98 1538.3,648.97 1538.8,645.34 1539.3,649.45 1539.37,641.82 1539.49,635.82 1539.61,641.82 1539.8,646.28 1540.3,648.75 1540.8,643.98 1541.3,649.22 1541.44,644.3 1541.56,638.3 1541.68,644.3 1541.8,645.84 1542.3,649.18 1542.8,647.34 1543.3,648.65 1543.8,645.35 1544.3,648.73 1544.8,644.96 1545.3,649.13 1545.8,647.47 1546.3,649.33 1546.8,643.99 1547.3,649.2 1547.8,647.46 1548.3,648.85 1548.67,593.67 1548.79,587.67 1548.91,593.67 1548.8,645.63 1549.3,648.85 1549.8,646.74 1550.3,648.87 1550.8,645.31 1551.3,648.63 1551.36,643.27 1551.48,637.27 1551.6,643.27 1551.8,647.32 1552.3,648.89 1552.8,646.54 1553.3,648.62 1553.8,644.76 1554.3,648.72 1554.8,642.54 1555.08,646.37 1555.2,640.37 1555.32,646.37 1555.3,648.91 1555.8,645.05 1556.3,649.18 1556.8,644.76 1557.3,649.34 1557.8,645.36 1558.3,648.76 1558.59,648.85 1558.71,643.06 1558.83,648.85 1558.8,643.81 1559.3,649.04 1559.8,645 1560.3,649 1560.8,643.78 1561.3,649.12 1561.8,645.91 1562.3,649.36 1562.8,644.95 1563.14,639.14 1563.26,633.14 1563.38,639.14 1563.3,649.47 1563.8,645.1 1564.3,649 1564.8,646.53 1565.3,648.66 1565.8,645.81 1566.3,648.59 1566.8,645.71 1567.3,648.95 1567.8,644.4 1567.89,645.34 1568.01,639.34 1568.13,645.34 1568.3,649.32 1568.8,646.5 1569.3,648.96 1569.8,645.96 1570.3,649.53 1570.8,643.8 1570.99,632.32 1571.11,626.32 1571.23,632.32 1571.3,648.89 1571.8,647.2 1572.3,648.61 1572.8,645.02 1573.3,649.42 1573.8,644.79 1574.3,649.22 1574.8,646.48 1575.3,649.31 1575.8,647.34 1576.3,649.02 1576.8,641.02 1577.3,649.04 1577.19,617.02 1577.31,611.02 1577.43,617.02 1577.36,617.44 1577.48,611.44 1577.6,617.44 1577.8,647.46 1578.3,649.34 1578.8,644.89 1579.3,648.99 1579.8,644.54 1580.3,648.88 1580.8,647.39 1581.3,649.18 1581.8,644.98 1581.7,646.37 1581.82,640.37 1581.94,646.37 1582.3,648.65 1582.8,644.01 1583.3,648.84 1583.8,643.89 1584.3,649.53 1584.8,644.49 1585.3,649.21 1585.8,643.95 1586.3,649.42 1586.25,641.62 1586.37,635.62 1586.49,641.62 1586.8,641.65 1587.3,649.38 1587.8,642.87 1588.3,649.15 1588.8,645.17 1589.3,648.87 1589.8,646.81 1589.76,632.94 1589.88,626.94 1590,632.94 1590.3,649.11 1590.8,647.36 1591.3,649.08 1591.8,645.88 1592.3,649.31 1592.45,633.97 1592.57,627.97 1592.69,633.97 1592.8,641.44 1593.3,649.21 1593.8,644.77 1594.3,649.21 1594.51,635.42 1594.63,629.42 1594.75,635.42 1594.8,645.99 1595.3,648.98 1595.8,644.79 1596.3,649.11 1596.8,645.47 1597.3,648.79 1597.8,645.03 1598.3,648.71 1598.8,643.88 1599.3,649 1599.8,646.91 1599.68,622.6 1599.8,616.6 1599.92,622.6 1600.3,649.19 1600.8,644 1601.3,648.73 1601.33,615.37 1601.45,609.37 1601.57,615.37 1601.8,645.34 1602.3,649.16 1602.8,645.33 1602.99,604.62 1603.11,598.62 1603.23,604.62 1603.3,648.98 1603.8,645.84 1604.3,649.28 1604.8,645.53 1605.3,648.65 1605.26,620.54 1605.38,614.54 1605.5,620.54 1605.8,643.96 1606.3,649.44 1606.8,645.32 1607.3,649.4 1607.8,644.22 1608.3,648.58 1608.8,645.69 1608.98,647.4 1609.1,641.4 1609.22,647.4 1609.3,648.71 1609.8,646.52 1610.3,649.07 1610.8,646.08 1611.3,648.85 1611.8,643.86 1612.3,648.72 1612.8,646.74 1613.3,649.45 1613.8,644.63 1614.15,640.79 1614.27,634.79 1614.39,640.79 1614.3,648.97 1614.8,643.89 1615.3,649.25 1615.8,643.89 1616.3,649.25 1616.8,645.96 1617.3,649.11 1617.8,644.36 1618.3,648.61 1618.8,646.38 1619.3,649.26 1619.31,630.25 1619.43,624.25 1619.55,630.25 1619.8,647.13 1620.3,648.74 1620.8,644.72 1621.3,649.13 1621.8,647.32 1622.3,648.67 1622.8,647.4 1623.3,649.3 1623.8,643.81 1624.3,648.6 1624.8,646.43 1625.3,649 1625.31,624.05 1625.43,618.05 1625.55,624.05 1625.8,646.21 1626.3,648.75 1626.8,642.4 1627.3,649.33 1627.8,643.77 1628.3,648.67 1628.8,645.96 1628.82,622.6 1628.94,616.6 1629.06,622.6 1629.3,648.83 1629.8,647.17 1630.3,649.02 1630.8,643.92 1631.3,649.48 1631.8,646.19 1632.3,648.77 1632.8,647.15 1633.3,649.26 1633.37,645.75 1633.49,639.75 1633.61,645.75 1633.8,646.17 1634.3,648.7 1634.8,644.36 1635.3,649.18 1635.8,646.75 1636.3,649.14 1636.8,647.09 1637.3,649.1 1637.8,646.57 1638.3,649.39 1638.54,618.88 1638.66,612.88 1638.78,618.88 1638.8,645.98 1639.3,649.23 1639.8,646.73 1640.3,648.84 1640.8,646.94 1641.3,649.47 1641.43,591.6 1641.55,585.6 1641.67,591.6 1641.8,646.29 1642.3,649.19 1642.8,644.34 1643.3,649.17 1643.5,605.04 1643.62,599.04 1643.74,605.04 1643.8,644.25 1644.3,648.87 1644.8,645.69 1645.3,648.62 1645.56,615.37 1645.68,609.37 1645.8,615.37 1645.8,645.98 1646.3,649.01 1646.8,644.1 1647.3,648.72 1647.8,644.71 1648.3,648.64 1648.8,644.89 1649.3,649.03 1649.8,644.21 1649.7,617.44 1649.82,611.44 1649.94,617.44 1650.3,648.75 1650.8,646.8 1651.3,649.39 1651.8,645.62 1652.3,649.11 1652.8,646.47 1653.3,648.81 1653.8,646.03 1654.3,649.4 1654.8,646.94 1655.3,649.14 1655.48,632.32 1655.6,626.32 1655.72,632.32 1655.8,644.09 1656.3,649.29 1656.8,644.34 1657.3,648.75 1657.8,646.97 1657.76,608.76 1657.88,602.76 1658,608.76 1658.3,648.58 1658.8,644.84 1659.3,649.21 1659.8,645.02 1660.03,630.87 1660.15,624.87 1660.27,630.87 1660.3,648.94 1660.8,646.35 1661.3,648.67 1661.8,645.89 1662.3,649.04 1662.51,625.29 1662.63,619.29 1662.75,625.29 1662.8,646.5 1663.3,649.25 1663.8,645.74 1664.3,649.52 1664.8,644.14 1665.3,649.27 1665.8,644.08 1666.3,648.95 1666.8,645.66 1666.85,647.4 1666.97,641.4 1667.09,647.4 1667.3,649.09 1667.8,641.95 1668.3,649.02 1668.8,644.34 1669.3,648.81 1669.8,645 1669.95,623.64 1670.07,617.64 1670.19,623.64 1670.3,649.37 1670.8,643.86 1671.3,649.11 1671.8,644.98 1672.3,649.25 1672.8,645.15 1673.05,637.07 1673.17,631.07 1673.29,637.07 1673.3,648.66 1673.8,646.06 1674.3,648.62 1674.8,644.67 1675.3,648.64 1675.8,645.4 1676.15,610.82 1676.27,604.82 1676.39,610.82 1676.3,648.97 1676.8,644.39 1677.3,649.38 1677.8,643.99 1678.3,649.03 1678.22,615.37 1678.34,609.37 1678.46,615.37 1678.8,647.28 1679.3,649.14 1679.8,647.15 1680.3,648.99 1680.8,645.27 1680.9,618.88 1681.02,612.88 1681.14,618.88 1681.3,648.81 1681.8,645.22 1682.3,649.21 1682.8,644.11 1683.3,649.34 1683.8,644.99 1684.3,648.84 1684.8,646.53 1684.83,633.97 1684.95,627.97 1685.07,633.97 1685.3,649.51 1685.8,645.73 1686.3,649.05 1686.8,644.11 1687.3,648.86 1687.52,642.24 1687.64,636.24 1687.76,642.24 1687.8,644.79 1688.3,648.58 1688.8,641.97 1689.3,649.26 1689.8,646.27 1690.3,648.74 1690.2,618.88 1690.32,612.88 1690.44,618.88 1690.8,646.33 1691.3,649.42 1691.8,644.89 1692.3,649.19 1692.8,645.18 1692.68,630.87 1692.8,624.87 1692.92,630.87 1693.3,648.7 1693.8,642.77 1694.3,649.39 1694.8,641.45 1694.75,637.07 1694.87,631.07 1694.99,637.07 1695.3,648.62 1695.8,646.69 1696.3,649.43 1696.8,645.9 1697.3,649.11 1697.23,608.76 1697.35,602.76 1697.47,608.76 1697.8,645.23 1698.3,648.71 1698.8,644.43 1699.3,648.73 1699.8,646.74 1699.92,645.34 1700.04,639.34 1700.16,645.34 1700.3,648.61 1700.8,645.37 1701.3,648.96 1701.8,646.59 1702.3,648.89 1702.8,647.13 1703.02,632.94 1703.14,626.94 1703.26,632.94 1703.3,648.9 1703.8,647.28 1704.3,648.57 1704.8,647.07 1705.3,648.81 1705.5,635 1705.62,629 1705.74,635 1705.8,646.52 1706.3,649.42 1706.8,646.83 1707.3,649.05 1707.8,644.36 1708.3,649.34 1708.8,644.72 1708.8,608.76 1708.92,602.76 1709.04,608.76 1709.3,649.19 1709.8,646.07 1710.3,648.99 1710.8,645.81 1710.87,626.74 1710.99,620.74 1711.11,626.74 1711.3,649.08 1711.8,644.17 1712.3,648.64 1712.8,647.38 1712.94,626.74 1713.06,620.74 1713.18,626.74 1713.3,648.86 1713.8,646.42 1714.3,649.09 1714.8,646.69 1715.3,648.88 1715.42,632.94 1715.54,626.94 1715.66,632.94 1715.8,644.23 1716.3,649.08 1716.8,644.91 1717.3,649.18 1717.48,618.06 1717.6,612.06 1717.72,618.06 1717.8,643.59 1718.3,649.52 1718.8,641.29 1719.3,649.11 1719.8,645.6 1719.96,632.94 1720.08,626.94 1720.2,632.94 1720.3,648.82 1720.8,645.06 1721.3,649.28 1721.8,645.44 1722.3,649.04 1722.24,619.92 1722.36,613.92 1722.48,619.92 1722.8,645.45 1723.3,649.07 1723.8,645.92 1724.3,649.31 1724.8,644.63 1724.72,636.04 1724.84,630.04 1724.96,636.04 1725.3,649.37 1725.8,644.24 1726.3,649.1 1726.8,646.84 1727.3,648.99 1727.4,618.47 1727.52,612.47 1727.64,618.47 1727.8,647.34 1728.3,648.66 1728.8,647.26 1729.3,649.51 1729.8,646.77 1729.88,641.2 1730,635.2 1730.12,641.2 1730.3,649.25 1730.8,645.71 1731.3,649.04 1731.8,644.85 1732.3,649.34 1732.37,635.42 1732.49,629.42 1732.61,635.42 1732.8,644.86 1733.3,648.55 1733.8,646.21 1734.3,648.96 1734.8,645.98 1735.3,649.11 1735.8,646.05 1736.09,648.76 1736.21,644.5 1736.33,648.76 1736.3,648.92 1736.8,644.15 1737.3,649.24 1737.8,646.62 1738.3,648.64 1738.8,647.04 1739.3,649.06 1739.8,647.18 1740.3,648.7 1740.22,641.2 1740.34,635.2 1740.46,641.2 1740.8,644.55 1741.3,649.44 1741.8,645.12 1742.3,649.18 1742.8,644.45 1742.91,636.04 1743.03,630.04 1743.15,636.04 1743.3,648.68 1743.8,646.33 1744.3,648.73 1744.8,645.39 1745.3,649.09 1745.8,644.6 1746.3,649.23 1746.8,645.07 1747.04,633.97 1747.16,627.97 1747.28,633.97 1747.3,649.38 1747.8,645.73 1748.3,648.77 1748.8,644.62 1749.3,649.13 1749.8,643.08 1750.3,649.08 1750.55,647.4 1750.67,641.4 1750.79,647.4 1750.8,645.62 1751.3,648.99 1751.8,641.36 1752.3,649.51 1752.8,647.5 1753.3,649.55 1753.8,644.72 1754.3,649 1754.8,644.12 1755.3,648.78 1755.8,646.75 1756.13,644.3 1756.25,638.3 1756.37,644.3 1756.3,649.33 1756.8,645.85 1757.3,649.17 1757.8,647.47 1758.3,649.18 1758.8,646.63 1759.3,648.86 1759.44,648.44 1759.56,642.44 1759.68,648.44 1759.8,644.24 1760.3,649.49 1760.8,641.01 1761.3,648.83 1761.8,645.46 1762.3,648.58 1762.8,643.13 1763.3,649.31 1763.57,643.68 1763.69,637.68 1763.81,643.68 1763.8,646.51 1764.3,649.5 1764.8,644.67 1765.3,649.38 1765.8,643.43 1766.3,648.95 1766.8,643.33 1767.3,648.94 1767.29,598.22 1767.41,592.22 1767.53,598.22 1767.8,644.54 1768.3,649.28 1768.8,641.07 1769.3,649.37 1769.8,644.76 1770.3,648.71 1770.19,646.37 1770.31,640.37 1770.43,646.37 1770.8,647.17 1771.3,649.36 1771.8,643.24 1772.3,648.86 1772.8,645.19 1773.3,648.79 1773.8,644.26 1774.3,649.14 1774.8,644.28 1774.73,639.55 1774.85,633.55 1774.97,639.55 1775.3,649.28 1775.8,644.12 1776.3,649.26 1776.8,646.88 1777.3,649.3 1777.8,646.83 1778.3,648.84 1778.8,646.46 1778.87,642.24 1778.99,636.24 1779.11,642.24 1779.3,649.1 1779.8,644.02 1780.3,649.48 1780.8,647.43 1781.3,648.94 1781.55,643.27 1781.67,637.27 1781.79,643.27 1781.8,644.26 1782.3,649.4 1782.8,646.47 1783.3,648.86 1783.8,644.02 1784.3,649.51 1784.8,646.84 1785.3,648.7 1785.27,642.86 1785.39,636.86 1785.51,642.86 1785.8,645.97 1786.3,648.65 1786.8,647.15 1787.3,649.34 1787.8,646.65 1788.3,649.45 1788.37,644.3 1788.49,638.3 1788.61,644.3 1788.8,644.22 1789.3,648.85 1789.8,646.05 1790.3,648.87 1790.8,643.75 1791.3,648.94 1791.47,641.82 1791.59,635.82 1791.71,641.82 1791.8,645.94 1792.3,648.7 1792.8,644.26 1793.3,648.96 1793.8,647.35 1794.3,648.79 1794.8,645.75 1795.3,648.73 1795.8,646.57 1796.3,648.68 1796.8,643.87 1797.05,630.87 1797.17,624.87 1797.29,630.87 1797.3,648.93 1797.8,644.91 1798.3,648.67 1798.8,645.72 1799.3,649.46 1799.8,644.38 1799.74,636.66 1799.86,630.66 1799.98,636.66 1800.3,649.19 1800.8,646.56 1801.3,648.88 1801.8,642.44 1802.3,649.2 1802.22,647.4 1802.34,641.4 1802.46,647.4 1802.8,645.64 1803.3,649.41 1803.8,644.06 1804.3,648.89 1804.8,645.61 1805.3,648.59 1805.8,645.71 1805.73,638.72 1805.85,632.72 1805.97,638.72 1806.3,649.43 1806.8,645.69 1807.3,649.15 1807.8,647.1 1808.3,649.25 1808.8,646.59 1809.3,649.24 1809.45,618.88 1809.57,612.88 1809.69,618.88 1809.8,647.05 1810.3,648.59 1810.8,647.37 1811.3,649.39 1811.31,616.82 1811.43,610.82 1811.55,616.82 1811.8,644.61 1812.3,648.85 1812.8,645.57 1813.3,649.11 1813.8,646.5 1814.3,648.65 1814.21,637.69 1814.33,631.69 1814.45,637.69 1814.8,644.7 1815.3,648.89 1815.8,646.47 1816.3,648.7 1816.8,645.1 1817.3,648.79 1817.8,646.98 1818.3,648.86 1818.8,644.18 1819.3,649.52 1819.37,643.68 1819.49,637.68 1819.61,643.68 1819.8,645.16 1820.3,649.51 1820.8,643.94 1821.3,648.89 1821.8,646.7 1822.3,648.75 1822.8,646.64 1823.3,649.1 1823.8,646.31 1824.3,648.57 1824.8,645.26 1825.16,630.87 1825.28,624.87 1825.4,630.87 1825.3,648.77 1825.8,644.03 1826.3,649.49 1826.8,644.73 1827.3,649.23 1827.8,644.61 1828.05,644.3 1828.17,638.3 1828.29,644.3 1828.3,648.94 1828.8,645.44 1829.3,648.63 1829.8,644.68 1830.3,649.49 1830.8,645.27 1831.3,648.96 1831.36,636.66 1831.48,630.66 1831.6,636.66 1831.8,645.63 1832.3,648.62 1832.8,644.7 1833.3,648.84 1833.8,643.79 1834.3,648.76 1834.26,647.4 1834.38,641.4 1834.49,647.4 1834.8,647.23 1835.3,649.4 1835.8,644.07 1836.3,648.89 1836.8,641.39 1837.3,648.62 1837.36,545.72 1837.48,539.72 1837.6,545.72 1837.8,641.57 1838.3,649.53 1838.8,645.07 1839.3,648.88 1839.8,644.81 1840.3,648.87 1840.46,648.44 1840.58,642.44 1840.7,648.44 1840.8,647.22 1841.3,648.88 1841.8,643.84 1842.3,648.67 1842.8,645.41 1843.3,649.18 1843.8,646.36 1844.3,648.94 1844.8,645.08 1845.3,648.73 1845.62,643.27 1845.74,637.27 1845.86,643.27 1845.8,647.32 1846.3,648.93 1846.8,647.3 1847.3,648.63 1847.8,645.46 1848.3,648.8 1848.8,644.5 1849.14,639.55 1849.26,633.55 1849.38,639.55 1849.3,648.76 1849.8,643.9 1850.3,649.13 1850.8,647 1851.3,649 1851.8,643.94 1852.3,648.94 1852.8,644.31 1853.3,649.12 1853.27,638.1 1853.39,632.1 1853.51,638.1 1853.8,642.76 1854.3,649.5 1854.8,643.99 1855.3,648.68 1855.8,647.02 1856.3,648.86 1856.8,647.07 1856.99,642.24 1857.11,636.24 1857.23,642.24 1857.3,649.53 1857.8,646.31 1858.3,649.1 1858.8,647.27 1859.3,649.21 1859.68,623.02 1859.8,617.02 1859.92,623.02 1859.8,644.26 1860.3,649.44 1860.8,646.15 1861.3,649.05 1861.8,645.92 1862.3,648.77 1862.8,644.57 1862.78,642.86 1862.9,636.86 1863.02,642.86 1863.3,649.05 1863.8,645.89 1864.3,648.79 1864.8,646.33 1865.3,649.42 1865.8,646.73 1866.3,648.67 1866.8,646.6 1867.3,649.04 1867.53,635 1867.65,629 1867.77,635 1867.8,647.42 1868.3,648.87 1868.8,647.07 1869.3,649.32 1869.8,641.43 1870.3,649.11 1870.8,644.31 1870.84,645.34 1870.96,639.34 1871.08,645.34 1871.3,649.45 1871.8,644.24 1872.3,649.09 1872.8,642.82 1873.3,648.74 1873.8,647.47 1873.73,632.32 1873.85,626.32 1873.97,632.32 1874.3,649.54 1874.8,647.27 1875.3,648.89 1875.8,644.07 1876.3,649.51 1876.62,642.24 1876.74,636.24 1876.86,642.24 1876.8,645.57 1877.3,649.21 1877.8,644.36 1878.3,648.59 1878.8,646.85 1879.3,649.4 1879.8,646.68 1879.72,643.68 1879.84,637.68 1879.96,643.68 1880.3,649.22 1880.8,644.49 1881.3,649.4 1881.8,646.15 1882.3,648.8 1882.8,647.44 1882.82,644.72 1882.94,638.72 1883.06,644.72 1883.3,648.6 1883.8,645.26 1884.3,649.23 1884.8,646.93 1885.3,649.15 1885.8,645.82 1886.3,648.65 1886.8,647.06 1886.96,630.87 1887.08,624.87 1887.2,630.87 1887.3,649.44 1887.8,647.1 1888.3,648.59 1888.8,645.18 1889.3,649.51 1889.8,645.69 1890.06,645.34 1890.18,639.34 1890.3,645.34 1890.3,649.13 1890.8,647.04 1891.3,649.55 1891.8,644.48 1892.12,636.66 1892.24,630.66 1892.36,636.66 1892.3,649.35 1892.8,645.61 1893.3,649.22 1893.8,640.78 1894.3,648.93 1894.8,646.96 1895.3,649.27 1895.22,628.18 1895.34,622.18 1895.46,628.18 1895.8,646.09 1896.3,649.13 1896.8,647.24 1897.3,649.51 1897.8,646 1897.7,636.66 1897.82,630.66 1897.94,636.66 1898.3,649.29 1898.8,647.22 1899.3,648.64 1899.8,642.36 1900.3,648.57 1900.8,643.2 1901.3,648.59 1901.42,646.78 1901.54,640.78 1901.66,646.78 1901.8,645.63 1902.3,648.98 1902.8,645.21 1903.3,649.53 1903.8,646.06 1904.3,648.76 1904.8,646.18 1905.3,649.4 1905.56,632.94 1905.68,626.94 1905.8,632.94 1905.8,643.93 1906.3,649.53 1906.8,645.89 1907.3,649.36 1907.8,646.55 1908.3,648.76 1908.66,642.24 1908.78,636.24 1908.9,642.24 1908.8,644.96 1909.3,648.68 1909.8,641.22 1910.3,648.69 1910.8,645.84 1911.3,649.53 1911.8,646.17 1911.96,633.97 1912.08,627.97 1912.2,633.97 1912.3,649.04 1912.8,641.61 1913.3,649.4 1913.8,645.14 1914.3,649.12 1914.8,647.4 1914.86,642.86 1914.98,636.86 1915.1,642.86 1915.3,649.37 1915.8,644.81 1916.3,649.2 1916.8,647.25 1917.3,648.86 1917.34,534.77 1917.46,528.77 1917.58,534.77 1917.8,645.27 1918.3,649.2 1918.8,644.87 1919.3,649.19 1919.8,643.19 1920.3,649.05 1920.8,646.38 1921.06,640.58 1921.18,634.58 1921.3,640.58 1921.3,649.13 1921.8,646.72 1922.3,648.64 1922.8,642.56 1923.3,648.92 1923.8,645.87 1924.16,647.4 1924.28,641.4 1924.4,647.4 1924.3,649.22 1924.8,646.44 1925.3,649.35 1925.8,646.99 1926.3,649.22 1926.8,641.26 1927.3,649.22 1927.8,645.55 1927.88,635.42 1928,629.42 1928.12,635.42 1928.3,648.56 1928.8,646.27 1929.3,648.86 1929.8,646.81 1930.3,648.67 1930.36,641.82 1930.48,635.82 1930.6,641.82 1930.8,646.8 1931.3,648.88 1931.8,646.38 1932.3,649.39 1932.8,646.42 1933.3,648.92 1933.8,646.05 1934.3,648.99 1934.8,642.34 1935.3,649.16 1935.8,646.07 1935.94,636.04 1936.06,630.04 1936.18,636.04 1936.3,649.29 1936.8,645.39 1937.3,648.56 1937.8,646.94 1938.3,649.48 1938.63,645.34 1938.75,639.34 1938.87,645.34 1938.8,642.19 1939.3,649.34 1939.8,644.15 1940.3,649.41 1940.8,646.05 1941.11,621.57 1941.23,615.57 1941.35,621.57 1941.3,649 1941.8,644.24 1942.3,648.66 1942.8,643.83 1943.3,649.41 1943.8,646.38 1943.79,648.44 1943.91,642.44 1944.03,648.44 1944.3,648.83 1944.8,644.66 1945.3,649.22 1945.8,645.45 1946.3,649.48 1946.48,626.32 1946.6,620.32 1946.72,626.32 1946.8,644 1947.3,649.2 1947.8,645.9 1948.3,648.7 1948.8,645.22 1949.3,648.65 1949.37,594.91 1949.49,588.91 1949.61,594.91 1949.8,647.33 1950.3,649 1950.8,645.1 1951.3,649.1 1951.8,643.92 1952.3,649.07 1952.27,613.92 1952.39,607.92 1952.51,613.92 1952.8,644.08 1953.3,648.59 1953.8,647 1954.3,648.56 1954.8,645.78 1955.16,644.3 1955.28,638.3 1955.4,644.3 1955.3,648.87 1955.8,645.76 1956.3,648.75 1956.8,645.18 1957.3,649.33 1957.8,647.1 1958.3,649.51 1958.26,642.86 1958.38,636.86 1958.5,642.86 1958.8,645.79 1959.3,649.5 1959.8,646.51 1960.3,648.62 1960.8,646.18 1961.3,649.09 1961.8,646.7 1962.3,648.61 1962.8,643.68 1963.3,649.1 1963.43,614.34 1963.55,608.34 1963.67,614.34 1963.8,644.59 1964.3,649.01 1964.8,644.38 1965.3,649.29 1965.8,645.1 1966.3,648.77 1966.53,643.27 1966.65,637.27 1966.77,643.27 1966.8,646.97 1967.3,649.25 1967.8,647.4 1968.3,648.83 1968.8,641.01 1969.3,649.19 1969.63,648.44 1969.75,642.44 1969.87,648.44 1969.8,646.45 1970.3,649.28 1970.8,643.41 1971.3,649.03 1971.8,644.87 1971.9,646.78 1972.02,640.78 1972.14,646.78 1972.3,649.27 1972.8,646.67 1973.3,648.83 1973.8,646.58"/>
<text x="1159.6" y="660.76" font-size="27.5" text-anchor="end">0</text>
<text x="1159.6" y="609.15" font-size="27.5" text-anchor="end">500</text>
<text x="1159.6" y="557.54" font-size="27.5" text-anchor="end">1000</text>
<text transform="translate(1104 590.12) rotate(-90)" font-size="30.1" text-anchor="middle">Width (mm)</text>
<text x="1169.85" y="687.1" font-size="27.5" text-anchor="middle">0</text>
<text x="1260.04" y="687.1" font-size="27.5" text-anchor="middle">500</text>
<text x="1350.23" y="687.1" font-size="27.5" text-anchor="middle">1000</text>
<text x="1440.42" y="687.1" font-size="27.5" text-anchor="middle">1500</text>
<text x="1530.61" y="687.1" font-size="27.5" text-anchor="middle">2000</text>
<text x="1620.79" y="687.1" font-size="27.5" text-anchor="middle">2500</text>
<text x="1710.98" y="687.1" font-size="27.5" text-anchor="middle">3000</text>
<text x="1801.17" y="687.1" font-size="27.5" text-anchor="middle">3500</text>
<text x="1891.36" y="687.1" font-size="27.5" text-anchor="middle">4000</text>
<text x="1981.55" y="687.1" font-size="27.5" text-anchor="middle">4500</text>
<text x="1575.6" y="723.25" font-size="30.1" text-anchor="middle">Data Samples</text>
</g>
</g>
<g id="BL">
<g id="BL1">
<path class="ax" stroke-width="1.7" d="M106.25 811.25H955.1V942H106.25ZM106.25 942h8.4M955.1 942h-8.4M106.25 898.42h8.4M955.1 898.42h-8.4M106.25 854.83h8.4M955.1 854.83h-8.4M106.25 811.25h8.4M955.1 811.25h-8.4"/>
<polyline class="d" stroke-width="3.4" points="106.9,811.25 107.71,811.25 108.78,942 109.64,811.25 110.49,898.42 111.35,811.25 111.99,898.42 112.63,811.25 113.49,942 114.35,811.25 134.73,811.25 135.33,942 135.94,811.25 190.19,811.25 190.8,898.42 191.65,898.42 192.26,811.25 192.76,811.25 193.37,898.42 194.44,898.42 195.04,811.25 200.68,811.25 201.29,898.42 201.9,811.25 224.67,811.25 225.27,942 225.88,811.25 233.88,811.25 234.48,898.42 235.55,898.42 236.16,811.25 246.94,811.25 247.54,942 248.15,811.25 322.1,811.25 322.71,942 323.32,811.25 324.03,811.25 324.64,942 325.24,811.25 325.96,811.25 326.56,942 327.17,811.25 338.59,811.25 339.2,942 339.81,811.25 370.93,811.25 371.53,898.42 372.6,898.42 373.21,811.25 374.14,811.25 374.75,898.42 375.35,811.25 376.07,811.25 376.67,898.42 377.28,811.25 400.91,811.25 401.51,898.42 402.12,811.25 403.05,811.25 403.66,898.42 404.26,811.25 418.04,811.25 418.65,898.42 425.71,898.42 426.32,811.25 428.53,811.25 429.14,898.42 429.75,811.25 430.89,811.25 431.49,898.42 432.1,811.25 432.81,811.25 433.42,898.42 434.03,811.25 434.53,811.25 435.13,898.42 435.74,811.25 455.09,811.25 455.69,898.42 460.4,898.42 461.01,811.25 584.14,811.25 584.75,898.42 587.53,898.42 588.14,811.25 612.41,811.25 613.01,898.42 614.94,898.42 615.55,811.25 618.4,811.25 619.01,898.42 620.51,898.42 621.11,811.25 644.31,811.25 644.92,898.42 649.85,898.42 650.45,811.25 679.65,811.25 680.25,942 680.86,811.25 682,811.25 682.61,898.42 684.54,898.42 685.14,811.25 687.14,811.25 687.75,898.42 690.32,898.42 690.93,811.25 713.05,811.25 713.66,898.42 714.27,811.25 715.62,811.25 716.23,898.42 716.84,811.25 717.34,811.25 717.94,898.42 719.23,898.42 719.84,811.25 723.76,811.25 724.37,898.42 740.86,898.42 741.46,811.25 742.61,811.25 743.21,898.42 743.82,811.25 744.32,811.25 744.93,898.42 746.21,898.42 746.82,811.25 786.29,811.25 786.9,898.42 787.5,811.25 788.22,811.25 788.82,898.42 789.43,811.25 790.14,811.25 790.75,898.42 791.36,811.25 808.56,811.25 809.17,898.42 809.78,811.25 848.61,811.25 849.21,898.42 849.82,811.25 870.41,811.25"/>
<text x="93.85" y="952.15" font-size="27.9" text-anchor="end">2</text>
<text x="93.85" y="908.56" font-size="27.9" text-anchor="end">3</text>
<text x="93.85" y="864.98" font-size="27.9" text-anchor="end">4</text>
<text x="93.85" y="821.4" font-size="27.9" text-anchor="end">5</text>
<text transform="translate(50 878.62) rotate(-90)" font-size="31.5" text-anchor="middle">FI Value</text>
</g>
<g id="BL2">
<path class="ax" stroke-width="1.7" d="M106.25 993.25H955.1V1122H106.25ZM106.25 1104.24h8.4M955.1 1104.24h-8.4M106.25 993.25h8.4M955.1 993.25h-8.4"/>
<polyline class="d" stroke-width="3.4" points="107.92,997.69 108.57,1064.28 146.36,1064.28 147.22,1122 481,1122 481.6,1064.28 482.21,1122 492.35,1122 492.95,1064.28 493.56,1122 555.87,1122 556.48,1064.28 557.09,1122 564.44,1122 565.04,1064.28 565.65,1122 589.06,1122 589.67,1064.28 590.28,1122 599.13,1122 599.74,1064.28 600.34,1122 601.7,1122 602.31,1064.28 602.91,1122 611.34,1122 611.94,1064.28 616.65,1064.28 617.26,1122 661.44,1122 662.05,1064.28 663.55,1064.28 664.16,1122 665.09,1122 665.69,1064.28 667.62,1064.28 668.23,1122 675.58,1122 676.19,1064.28 678.11,1064.28 678.72,1122 714.52,1122 715.37,1064.28 786.47,1064.28 787.33,997.69 788.18,1064.28 797.82,1064.28 798.89,1122 831.05,1122 831.65,1064.28 832.26,1122 844.72,1122 845.79,1064.28 870.2,1064.28"/>
<text x="93.85" y="1114.39" font-size="27.9" text-anchor="end">15</text>
<text x="93.85" y="1003.4" font-size="27.9" text-anchor="end">20</text>
<text transform="translate(44 1058.62) rotate(-90)" font-size="31.5" text-anchor="middle">NWT (mm)</text>
</g>
<g id="BL3">
<path class="ax" stroke-width="1.7" d="M106.25 1172.6H955.1V1301.75H106.25ZM106.25 1301.75h8.4M955.1 1301.75h-8.4M106.25 1213.5h8.4M955.1 1213.5h-8.4"/>
<polyline class="d" stroke-width="3.4" points="106.86,1263.96 107.47,1275.24 108.07,1292.11 108.68,1279.39 109.29,1202.36 109.89,1260.08 110.5,1274.05 111.11,1279.05 111.71,1292.5 112.32,1283.94 112.92,1281 113.53,1234.42 114.14,1271.94 114.74,1282.85 115.35,1263.72 115.96,1263 116.56,1270.88 117.17,1268.23 117.78,1292.11 118.38,1280.78 118.99,1278.73 119.6,1283.25 120.2,1278.12 120.81,1273.94 121.42,1262.94 122.02,1279.85 122.63,1282.16 123.23,1269.83 123.84,1239.48 124.45,1283.88 125.05,1260.64 125.66,1277.23 126.27,1292.11 126.87,1273.21 127.48,1265.33 128.09,1273.36 128.69,1264.34 129.3,1268.36 129.91,1268.32 130.51,1246.41 131.12,1261.58 131.73,1278.65 132.33,1276.4 132.94,1281.57 133.54,1269.77 134.15,1283.07 134.76,1281.2 135.36,1269.01 135.97,1239.48 136.58,1292.11 137.18,1278.57 137.79,1292.5 138.4,1266.19 139,1270.07 139.61,1261.67 140.22,1281.58 140.82,1277.9 141.43,1266.05 142.03,1258.69 142.64,1260.68 143.25,1280.12 143.85,1281.15 144.46,1270.23 145.07,1280.38 145.67,1235.87 146.28,1292.5 146.89,1276.45 147.49,1282.73 148.1,1275.45 148.71,1274.02 149.31,1269.73 149.92,1281.73 150.53,1250.02 151.13,1260.61 151.74,1263.38 152.34,1275.73 152.95,1272.93 153.56,1271.85 154.16,1244.97 154.77,1269.07 155.38,1292.11 155.98,1277.06 156.59,1278.58 157.2,1260.19 157.8,1261.52 158.41,1264.21 159.02,1248.58 159.62,1292.5 160.23,1269.33 160.84,1281.62 161.44,1292.11 162.05,1282.76 162.65,1274.43 163.26,1277.63 163.87,1244.97 164.47,1272.62 165.08,1261.53 165.69,1292.11 166.29,1267.63 166.9,1262.58 167.51,1261.76 168.11,1278.24 168.72,1267.35 169.33,1275.47 169.93,1292.11 170.54,1269.64 171.15,1261.17 171.75,1265.93 172.36,1279.62 172.96,1292.11 173.57,1251.46 174.18,1275.16 174.78,1262.05 175.39,1282.73 176,1281.37 176.6,1238.03 177.21,1276.03 177.82,1276.78 178.42,1265.89 179.03,1269.26 179.64,1279.8 180.24,1238.03 180.85,1267.5 181.46,1269.39 182.06,1273.28 182.67,1267.26 183.27,1277.82 183.88,1262.6 184.49,1276.89 185.09,1256.52 185.7,1276.36 186.31,1282.83 186.91,1266.1 187.52,1263.68 188.13,1264.8 188.73,1266.66 189.34,1282.58 189.95,1270.49 190.55,1248.29 191.16,1292.11 191.77,1264.52 192.37,1260.83 192.98,1282.43 193.58,1292.11 194.19,1260.94 194.8,1276.81 195.4,1260.18 196.01,1262.27 196.62,1246.84 197.22,1268.88 197.83,1279 198.44,1292.5 199.04,1264.5 199.65,1273.25 200.26,1239.48 200.86,1282.2 201.47,1292.11 202.08,1239.48 202.68,1277.93 203.29,1292.5 203.89,1279.56 204.5,1251.46 205.11,1279.2 205.71,1266.47 206.32,1267.15 206.93,1282.73 207.53,1261.62 208.14,1276.27 208.75,1292.5 209.35,1242.8 209.96,1276.34 210.57,1263.8 211.17,1282.34 211.78,1292.11 212.38,1277.47 212.99,1261.88 213.6,1292.5 214.2,1246.84 214.81,1275.08 215.42,1277.03 216.02,1263.89 216.63,1279.36 217.24,1282.73 217.84,1237.74 218.45,1272.8 219.06,1283.28 219.66,1282.6 220.27,1292.5 220.88,1268.45 221.48,1255.08 222.09,1275.52 222.69,1282.34 223.3,1292.11 223.91,1283.95 224.51,1278.61 225.12,1173.77 225.73,1261.99 226.33,1264.28 226.94,1279.56 227.55,1292.5 228.15,1270.15 228.76,1260.63 229.37,1257.96 229.97,1282.26 230.58,1281.48 231.19,1262.95 231.79,1270.18 232.4,1258.69 233,1275.62 233.61,1270.32 234.22,1292.11 234.82,1272.91 235.43,1260.85 236.04,1274.07 236.64,1257.24 237.25,1283.84 237.86,1292.5 238.46,1275.94 239.07,1273.83 239.68,1244.97 240.28,1277.62 240.89,1292.5 241.5,1292.11 242.1,1272 242.71,1269.35 243.31,1274.36 243.92,1280.77 244.53,1246.41 245.13,1278.77 245.74,1282.28 246.35,1292.11 246.95,1261.85 247.56,1219.98 248.17,1279.95 248.77,1276.38 249.38,1265.24 249.99,1239.48 250.59,1265.23 251.2,1268.04 251.81,1268.84 252.41,1292.5 253.02,1276.71 253.62,1262.96 254.23,1246.41 254.84,1292.11 255.44,1270.65 256.05,1283.09 256.66,1263.02 257.26,1268.78 257.87,1278.12 258.48,1270.97 259.08,1265.36 259.69,1260.48 260.3,1255.51 260.9,1274.08 261.51,1262.08 262.12,1263.96 262.72,1267.85 263.33,1292.5 263.93,1282.73 264.54,1274.98 265.15,1265.3 265.75,1272.83 266.36,1248.29 266.97,1264.88 267.57,1272.93 268.18,1265.82 268.79,1262.31 269.39,1273.84 270,1255.51 270.61,1260.22 271.21,1267.64 271.82,1268.58 272.43,1260.82 273.03,1257.24 273.64,1273.91 274.24,1282.23 274.85,1283.15 275.46,1277.27 276.06,1263.94 276.67,1246.41 277.28,1269.34 277.88,1261.28 278.49,1262.17 279.1,1279.03 279.7,1263.58 280.31,1262.69 280.92,1270.62 281.52,1257.24 282.13,1270.2 282.73,1282.73 283.34,1273.35 283.95,1264.76 284.55,1267.31 285.16,1292.11 285.77,1270.21 286.37,1255.51 286.98,1280.84 287.59,1276.01 288.19,1275.61 288.8,1277.67 289.41,1282.73 290.01,1274.26 290.62,1265.91 291.23,1267.88 291.83,1280.31 292.44,1276.3 293.04,1276.22 293.65,1281.1 294.26,1244.97 294.86,1282.73 295.47,1264.01 296.08,1275.02 296.68,1266.41 297.29,1274.7 297.9,1278.96 298.5,1239.48 299.11,1283.48 299.72,1276.84 300.32,1283.26 300.93,1270.33 301.54,1244.97 302.14,1269.27 302.75,1292.11 303.35,1270.9 303.96,1261.16 304.57,1251.46 305.17,1267.1 305.78,1277.09 306.39,1269.4 306.99,1262.78 307.6,1255.08 308.21,1283.51 308.81,1275 309.42,1276.84 310.03,1263.24 310.63,1282.47 311.24,1275.17 311.85,1265.91 312.45,1260.09 313.06,1264.01 313.66,1292.5 314.27,1279.28 314.88,1232.26 315.48,1280.39 316.09,1274.92 316.7,1282.73 317.3,1282.29 317.91,1266.07 318.52,1269.51 319.12,1280.52 319.73,1255.08 320.34,1267.71 320.94,1270.4 321.55,1242.8 322.16,1283.15 322.76,1271.06 323.37,1278.83 323.97,1292.11 324.58,1232.26 325.19,1262.03 325.79,1271.68 326.4,1229.08 327.01,1262.89 327.61,1292.5 328.22,1267.43 328.83,1247.13 329.43,1261.5 330.04,1283.17 330.65,1273.78 331.25,1274.55 331.86,1232.26 332.47,1282.73 333.07,1278.33 333.68,1261.65 334.28,1263.83 334.89,1267.52 335.5,1258.69 336.1,1262.79 336.71,1261.23 337.32,1292.11 337.92,1268.2 338.53,1280.08 339.14,1207.7 339.74,1276.46 340.35,1274.78 340.96,1272.82 341.56,1275.19 342.17,1266.34 342.78,1283.44 343.38,1281.73 343.99,1262.3 344.59,1278.01 345.2,1272.84 345.81,1266.17 346.41,1275.44 347.02,1292.11 347.63,1283.23 348.23,1216.37 348.84,1272.25 349.45,1283.28 350.05,1265.69 350.66,1270.07 351.27,1282.73 351.87,1276.62 352.48,1241.36 353.08,1269.04 353.69,1276.1 354.3,1282.36 354.9,1280.57 355.51,1274.08 356.12,1261.43 356.72,1268.98 357.33,1230.52 357.94,1276.3 358.54,1292.11 359.15,1268.03 359.76,1265.44 360.36,1264.14 360.97,1277.31 361.58,1239.19 362.18,1280.35 362.79,1280.63 363.39,1264.05 364,1235.58 364.61,1261.01 365.21,1264.47 365.82,1292.11 366.43,1236.3 367.03,1268.23 367.64,1264.91 368.25,1264.31 368.85,1268.08 369.46,1269.15 370.07,1247.85 370.67,1271.45 371.28,1277.46 371.89,1278.04 372.49,1197.02 373.1,1268.59 373.7,1267.66 374.31,1292.11 374.92,1250.02 375.52,1281.22 376.13,1269.87 376.74,1261.3 377.34,1276.99 377.95,1271.33 378.56,1279.08 379.16,1253.63 379.77,1278.66 380.38,1268.22 380.98,1292.11 381.59,1268.69 382.2,1250.02 382.8,1270.71 383.41,1262.17 384.01,1275.94 384.62,1250.02 385.23,1278.97 385.83,1267.91 386.44,1282.73 387.05,1263.35 387.65,1282.31 388.26,1275.09 388.87,1255.08 389.47,1255.08 390.08,1278.06 390.69,1279.29 391.29,1283.25 391.9,1271.84 392.51,1265.45 393.11,1292.11 393.72,1292.5 394.32,1253.63 394.93,1277.65 395.54,1282.25 396.14,1262.23 396.75,1266.46 397.36,1292.11 397.96,1280.01 398.57,1271.64 399.18,1268.28 399.78,1237.74 400.39,1260.6 401,1263.07 401.6,1273.24 402.21,1292.11 402.82,1277.04 403.42,1273.94 404.03,1292.5 404.63,1277.86 405.24,1277.27 405.85,1246.41 406.45,1260.88 407.06,1280.36 407.67,1272.55 408.27,1292.11 408.88,1276.66 409.49,1279.05 410.09,1271.38 410.7,1244.97 411.31,1275.2 411.91,1265.85 412.52,1265.21 413.13,1271.45 413.73,1275.36 414.34,1242.8 414.94,1271.52 415.55,1282.02 416.16,1292.5 416.76,1275.45 417.37,1265.37 417.98,1264.46 418.58,1282.6 419.19,1292.11 419.8,1263.13 420.4,1270.05 421.01,1267.17 421.62,1264.97 422.22,1264.4 422.83,1268.18 423.43,1292.11 424.04,1269.52 424.65,1273.86 425.25,1275.5 425.86,1292.5 426.47,1274.54 427.07,1279.19 427.68,1276.15 428.29,1258.69 428.89,1272.46 429.5,1275.49 430.11,1280.95 430.71,1257.24 431.32,1292.11 431.93,1270.23 432.53,1282.47 433.14,1260.43 433.74,1271.3 434.35,1261.61 434.96,1265.91 435.56,1292.11 436.17,1270.48 436.78,1271.62 437.38,1272.29 437.99,1279.51 438.6,1271.77 439.2,1265.91 439.81,1281.23 440.42,1278.41 441.02,1273.22 441.63,1271.36 442.24,1261.94 442.84,1273.71 443.45,1292.11 444.05,1268.97 444.66,1239.19 445.27,1260.5 445.87,1260 446.48,1262.75 447.09,1264.04 447.69,1261.74 448.3,1253.63 448.91,1261.72 449.51,1269.54 450.12,1292.5 450.73,1261.89 451.33,1271.77 451.94,1263.2 452.55,1281.63 453.15,1241.36 453.76,1283.81 454.36,1275.48 454.97,1278.74 455.58,1265.91 456.18,1283.74 456.79,1292.11 457.4,1268.57 458,1277.2 458.61,1273.42 459.22,1267.33 459.82,1270.42 460.43,1263.1 461.04,1275.29 461.64,1261.87 462.25,1279.28 462.86,1251.46 463.46,1262.17 464.07,1267.48 464.67,1278.28 465.28,1280.49 465.89,1241.36 466.49,1273.24 467.1,1280.78 467.71,1275.82 468.31,1268.34 468.92,1262.47 469.53,1264.79 470.13,1242.8 470.74,1274.41 471.35,1262.86 471.95,1273.53 472.56,1283.44 473.17,1270.43 473.77,1268.95 474.38,1280.5 474.98,1268.75 475.59,1241.36 476.2,1271.62 476.8,1267.37 477.41,1278.4 478.02,1269.97 478.62,1255.08 479.23,1264.67 479.84,1272.94 480.44,1280.99 481.05,1283.72 481.66,1292.11 482.26,1268.8 482.87,1282.11 483.48,1279.32 484.08,1242.8 484.69,1276.13 485.29,1292.5 485.9,1283.88 486.51,1261 487.11,1262.35 487.72,1272.71 488.33,1282.25 488.93,1255.08 489.54,1274.57 490.15,1268.55 490.75,1282.67 491.36,1282.02 491.97,1246.41 492.57,1279.9 493.18,1272.53 493.78,1283.37 494.39,1263.23 495,1281.69 495.6,1246.7 496.21,1268.92 496.82,1273.55 497.42,1292.5 498.03,1273.38 498.64,1269.86 499.24,1270.72 499.85,1268.62 500.46,1251.46 501.06,1274.18 501.67,1264.3 502.28,1273.93 502.88,1260.21 503.49,1292.11 504.09,1283.54 504.7,1265.91 505.31,1273.01 505.91,1263.47 506.52,1281.51 507.13,1276.01 507.73,1258.69 508.34,1278.22 508.95,1276.67 509.55,1262.42 510.16,1262.64 510.77,1255.08 511.37,1271.22 511.98,1265.31 512.59,1260.67 513.19,1292.5 513.8,1277.19 514.4,1274.1 515.01,1283.54 515.62,1292.11 516.22,1282.03 516.83,1280.98 517.44,1255.08 518.04,1274.18 518.65,1265.98 519.26,1265.31 519.86,1277.11 520.47,1250.02 521.08,1282.6 521.68,1272.3 522.29,1278.99 522.9,1273.1 523.5,1274.99 524.11,1264.46 524.71,1262.47 525.32,1292.11 525.93,1261.95 526.53,1292.5 527.14,1278.07 527.75,1262.77 528.35,1263.56 528.96,1272.51 529.57,1216.8 530.17,1265.51 530.78,1260.15 531.39,1292.11 531.99,1274.57 532.6,1258.69 533.21,1280.59 533.81,1274.15 534.42,1281.47 535.02,1268.13 535.63,1268.24 536.24,1250.02 536.84,1281.41 537.45,1264.87 538.06,1262.05 538.66,1263.78 539.27,1279.06 539.88,1282.03 540.48,1253.63 541.09,1266.97 541.7,1274.85 542.3,1260.49 542.91,1292.5 543.52,1281.45 544.12,1258.69 544.73,1274.54 545.33,1279.76 545.94,1271.05 546.55,1230.81 547.15,1280.9 547.76,1279.86 548.37,1268.23 548.97,1292.5 549.58,1292.11 550.19,1270.98 550.79,1264.46 551.4,1266.44 552.01,1268.56 552.61,1276.6 553.22,1263.96 553.83,1269.78 554.43,1261.43 555.04,1275.49 555.64,1248.29 556.25,1273.22 556.86,1292.5 557.46,1282.49 558.07,1292.11 558.68,1264.82 559.28,1279.05 559.89,1264.66 560.5,1257.24 561.1,1292.5 561.71,1261.4 562.32,1260.3 562.92,1230.81 563.53,1281.06 564.13,1292.11 564.74,1270.68 565.35,1271.23 565.95,1246.7 566.56,1281.9 567.17,1279.86 567.77,1276.2 568.38,1275.06 568.99,1253.63 569.59,1279.73 570.2,1262.14 570.81,1263.22 571.41,1292.11 572.02,1266.5 572.63,1283.06 573.23,1204.24 573.84,1282.93 574.44,1264.12 575.05,1277.09 575.66,1292.11 576.26,1273.88 576.87,1280.22 577.48,1281.53 578.08,1255.08 578.69,1276.24 579.3,1282.37 579.9,1272.36 580.51,1260.5 581.12,1260.74 581.72,1265.25 582.33,1277.22 582.94,1264.33 583.54,1278.92 584.15,1235.87 584.75,1292.11 585.36,1269.16 585.97,1269.74 586.57,1268.51 587.18,1268.59 587.79,1278.69 588.39,1280.27 589,1270.83 589.61,1251.75 590.21,1264.57 590.82,1261.58 591.43,1271.54 592.03,1276.08 592.64,1264.81 593.25,1292.11 593.85,1273.85 594.46,1260.65 595.06,1278.82 595.67,1275.31 596.28,1269.35 596.88,1269.52 597.49,1234.13 598.1,1262.44 598.7,1282.92 599.31,1274.17 599.92,1251.46 600.52,1281.36 601.13,1262.65 601.74,1292.11 602.34,1272.47 602.95,1270.64 603.56,1276.76 604.16,1229.08 604.77,1264.92 605.37,1277.07 605.98,1271.06 606.59,1273.85 607.19,1292.11 607.8,1264.73 608.41,1280.73 609.01,1262.59 609.62,1260.29 610.23,1279.92 610.83,1278.13 611.44,1279.28 612.05,1261.45 612.65,1268.8 613.26,1292.11 613.87,1278.65 614.47,1292.5 615.08,1263.84 615.68,1261.29 616.29,1272.45 616.9,1264.26 617.5,1260.13 618.11,1270.74 618.72,1277.19 619.32,1279.1 619.93,1261.11 620.54,1251.75 621.14,1274.37 621.75,1266.92 622.36,1277.72 622.96,1276.84 623.57,1276.68 624.18,1272.91 624.78,1280.69 625.39,1276.96 625.99,1232.69 626.6,1264.59 627.21,1279.8 627.81,1267.49 628.42,1283.88 629.03,1267.43 629.63,1269.04 630.24,1257.24 630.85,1271.47 631.45,1273.33 632.06,1264.87 632.67,1261.55 633.27,1266.87 633.88,1275.28 634.48,1244.97 635.09,1282.37 635.7,1265.27 636.3,1292.11 636.91,1268.97 637.52,1262.59 638.12,1263.02 638.73,1274.41 639.34,1292.11 639.94,1273.76 640.55,1282.07 641.16,1257.24 641.76,1265.99 642.37,1277.29 642.98,1260.54 643.58,1267.71 644.19,1260.54 644.79,1279.32 645.4,1292.11 646.01,1275.31 646.61,1265.54 647.22,1263.24 647.83,1260.85 648.43,1283.31 649.04,1277.81 649.65,1276.33 650.25,1272.19 650.86,1235.87 651.47,1260.18 652.07,1272.6 652.68,1262.07 653.29,1277.12 653.89,1244.97 654.5,1261.06 655.1,1266.57 655.71,1257.24 656.32,1292.5 656.92,1272.96 657.53,1272.87 658.14,1265.8 658.74,1292.11 659.35,1279.82 659.96,1271.47 660.56,1234.13 661.17,1268.78 661.78,1278.03 662.38,1280.1 662.99,1279.94 663.6,1238.47 664.2,1292.5 664.81,1270.8 665.41,1261.76 666.02,1282.92 666.63,1188.35 667.23,1269.29 667.84,1292.11 668.45,1279.05 669.05,1273.34 669.66,1278.5 670.27,1282.22 670.87,1264.46 671.48,1262.66 672.09,1292.11 672.69,1263.02 673.3,1278.7 673.91,1262.3 674.51,1265.93 675.12,1292.11 675.72,1266.35 676.33,1274.6 676.94,1255.08 677.54,1262.38 678.15,1271.43 678.76,1276.62 679.36,1261.02 679.97,1271.11 680.58,1190.09 681.18,1261.69 681.79,1276.31 682.4,1261.97 683,1246.41 683.61,1282.14 684.22,1263.03 684.82,1271.19 685.43,1292.11 686.03,1263.74 686.64,1266.11 687.25,1261.83 687.85,1261.11 688.46,1260.54 689.07,1292.11 689.67,1269.24 690.28,1278.05 690.89,1253.63 691.49,1274.23 692.1,1263.7 692.71,1272.45 693.31,1283.59 693.92,1281.86 694.53,1244.97 695.13,1264.51 695.74,1292.11 696.34,1281.83 696.95,1241.36 697.56,1263.63 698.16,1292.5 698.77,1292.11 699.38,1265.02 699.98,1264.99 700.59,1274.98 701.2,1276.43 701.8,1255.08 702.41,1276.52 703.02,1292.11 703.62,1261.17 704.23,1263.12 704.83,1262.44 705.44,1292.5 706.05,1262.74 706.65,1246.7 707.26,1292.11 707.87,1279.53 708.47,1255.08 709.08,1279.6 709.69,1281.16 710.29,1283.4 710.9,1275.14 711.51,1292.5 712.11,1276.66 712.72,1265.91 713.33,1292.11 713.93,1264.86 714.54,1279.57 715.14,1277.57 715.75,1282.14 716.36,1292.5 716.96,1268.53 717.57,1292.11 718.18,1257.24 718.78,1279.98 719.39,1292.5 720,1283.15 720.6,1250.02 721.21,1275.78 721.82,1278.02 722.42,1292.11 723.03,1244.68 723.64,1266.18 724.24,1268.09 724.85,1273.13 725.45,1270.94 726.06,1251.75 726.67,1278.32 727.27,1292.11 727.88,1278.69 728.49,1275.02 729.09,1282.09 729.7,1282.52 730.31,1268.6 730.91,1292.11 731.52,1267.69 732.13,1271.62 732.73,1271.84 733.34,1273.13 733.95,1272.59 734.55,1274.22 735.16,1270.41 735.76,1292.11 736.37,1273.69 736.98,1266.74 737.58,1253.63 738.19,1261.24 738.8,1282.05 739.4,1272.96 740.01,1292.11 740.62,1279.74 741.22,1274.66 741.83,1283.4 742.44,1214.93 743.04,1276.49 743.65,1260.99 744.26,1292.11 744.86,1251.46 745.47,1281.33 746.07,1273.34 746.68,1260.63 747.29,1239.48 747.89,1267.41 748.5,1263.09 749.11,1268.9 749.71,1282.73 750.32,1278.88 750.93,1262.47 751.53,1246.41 752.14,1275.04 752.75,1279.35 753.35,1279.61 753.96,1277.35 754.57,1275.97 755.17,1261.98 755.78,1283.23 756.38,1268.28 756.99,1214.93 757.6,1292.11 758.2,1272 758.81,1268.38 759.42,1282 760.02,1279.01 760.63,1283.6 761.24,1257.24 761.84,1275.85 762.45,1281.71 763.06,1273.69 763.66,1292.11 764.27,1267.06 764.88,1271.87 765.48,1255.8 766.09,1262.85 766.69,1278.46 767.3,1273.65 767.91,1282.73 768.51,1269.58 769.12,1282.43 769.73,1219.98 770.33,1266.97 770.94,1260.07 771.55,1278.39 772.15,1272.99 772.76,1237.74 773.37,1268.94 773.97,1266.11 774.58,1261.86 775.18,1226.91 775.79,1278.75 776.4,1269.22 777,1269.97 777.61,1280.07 778.22,1244.97 778.82,1272.19 779.43,1281.61 780.04,1261.36 780.64,1271.37 781.25,1282.73 781.86,1263.27 782.46,1269.81 783.07,1241.36 783.68,1279.9 784.28,1274.55 784.89,1277.03 785.49,1260.25 786.1,1265.91 786.71,1292.11 787.31,1268.8 787.92,1260.95 788.53,1276.17 789.13,1271.37 789.74,1258.69 790.35,1292.11 790.95,1265.39 791.56,1262.19 792.17,1281.32 792.77,1268.49 793.38,1272.62 793.99,1277.49 794.59,1241.36 795.2,1260.28 795.8,1283.24 796.41,1276.59 797.02,1292.11 797.62,1251.75 798.23,1271 798.84,1278.76 799.44,1266.44 800.05,1260.43 800.66,1292.11 801.26,1264.83 801.87,1232.69 802.48,1283.94 803.08,1278.03 803.69,1278.9 804.3,1292.5 804.9,1253.63 805.51,1282.73 806.11,1283.21 806.72,1281 807.33,1262.12 807.93,1274.75 808.54,1270.49 809.15,1292.11 809.75,1271.35 810.36,1264.22 810.97,1255.51 811.57,1274.37 812.18,1283.63 812.79,1272.42 813.39,1279.35 814,1275.1 814.61,1282.73 815.21,1234.13 815.82,1272.67 816.42,1274.01 817.03,1260.58 817.64,1267.06 818.24,1265.05 818.85,1263.02 819.46,1277.96 820.06,1292.11 820.67,1270.47 821.28,1260.51 821.88,1274.34 822.49,1262.3 823.1,1262.6 823.7,1261.11 824.31,1278.81 824.92,1266.81 825.52,1265.3 826.13,1263.74 826.73,1292.11 827.34,1260.29 827.95,1260.64 828.55,1262.95 829.16,1253.63 829.77,1269.16 830.37,1273.28 830.98,1282.73 831.59,1248.29 832.19,1277.29 832.8,1273.25 833.41,1268.01 834.01,1267.61 834.62,1253.63 835.23,1292.11 835.83,1280.8 836.44,1283.12 837.04,1268.73 837.65,1234.13 838.26,1278.62 838.86,1292.5 839.47,1280.71 840.08,1278.76 840.68,1282.73 841.29,1263.74 841.9,1271.62 842.5,1260.45 843.11,1262.3 843.72,1283.84 844.32,1267.72 844.93,1282.73 845.53,1292.5 846.14,1241.36 846.75,1274.12 847.35,1261.45 847.96,1272.21 848.57,1278.77 849.17,1292.11 849.78,1268.77 850.39,1264.96 850.99,1262.3 851.6,1268.12 852.21,1268.44 852.81,1278.71 853.42,1246.7 854.03,1278.21 854.63,1282.73 855.24,1279.96 855.84,1280.64 856.45,1264.56 857.06,1281.72 857.66,1253.63 858.27,1271.22 858.88,1274.35 859.48,1282.73 860.09,1283.09 860.7,1277.04 861.3,1225.47 861.91,1270.87 862.52,1263.83 863.12,1283.18 863.73,1270.4 864.34,1271.53 864.94,1292.11 865.55,1253.63 866.15,1280.51 866.76,1267.65 867.37,1260.3 867.97,1260.4 868.58,1265.91 869.19,1275.27 869.79,1269.64 870.4,1266.66"/>
<text x="93.85" y="1311.9" font-size="27.9" text-anchor="end">0</text>
<text x="93.85" y="1223.64" font-size="27.9" text-anchor="end">50</text>
<text transform="translate(40 1238.17) rotate(-90)" font-size="31.5" text-anchor="middle">Length (mm)</text>
</g>
<g id="BL4">
<path class="ax" stroke-width="1.7" d="M106.25 1353H955.1V1482.5H106.25ZM106.25 1482.5h8.4M955.1 1482.5h-8.4M106.25 1422.99h8.4M955.1 1422.99h-8.4M106.25 1363.47h8.4M955.1 1363.47h-8.4M106.25 1482.5v-8.4M106.25 1353v8.4M227.51 1482.5v-8.4M227.51 1353v8.4M348.78 1482.5v-8.4M348.78 1353v8.4M470.04 1482.5v-8.4M470.04 1353v8.4M591.31 1482.5v-8.4M591.31 1353v8.4M712.57 1482.5v-8.4M712.57 1353v8.4M833.84 1482.5v-8.4M833.84 1353v8.4M955.1 1482.5v-8.4M955.1 1353v8.4"/>
<polyline class="d" stroke-width="3.4" points="106.86,1475.91 107.47,1476.22 108.07,1479.61 108.68,1406.9 109.29,1476.09 109.89,1477.23 110.5,1477.64 111.11,1475.08 111.71,1476.04 112.32,1476.2 112.93,1475.83 113.53,1464.53 114.14,1476.29 114.75,1475.64 115.35,1477.29 115.96,1476.65 116.57,1475.21 117.17,1474.81 117.78,1479.61 118.39,1473.91 118.99,1475.53 119.6,1473.63 120.21,1475.63 120.81,1476.93 121.42,1477.62 122.03,1476.45 122.63,1476.56 123.24,1474.5 123.85,1475.07 124.45,1476.83 125.06,1475.21 125.67,1474.45 126.27,1479.61 126.88,1476.91 127.49,1474.63 128.09,1474.68 128.7,1474.41 129.31,1473.63 129.91,1473.45 130.52,1475.08 131.12,1474.75 131.73,1474.99 132.34,1474.28 132.94,1439.97 133.55,1473.36 134.16,1476.35 134.76,1476.78 135.37,1476.21 135.98,1467.85 136.58,1473.98 137.19,1473.74 137.8,1479.61 138.4,1473.63 139.01,1474.21 139.62,1474.12 140.22,1474.05 140.83,1475.74 141.44,1475.52 142.04,1479.61 142.65,1475.08 143.26,1475.07 143.86,1476.7 144.47,1475.25 145.08,1473.94 145.68,1475.07 146.29,1475.03 146.9,1476.5 147.5,1474.46 148.11,1476.68 148.72,1474.16 149.32,1445.46 149.93,1475.35 150.54,1474.88 151.14,1441.85 151.75,1476.76 152.36,1474.73 152.96,1475.36 153.57,1475.98 154.18,1449.07 154.78,1473.63 155.39,1475.42 156,1476.43 156.6,1448.78 157.21,1475.39 157.82,1475.6 158.42,1474.75 159.03,1476.78 159.64,1477.7 160.24,1476.2 160.85,1479.61 161.46,1474.78 162.06,1476.51 162.67,1466.4 163.28,1474.07 163.88,1474.01 164.49,1475.94 165.1,1476.19 165.7,1475.02 166.31,1439.97 166.92,1476.7 167.52,1477.69 168.13,1477.49 168.74,1475.96 169.34,1451.67 169.95,1479.61 170.56,1477.6 171.16,1477.17 171.77,1476.43 172.38,1462.79 172.98,1477.03 173.59,1476.53 174.2,1476.73 174.8,1449.07 175.41,1473.93 176.02,1474.28 176.62,1475.55 177.23,1475.89 177.84,1474.6 178.44,1445.9 179.05,1476.88 179.65,1474.43 180.26,1476.87 180.87,1477.02 181.47,1476.34 182.08,1452.4 182.69,1476.93 183.29,1474.2 183.9,1476.85 184.51,1475.69 185.11,1477.21 185.72,1477.28 186.33,1474.8 186.93,1473.63 187.54,1473.28 188.15,1475.98 188.75,1476.83 189.36,1475 189.97,1474.02 190.57,1472.61 191.18,1476.46 191.79,1479.61 192.39,1477.35 193,1477.9 193.61,1477.27 194.21,1477.38 194.82,1474.37 195.43,1473.44 196.03,1476.33 196.64,1476.29 197.25,1473.19 197.85,1474.14 198.46,1474.57 199.07,1474.73 199.67,1475.36 200.28,1475.38 200.89,1479.61 201.49,1473.74 202.1,1473.98 202.71,1473.77 203.31,1466.69 203.92,1474.72 204.53,1474 205.13,1476.27 205.74,1476 206.35,1468.57 206.95,1476.15 207.56,1474.82 208.17,1473.63 208.77,1467.13 209.38,1474.4 209.99,1474.76 210.59,1474.46 211.2,1474.58 211.81,1476.57 212.41,1474.1 213.02,1475 213.63,1472.9 214.23,1474.65 214.84,1476.18 215.45,1474.79 216.05,1473.69 216.66,1473.8 217.27,1476.87 217.87,1472.61 218.48,1474.17 219.09,1476.95 219.69,1476.58 220.3,1477.62 220.91,1475.62 221.51,1476.79 222.12,1471.46 222.73,1474.27 223.33,1479.61 223.94,1475.91 224.55,1470.01 225.15,1475.57 225.76,1477.02 226.36,1474.49 226.97,1475.76 227.58,1474.53 228.18,1474.2 228.79,1476.64 229.4,1475.69 230,1476.82 230.61,1475.2 231.22,1476.37 231.82,1477.38 232.43,1476.64 233.04,1472.61 233.64,1476.07 234.25,1477.45 234.86,1477.31 235.46,1475.94 236.07,1475.36 236.68,1474.07 237.28,1473.63 237.89,1474.54 238.5,1474.27 239.1,1473.5 239.71,1473.76 240.32,1474.65 240.92,1475.26 241.53,1454.85 242.14,1474.97 242.74,1476.4 243.35,1474.38 243.96,1473.92 244.56,1475.21 245.17,1477.02 245.78,1477.61 246.38,1470.01 246.99,1474.39 247.6,1476.66 248.2,1477.78 248.81,1477.77 249.42,1472.9 250.02,1475.44 250.63,1475.91 251.24,1476.81 251.84,1477.83 252.45,1476.28 253.06,1475.86 253.66,1475.01 254.27,1475.61 254.88,1475.8 255.48,1474.89 256.09,1475.27 256.7,1472.61 257.3,1475.1 257.91,1474.57 258.52,1474.6 259.12,1476.67 259.73,1475.22 260.34,1473.19 260.94,1477.57 261.55,1477.62 262.16,1477.37 262.76,1475.03 263.37,1475.28 263.98,1476.74 264.58,1475.03 265.19,1459.62 265.8,1477.08 266.4,1477.69 267.01,1475.71 267.62,1474.25 268.22,1473.49 268.83,1464.24 269.44,1475.43 270.04,1474.77 270.65,1476.59 271.26,1476.49 271.86,1476.35 272.47,1477.07 273.08,1471.89 273.68,1476.14 274.29,1475.24 274.89,1474.75 275.5,1473.95 276.11,1476.21 276.71,1477.3 277.32,1474.41 277.93,1476.08 278.53,1474.16 279.14,1474.9 279.75,1474.74 280.35,1472.61 280.96,1475.77 281.57,1475.73 282.17,1475.14 282.78,1474.59 283.39,1474.38 283.99,1473.64 284.6,1479.61 285.21,1475.11 285.81,1476.37 286.42,1469.29 287.03,1475.01 287.63,1477.27 288.24,1474.57 288.85,1475.07 289.45,1460.19 290.06,1474.22 290.67,1476.93 291.27,1476.83 291.88,1474.64 292.49,1474.15 293.09,1476.35 293.7,1475.39 294.31,1460.19 294.91,1474.65 295.52,1474.7 296.13,1458.75 296.73,1474.96 297.34,1475.79 297.95,1474.07 298.55,1475.31 299.16,1475.86 299.77,1475.04 300.37,1476.83 300.98,1477.59 301.59,1439.97 302.19,1475.67 302.8,1474.42 303.41,1475.75 304.01,1474.9 304.62,1474.18 305.23,1475.33 305.83,1474.44 306.44,1475.8 307.05,1476.66 307.65,1474.14 308.26,1462.79 308.87,1474.52 309.47,1474.71 310.08,1476.19 310.69,1462.79 311.29,1475.53 311.9,1476.56 312.51,1475.35 313.11,1444.74 313.72,1474.9 314.33,1476.04 314.93,1383.36 315.54,1475.44 316.15,1476.49 316.75,1477.44 317.36,1477.17 317.97,1476.29 318.57,1450.52 319.18,1476.08 319.79,1476.33 320.39,1476.27 321,1476.63 321.61,1476.85 322.21,1406.9 322.82,1476.69 323.42,1477.36 324.03,1479.61 324.64,1425.53 325.24,1476.77 325.85,1475.48 326.46,1476.82 327.06,1477.41 327.67,1477.65 328.28,1477.77 328.88,1477 329.49,1454.85 330.1,1474.99 330.7,1475.97 331.31,1477.2 331.92,1475.59 332.52,1474.56 333.13,1476.28 333.74,1477.36 334.34,1475.07 334.95,1474.14 335.56,1451.67 336.16,1475.27 336.77,1476.77 337.38,1475.05 337.98,1476.55 338.59,1420.48 339.2,1474.15 339.8,1475.37 340.41,1476.52 341.02,1475.89 341.62,1476.42 342.23,1475.36 342.84,1475.11 343.44,1475.56 344.05,1431.31 344.66,1473.98 345.26,1474.6 345.87,1475.91 346.48,1474.6 347.08,1474.38 347.69,1477.09 348.3,1410.08 348.9,1475.62 349.51,1476.69 350.12,1476.76 350.72,1477.16 351.33,1476.32 351.94,1476.28 352.54,1474.34 353.15,1474.99 353.76,1475.05 354.36,1474.57 354.97,1474.82 355.58,1476.83 356.18,1466.69 356.79,1474.01 357.4,1474.55 358,1474.09 358.61,1473.41 359.22,1476.51 359.82,1460.19 360.43,1474.02 361.04,1475.28 361.64,1474.33 362.25,1467.13 362.86,1477.16 363.46,1477.88 364.07,1475.94 364.68,1476.78 365.28,1413.98 365.89,1474.19 366.5,1474.84 367.1,1476.56 367.71,1476.95 368.32,1476.87 368.92,1477.83 369.53,1475.86 370.13,1467.85 370.74,1477.08 371.35,1477.65 371.95,1477.63 372.56,1465.25 373.17,1475.65 373.77,1475.2 374.38,1479.61 374.99,1474.33 375.59,1474.54 376.2,1474.84 376.81,1474.31 377.41,1474.08 378.02,1475.75 378.63,1471.89 379.23,1473.8 379.84,1476.2 380.45,1477.47 381.05,1475.17 381.66,1476.19 382.27,1472.61 382.87,1474.2 383.48,1473.97 384.09,1475.67 384.69,1475.87 385.3,1476.91 385.91,1476.62 386.51,1476.89 387.12,1477.41 387.73,1476.49 388.33,1474.88 388.94,1473.63 389.55,1476.53 390.15,1477.1 390.76,1476.63 391.37,1477.62 391.97,1452.4 392.58,1475.81 393.19,1474.53 393.79,1475.04 394.4,1477.02 395.01,1477.5 395.61,1474.37 396.22,1473.44 396.83,1474.79 397.43,1476.91 398.04,1477.43 398.65,1477.43 399.25,1391.59 399.86,1474.24 400.47,1476.24 401.07,1475.61 401.68,1474.97 402.29,1479.61 402.89,1474.31 403.5,1475.2 404.11,1476.93 404.71,1476.78 405.32,1477.43 405.93,1475.34 406.53,1473.19 407.14,1477.47 407.75,1474.83 408.35,1475.15 408.96,1477.32 409.57,1474.89 410.17,1476.44 410.78,1476.81 411.39,1475.1 411.99,1477.3 412.6,1472.61 413.21,1474.75 413.81,1477.2 414.42,1477.53 415.03,1476.14 415.63,1474.05 416.24,1476.22 416.85,1472.9 417.45,1476.7 418.06,1474.41 418.66,1475.2 419.27,1476.66 419.88,1479.61 420.48,1474.78 421.09,1474.76 421.7,1475.21 422.3,1475.37 422.91,1477.38 423.52,1477.78 424.12,1474.44 424.73,1475.72 425.34,1474.33 425.94,1476.61 426.55,1476.04 427.16,1448.35 427.76,1477.65 428.37,1477.86 428.98,1475.08 429.58,1430.3 430.19,1476.13 430.8,1475.66 431.4,1479.61 432.01,1475.75 432.62,1475.36 433.22,1476.43 433.83,1475.4 434.44,1475.56 435.04,1475.24 435.65,1476.18 436.26,1474.22 436.86,1472.61 437.47,1475.78 438.08,1476.37 438.68,1477.36 439.29,1475.69 439.9,1477.37 440.5,1476.92 441.11,1475.6 441.72,1475.86 442.32,1475.2 442.93,1455.57 443.54,1474.02 444.14,1476.63 444.75,1475.42 445.36,1473.77 445.96,1473.55 446.57,1474.42 447.18,1474.4 447.78,1476.53 448.39,1475.45 449,1389.86 449.6,1475.27 450.21,1474.96 450.82,1477.12 451.42,1477.42 452.03,1477.8 452.64,1474.87 453.24,1402.86 453.85,1475.82 454.46,1475.1 455.06,1474.02 455.67,1448.35 456.28,1474.39 456.88,1474.57 457.49,1475.93 458.1,1479.61 458.7,1474.99 459.31,1476.54 459.92,1476.27 460.52,1427.84 461.13,1477.94 461.74,1477.88 462.34,1474.95 462.95,1476.33 463.56,1397.8 464.16,1475.57 464.77,1473.89 465.37,1476.09 465.98,1476.26 466.59,1471.46 467.19,1476.94 467.8,1476.91 468.41,1474.33 469.01,1476.89 469.62,1477.71 470.23,1475.72 470.83,1452.97 471.44,1477.6 472.05,1475.98 472.65,1475.14 473.26,1475.88 473.87,1479.61 474.47,1475.66 475.08,1476.39 475.69,1472.18 476.29,1475.75 476.9,1477.2 477.51,1474.78 478.11,1475.74 478.72,1462.79 479.33,1475.68 479.93,1474.85 480.54,1474.59 481.15,1465.68 481.75,1475 482.36,1475.13 482.97,1474.55 483.57,1475.67 484.18,1474.63 484.79,1474.46 485.39,1475.16 486,1477.03 486.61,1475.23 487.21,1474.34 487.82,1420.62 488.43,1476.15 489.03,1474.39 489.64,1477.03 490.25,1474.95 490.85,1457.74 491.46,1474.76 492.07,1476.6 492.67,1475.45 493.28,1476.07 493.89,1476.87 494.49,1457.02 495.1,1475.28 495.71,1474.8 496.31,1475.7 496.92,1387.26 497.53,1476.48 498.13,1474.3 498.74,1473.63 499.35,1473.2 499.95,1476.05 500.56,1462.79 501.17,1476.26 501.77,1475.67 502.38,1477.34 502.99,1476.67 503.59,1477.24 504.2,1474.64 504.81,1476.81 505.41,1473.63 506.02,1473.92 506.63,1476.46 507.23,1474.91 507.84,1476 508.45,1473.96 509.05,1442.57 509.66,1475.3 510.27,1475.36 510.87,1476.77 511.48,1475.2 512.09,1477.04 512.69,1472.9 513.3,1477.13 513.9,1475.3 514.51,1476.21 515.12,1452.4 515.72,1476.85 516.33,1477.32 516.94,1474.62 517.54,1477.07 518.15,1474.37 518.76,1475.92 519.36,1476.93 519.97,1477.02 520.58,1454.85 521.18,1476.42 521.79,1477.69 522.4,1475.24 523,1477.05 523.61,1443.3 524.22,1474.97 524.82,1475.31 525.43,1475.31 526.04,1474.25 526.64,1464.24 527.25,1477.23 527.86,1477.06 528.46,1474.35 529.07,1476.11 529.68,1408.2 530.28,1476.98 530.89,1477.65 531.5,1477.96 532.1,1477.1 532.71,1476.98 533.32,1448.35 533.92,1476.56 534.53,1479.61 535.14,1474.65 535.74,1474.72 536.35,1474.66 536.96,1456.29 537.56,1473.75 538.17,1474.25 538.78,1474.18 539.38,1473.43 539.99,1475.86 540.6,1476.92 541.2,1475.41 541.81,1476.37 542.42,1477.23 543.02,1435.79 543.63,1475.54 544.24,1475.95 544.84,1474.52 545.45,1476.8 546.06,1477.13 546.66,1476.23 547.27,1459.91 547.88,1476.98 548.48,1474.4 549.09,1476.67 549.7,1476.05 550.3,1475.04 550.91,1453.84 551.52,1475.48 552.12,1474.12 552.73,1476.4 553.34,1475.54 553.94,1477.09 554.55,1457.74 555.16,1477.37 555.76,1474.71 556.37,1474.42 556.98,1475.76 557.58,1458.75 558.19,1476.62 558.8,1475.42 559.4,1476.73 560.01,1475.84 560.61,1467.42 561.22,1475.6 561.83,1477.31 562.43,1476.57 563.04,1474.47 563.65,1475.83 564.25,1475.34 564.86,1474.33 565.47,1475.24 566.07,1474.66 566.68,1439.97 567.29,1475.02 567.89,1475.63 568.5,1473.81 569.11,1445.46 569.71,1475.83 570.32,1475.7 570.93,1476.27 571.53,1476.11 572.14,1476.21 572.75,1474.92 573.35,1477 573.96,1464.24 574.57,1474.19 575.17,1476.45 575.78,1474.66 576.39,1475.04 576.99,1476.02 577.6,1477.24 578.21,1439.25 578.81,1474.67 579.42,1475.41 580.03,1476.25 580.63,1475.7 581.24,1476.43 581.85,1477.7 582.45,1474.66 583.06,1474.99 583.67,1473.19 584.27,1477.07 584.88,1477.76 585.49,1479.61 586.09,1474.73 586.7,1475.99 587.31,1476.97 587.91,1431.31 588.52,1476.23 589.13,1474.45 589.73,1476.03 590.34,1442.57 590.95,1473.65 591.55,1473.2 592.16,1474.33 592.77,1474.78 593.37,1475.56 593.98,1475.42 594.59,1475.63 595.19,1476.14 595.8,1474.62 596.41,1471.03 597.01,1476.52 597.62,1477.07 598.23,1476.31 598.83,1476 599.44,1477 600.05,1476.65 600.65,1475.08 601.26,1476.84 601.87,1474.86 602.47,1474.58 603.08,1476.54 603.69,1475.75 604.29,1425.53 604.9,1476.75 605.51,1476.34 606.11,1474.07 606.72,1474.6 607.33,1474.76 607.93,1474.56 608.54,1476.15 609.14,1467.85 609.75,1473.85 610.36,1476.44 610.96,1476.17 611.57,1475.72 612.18,1477.1 612.78,1476.76 613.39,1477.29 614,1475.53 614.6,1479.61 615.21,1474.8 615.82,1475.28 616.42,1475.83 617.03,1474.59 617.64,1475.58 618.24,1472.61 618.85,1477.06 619.46,1474.23 620.06,1475.14 620.67,1475.98 621.28,1474.1 621.88,1477.01 622.49,1477.12 623.1,1476.31 623.7,1475.91 624.31,1476.24 624.92,1475.44 625.52,1472.9 626.13,1475.74 626.74,1475.11 627.34,1475.38 627.95,1473.93 628.56,1475.55 629.16,1472.18 629.77,1474.48 630.38,1474.01 630.98,1476.09 631.59,1475.61 632.2,1475.94 632.8,1475.78 633.41,1472.61 634.02,1475.24 634.62,1474.64 635.23,1476.34 635.84,1476.69 636.44,1474.68 637.05,1474.03 637.66,1474.61 638.26,1476.43 638.87,1475.18 639.48,1474.49 640.08,1473.63 640.69,1475.47 641.3,1476.07 641.9,1475.11 642.51,1475.12 643.12,1477.29 643.72,1477.1 644.33,1475.04 644.94,1475.5 645.54,1474.31 646.15,1479.61 646.76,1475.17 647.36,1477.09 647.97,1475.03 648.58,1474.44 649.18,1474.7 649.79,1474.72 650.4,1474.79 651,1467.85 651.61,1475.12 652.22,1474.05 652.82,1475.64 653.43,1476.36 654.04,1474.84 654.64,1474.05 655.25,1434.63 655.85,1473.81 656.46,1475.16 657.07,1475.96 657.67,1477.37 658.28,1477.35 658.89,1474.9 659.49,1474.53 660.1,1474.19 660.71,1479.61 661.31,1473.29 661.92,1475.1 662.53,1477.17 663.13,1477.88 663.74,1459.62 664.35,1474.39 664.95,1474.72 665.56,1476.7 666.17,1474.49 666.77,1475.08 667.38,1476.87 667.99,1467.85 668.59,1474.89 669.2,1475.49 669.81,1476.27 670.41,1474.45 671.02,1476.63 671.63,1476.6 672.23,1475.44 672.84,1474.97 673.45,1473.92 674.05,1479.61 674.66,1459.62 675.27,1459.62 675.87,1476.41 676.48,1476.26 677.09,1476.93 677.69,1475.2 678.3,1476.14 678.91,1474.73 679.51,1476.15 680.12,1476.74 680.73,1479.61 681.33,1476.56 681.94,1476.58 682.55,1432.03 683.15,1474.13 683.76,1474.12 684.37,1475.9 684.97,1460.63 685.58,1475.04 686.19,1477.04 686.79,1474.94 687.4,1475.18 688.01,1479.61 688.61,1475.19 689.22,1476.84 689.83,1474.32 690.43,1474.48 691.04,1476.56 691.65,1473.63 692.25,1474.51 692.86,1475.27 693.47,1475.64 694.07,1473.9 694.68,1476.73 695.29,1469.58 695.89,1476.81 696.5,1476.72 697.11,1476.55 697.71,1475.44 698.32,1474.64 698.93,1475.32 699.53,1477.23 700.14,1472.9 700.75,1475.26 701.35,1475.92 701.96,1477.48 702.57,1476.96 703.17,1477.71 703.78,1477.01 704.38,1475.82 704.99,1477.32 705.6,1474.44 706.2,1476.21 706.81,1474.02 707.42,1473.63 708.02,1473.38 708.63,1474.78 709.24,1476.49 709.84,1477 710.45,1476.51 711.06,1475.42 711.66,1472.61 712.27,1475.23 712.88,1474.89 713.48,1475.47 714.09,1476.14 714.7,1474.28 715.3,1476.83 715.91,1458.03 716.52,1476.73 717.12,1474.18 717.73,1473.37 718.34,1476.67 718.94,1479.61 719.55,1475.15 720.16,1476.5 720.76,1459.18 721.37,1475.66 721.98,1477.02 722.58,1419.76 723.19,1473.99 723.8,1473.86 724.4,1476.51 725.01,1474.78 725.62,1479.61 726.22,1476.32 726.83,1435.35 727.44,1476.55 728.04,1476.06 728.65,1476.89 729.26,1476.84 729.86,1475 730.47,1473.87 731.08,1479.61 731.68,1475.86 732.29,1468.57 732.9,1475.08 733.5,1477.28 734.11,1476.5 734.72,1475.61 735.32,1474.41 735.93,1474.11 736.54,1474.34 737.14,1474.35 737.75,1475.41 738.36,1476.74 738.96,1475.3 739.57,1476.81 740.18,1477.74 740.78,1476.91 741.39,1479.61 742,1420.62 742.6,1475.4 743.21,1475.14 743.82,1475.13 744.42,1477.25 745.03,1439.69 745.64,1477.33 746.24,1477.02 746.85,1475.2 747.46,1353.75 748.06,1475.27 748.67,1475.39 749.28,1415.13 749.88,1476.63 750.49,1475.93 751.1,1476.04 751.7,1475.18 752.31,1422.36 752.91,1474.78 753.52,1476.53 754.13,1477.01 754.73,1426.69 755.34,1475.76 755.95,1476.67 756.55,1391.59 757.16,1477.58 757.77,1475.51 758.37,1474.37 758.98,1474.9 759.59,1473.66 760.19,1444.74 760.8,1475.66 761.41,1476.26 762.01,1475.84 762.62,1475.81 763.23,1422.36 763.83,1476.58 764.44,1477.31 765.05,1477.97 765.65,1476.59 766.26,1475.81 766.87,1452.68 767.47,1477.44 768.08,1475.56 768.69,1473.82 769.29,1475.12 769.9,1414.12 770.51,1474.68 771.11,1474.78 771.72,1475.86 772.33,1476.2 772.93,1475.19 773.54,1433.91 774.15,1477.1 774.75,1476.84 775.36,1427.84 775.97,1474.82 776.57,1475.08 777.18,1475.15 777.79,1474.72 778.39,1475.09 779,1477.08 779.61,1476.98 780.21,1474.9 780.82,1460.19 781.43,1476.36 782.03,1474.94 782.64,1474.86 783.25,1474.04 783.85,1474.99 784.46,1476.33 785.07,1433.62 785.67,1474.84 786.28,1474.46 786.89,1477.05 787.49,1475.14 788.1,1475.28 788.71,1479.61 789.31,1475.28 789.92,1476.58 790.53,1477.3 791.13,1476.44 791.74,1459.91 792.35,1475.42 792.95,1476.28 793.56,1475.35 794.17,1474.67 794.77,1474.97 795.38,1474.36 795.99,1462.07 796.59,1474.42 797.2,1476.06 797.81,1476.64 798.41,1474.17 799.02,1474.76 799.62,1475.95 800.23,1476.28 800.84,1476.28 801.44,1405.02 802.05,1476.08 802.66,1474.43 803.26,1473.5 803.87,1475.94 804.48,1475.49 805.08,1474.47 805.69,1473.96 806.3,1474.7 806.9,1475.96 807.51,1474.01 808.12,1439.97 808.72,1475.35 809.33,1479.61 809.94,1475.76 810.54,1474.44 811.15,1475.63 811.76,1474.12 812.36,1473.69 812.97,1476.54 813.58,1476.15 814.18,1472.9 814.79,1474.46 815.4,1473.97 816,1474.83 816.61,1475.11 817.22,1477.14 817.82,1475.99 818.43,1475.34 819.04,1475.55 819.64,1474.87 820.25,1479.61 820.86,1475.18 821.46,1474.35 822.07,1474.8 822.68,1476.42 823.28,1474.34 823.89,1475.65 824.5,1477.24 825.1,1476.45 825.71,1473.19 826.32,1477.04 826.92,1476.9 827.53,1475.42 828.14,1473.73 828.74,1476.61 829.35,1475.75 829.96,1475.01 830.56,1473.62 831.17,1474 831.78,1476.02 832.38,1479.61 832.99,1474.52 833.6,1476.27 834.2,1476.89 834.81,1474.51 835.42,1475.74 836.02,1469.58 836.63,1475.03 837.24,1474.68 837.84,1475.49 838.45,1474.08 839.06,1476.89 839.66,1474.71 840.27,1477.18 840.88,1474.35 841.48,1454.13 842.09,1474.59 842.7,1477.15 843.3,1475.52 843.91,1477.47 844.52,1475.73 845.12,1474.24 845.73,1474.78 846.34,1472.9 846.94,1475.04 847.55,1474.22 848.15,1474.18 848.76,1473.89 849.37,1479.61 849.97,1477.12 850.58,1476.23 851.19,1476.31 851.79,1477.07 852.4,1475.81 853.01,1476.29 853.61,1467.85 854.22,1475.26 854.83,1476.78 855.43,1475.46 856.04,1435.35 856.65,1476.76 857.25,1477.04 857.86,1475.39 858.47,1452.97 859.07,1474.76 859.68,1475.31 860.29,1474.67 860.89,1476.67 861.5,1476.19 862.11,1467.13 862.71,1476.14 863.32,1477.42 863.93,1476.69 864.53,1464.24 865.14,1475.69 865.75,1476.98 866.35,1476.5 866.96,1476.11 867.57,1410.08 868.17,1476.73 868.78,1476.61 869.39,1477.74 869.99,1475.5 870.6,1474.63"/>
<text x="93.85" y="1492.65" font-size="27.9" text-anchor="end">0</text>
<text x="93.85" y="1433.13" font-size="27.9" text-anchor="end">500</text>
<text x="93.85" y="1373.62" font-size="27.9" text-anchor="end">1000</text>
<text transform="translate(36 1418.75) rotate(-90)" font-size="31.5" text-anchor="middle">Width (mm)</text>
<text x="105.95" y="1519.6" font-size="27.9" text-anchor="middle">0</text>
<text x="227.21" y="1519.6" font-size="27.9" text-anchor="middle">200</text>
<text x="348.48" y="1519.6" font-size="27.9" text-anchor="middle">400</text>
<text x="469.74" y="1519.6" font-size="27.9" text-anchor="middle">600</text>
<text x="591.01" y="1519.6" font-size="27.9" text-anchor="middle">800</text>
<text x="712.27" y="1519.6" font-size="27.9" text-anchor="middle">1000</text>
<text x="833.54" y="1519.6" font-size="27.9" text-anchor="middle">1200</text>
<text x="954.8" y="1519.6" font-size="27.9" text-anchor="middle">1400</text>
<text x="529.38" y="1557.1" font-size="31.5" text-anchor="middle">Data Samples</text>
</g>
</g>
<g id="BR">
<g id="BR1">
<path class="ax" stroke-width="1.5" d="M1167.25 807H1956.75V928.25H1167.25ZM1167.25 928.25h8.4M1956.75 928.25h-8.4M1167.25 807h8.4M1956.75 807h-8.4"/>
<polyline class="d" stroke-width="3.2" points="1170.41,807 1786.22,807 1789.38,855.5 1798.85,855.5 1802.01,904 1805.17,904 1808.32,855.5 1811.48,855.5 1814.64,904 1817.8,904 1820.96,855.5 1824.11,904 1827.27,904 1830.43,855.5 1833.59,904 1836.75,855.5 1855.69,855.5 1858.85,904 1862.01,904 1865.17,855.5 1880.96,855.5 1884.12,904 1887.27,855.5 1899.91,855.5"/>
<text x="1155.35" y="938.43" font-size="26.5" text-anchor="end">0</text>
<text x="1155.35" y="817.18" font-size="26.5" text-anchor="end">5</text>
<text transform="translate(1128 868.62) rotate(-90)" font-size="29.33" text-anchor="middle">FI Value</text>
</g>
<g id="BR2">
<path class="ax" stroke-width="1.5" d="M1167.25 975.75H1956.75V1095.75H1167.25ZM1167.25 1087.75h8.4M1956.75 1087.75h-8.4M1167.25 1047.75h8.4M1956.75 1047.75h-8.4M1167.25 1007.75h8.4M1956.75 1007.75h-8.4"/>
<polyline class="d" stroke-width="3.2" points="1170.41,1095.75 1779.9,1095.75 1783.06,975.75 1899.91,975.75"/>
<text x="1155.35" y="1097.93" font-size="26.5" text-anchor="end">17</text>
<text x="1155.35" y="1057.93" font-size="26.5" text-anchor="end">18</text>
<text x="1155.35" y="1017.93" font-size="26.5" text-anchor="end">19</text>
<text transform="translate(1114 1036.75) rotate(-90)" font-size="29.33" text-anchor="middle">NWT (mm)</text>
</g>
<g id="BR3">
<path class="ax" stroke-width="1.5" d="M1167.25 1143.25H1956.75V1263.75H1167.25ZM1167.25 1263.75h8.4M1956.75 1263.75h-8.4M1167.25 1183.95h8.4M1956.75 1183.95h-8.4"/>
<polyline class="d" stroke-width="3.2" points="1170.41,1254.53 1173.57,1239.59 1176.72,1241.59 1179.88,1233.12 1183.04,1246.07 1186.2,1209.22 1189.36,1224.16 1192.51,1217.18 1195.67,1236.61 1198.83,1241.09 1201.99,1255.53 1205.15,1223.66 1208.3,1236.61 1211.46,1228.64 1214.62,1228.64 1217.78,1246.57 1220.94,1255.53 1224.09,1230.13 1227.25,1230.13 1230.41,1238.1 1233.57,1237.6 1236.73,1247.56 1239.88,1246.07 1243.04,1255.53 1246.2,1228.64 1249.36,1230.13 1252.52,1239.59 1255.67,1220.67 1258.83,1222.16 1261.99,1230.63 1265.15,1222.16 1268.31,1247.56 1271.46,1246.07 1274.62,1207.72 1277.78,1236.61 1280.94,1246.07 1284.1,1214.2 1287.25,1222.16 1290.41,1244.57 1293.57,1211.21 1296.73,1236.61 1299.89,1228.64 1303.04,1230.13 1306.2,1230.13 1309.36,1254.04 1312.52,1236.61 1315.68,1244.57 1318.83,1225.15 1321.99,1233.62 1325.15,1236.61 1328.31,1228.64 1331.47,1235.11 1334.62,1206.23 1337.78,1238.1 1340.94,1255.53 1344.1,1207.72 1347.26,1217.18 1350.41,1228.64 1353.57,1235.11 1356.73,1235.11 1359.89,1236.61 1363.05,1227.64 1366.2,1203.74 1369.36,1194.77 1372.52,1143.98 1375.68,1246.07 1378.84,1219.18 1381.99,1246.07 1385.15,1201.75 1388.31,1228.64 1391.47,1219.18 1394.63,1236.61 1397.78,1231.63 1400.94,1222.16 1404.1,1246.07 1407.26,1207.72 1410.42,1236.61 1413.57,1228.64 1416.73,1211.21 1419.89,1222.16 1423.05,1198.26 1426.21,1230.13 1429.36,1226.65 1432.52,1226.65 1435.68,1235.11 1438.84,1254.04 1442,1228.64 1445.15,1236.61 1448.31,1236.61 1451.47,1226.65 1454.63,1236.61 1457.79,1228.64 1460.94,1193.28 1464.1,1235.11 1467.26,1219.18 1470.42,1228.64 1473.58,1247.56 1476.73,1247.56 1479.89,1231.63 1483.05,1230.13 1486.21,1223.66 1489.37,1203.24 1492.52,1219.18 1495.68,1203.24 1498.84,1214.2 1502,1228.64 1505.16,1211.21 1508.31,1212.7 1511.47,1236.61 1514.63,1228.64 1517.79,1201.25 1520.95,1227.14 1524.1,1228.64 1527.26,1227.14 1530.42,1211.21 1533.58,1244.57 1536.74,1220.67 1539.89,1230.13 1543.05,1219.18 1546.21,1228.64 1549.37,1180.83 1552.53,1227.14 1555.68,1225.65 1558.84,1227.14 1562,1255.53 1565.16,1203.24 1568.32,1219.18 1571.47,1244.57 1574.63,1225.65 1577.79,1235.11 1580.95,1214.2 1584.11,1236.61 1587.26,1244.57 1590.42,1246.07 1593.58,1227.14 1596.74,1227.14 1599.9,1225.65 1603.05,1227.14 1606.21,1235.11 1609.37,1231.63 1612.53,1244.57 1615.69,1217.68 1618.84,1236.61 1622,1254.04 1625.16,1236.61 1628.32,1254.04 1631.48,1211.21 1634.63,1236.61 1637.79,1201.75 1640.95,1227.14 1644.11,1217.68 1647.27,1207.72 1650.42,1196.76 1653.58,1224.16 1656.74,1204.73 1659.9,1220.67 1663.06,1246.07 1666.21,1235.11 1669.37,1226.65 1672.53,1225.65 1675.69,1228.64 1678.85,1238.1 1682,1219.18 1685.16,1211.21 1688.32,1230.13 1691.48,1254.04 1694.64,1238.1 1697.79,1236.61 1700.95,1236.61 1704.11,1231.63 1707.27,1209.22 1710.43,1244.57 1713.58,1228.64 1716.74,1214.2 1719.9,1254.04 1723.06,1220.67 1726.22,1219.18 1729.37,1235.11 1732.53,1228.64 1735.69,1241.59 1738.85,1227.14 1742.01,1224.16 1745.16,1190.29 1748.32,1211.71 1751.48,1216.19 1754.64,1230.13 1757.8,1230.63 1760.95,1236.61 1764.11,1246.07 1767.27,1228.64 1770.43,1235.11 1773.59,1220.67 1776.74,1239.59 1779.9,1211.21 1783.06,1235.11 1786.22,1254.04 1789.38,1254.04 1792.53,1254.04 1795.69,1252.54 1798.85,1251.05 1802.01,1217.68 1805.17,1222.16 1808.32,1255.53 1811.48,1251.05 1814.64,1243.08 1817.8,1179.33 1820.96,1255.53 1824.11,1246.07 1827.27,1171.37 1830.43,1244.57 1833.59,1201.75 1836.75,1254.04 1839.9,1251.05 1843.06,1249.06 1846.22,1252.54 1849.38,1249.06 1852.54,1251.05 1855.69,1255.53 1858.85,1211.21 1862.01,1231.63 1865.17,1252.54 1868.33,1249.06 1871.48,1255.53 1874.64,1254.04 1877.8,1246.07 1880.96,1251.05 1884.12,1219.18 1887.27,1252.54 1890.43,1254.04 1893.59,1250.55 1896.75,1252.54 1899.91,1251.05"/>
<text x="1155.35" y="1273.93" font-size="26.5" text-anchor="end">0</text>
<text x="1155.35" y="1194.13" font-size="26.5" text-anchor="end">50</text>
<text transform="translate(1114 1204.5) rotate(-90)" font-size="29.33" text-anchor="middle">Length (mm)</text>
</g>
<g id="BR4">
<path class="ax" stroke-width="1.5" d="M1167.25 1310.5H1956.75V1430.5H1167.25ZM1167.25 1430.5h8.4M1956.75 1430.5h-8.4M1167.25 1377.1h8.4M1956.75 1377.1h-8.4M1167.25 1323.69h8.4M1956.75 1323.69h-8.4M1167.25 1430.5v-8.4M1167.25 1310.5v8.4M1325.15 1430.5v-8.4M1325.15 1310.5v8.4M1483.05 1430.5v-8.4M1483.05 1310.5v8.4M1640.95 1430.5v-8.4M1640.95 1310.5v8.4M1798.85 1430.5v-8.4M1798.85 1310.5v8.4M1956.75 1430.5v-8.4M1956.75 1310.5v8.4"/>
<polyline class="d" stroke-width="3.2" points="1170.41,1423.03 1173.57,1412.57 1176.72,1423.03 1179.88,1412.57 1183.04,1412.57 1186.2,1416.06 1189.36,1408.59 1192.51,1412.07 1195.67,1405.6 1198.83,1412.07 1201.99,1401.61 1205.15,1412.57 1208.3,1416.06 1211.46,1412.57 1214.62,1409.08 1217.78,1423.03 1220.94,1423.03 1224.09,1408.59 1227.25,1412.57 1230.41,1423.03 1233.57,1423.03 1236.73,1423.03 1239.88,1423.03 1243.04,1423.03 1246.2,1412.57 1249.36,1412.57 1252.52,1423.03 1255.67,1405.1 1258.83,1412.57 1261.99,1416.06 1265.15,1419.54 1268.31,1427.01 1271.46,1423.03 1274.62,1409.08 1277.78,1416.06 1280.94,1423.03 1284.1,1394.14 1287.25,1408.59 1290.41,1423.03 1293.57,1397.63 1296.73,1419.54 1299.89,1416.06 1303.04,1412.57 1306.2,1412.57 1309.36,1423.03 1312.52,1416.06 1315.68,1423.03 1318.83,1416.06 1321.99,1412.57 1325.15,1416.06 1328.31,1394.14 1331.47,1412.57 1334.62,1409.08 1337.78,1419.54 1340.94,1412.57 1344.1,1394.14 1347.26,1405.6 1350.41,1416.06 1353.57,1416.06 1356.73,1412.57 1359.89,1419.54 1363.05,1416.06 1366.2,1416.06 1369.36,1412.57 1372.52,1368.25 1375.68,1427.01 1378.84,1408.59 1381.99,1423.03 1385.15,1394.14 1388.31,1416.06 1391.47,1412.57 1394.63,1416.06 1397.78,1412.57 1400.94,1401.12 1404.1,1423.03 1407.26,1405.1 1410.42,1416.06 1413.57,1412.57 1416.73,1405.1 1419.89,1412.57 1423.05,1375.72 1426.21,1416.06 1429.36,1412.57 1432.52,1412.57 1435.68,1408.59 1438.84,1423.03 1442,1412.57 1445.15,1423.03 1448.31,1412.57 1451.47,1412.57 1454.63,1412.57 1457.79,1412.57 1460.94,1339.36 1464.1,1416.06 1467.26,1397.63 1470.42,1416.06 1473.58,1419.54 1476.73,1427.01 1479.89,1412.57 1483.05,1382.69 1486.21,1398.13 1489.37,1390.66 1492.52,1412.57 1495.68,1397.63 1498.84,1397.63 1502,1409.08 1505.16,1401.61 1508.31,1416.06 1511.47,1419.54 1514.63,1408.59 1517.79,1390.16 1520.95,1412.57 1524.1,1412.57 1527.26,1419.54 1530.42,1401.12 1533.58,1405.1 1536.74,1408.59 1539.89,1416.06 1543.05,1405.1 1546.21,1416.06 1549.37,1397.63 1552.53,1405.1 1555.68,1412.57 1558.84,1409.08 1562,1427.01 1565.16,1390.16 1568.32,1412.57 1571.47,1423.03 1574.63,1412.57 1577.79,1412.57 1580.95,1412.57 1584.11,1419.54 1587.26,1423.03 1590.42,1423.03 1593.58,1412.57 1596.74,1408.59 1599.9,1412.57 1603.05,1408.59 1606.21,1412.07 1609.37,1416.06 1612.53,1423.03 1615.69,1401.12 1618.84,1412.57 1622,1423.03 1625.16,1416.06 1628.32,1423.03 1631.48,1383.19 1634.63,1416.06 1637.79,1401.12 1640.95,1409.08 1644.11,1409.08 1647.27,1397.63 1650.42,1386.67 1653.58,1405.6 1656.74,1398.13 1659.9,1401.61 1663.06,1416.06 1666.21,1416.06 1669.37,1419.54 1672.53,1416.06 1675.69,1408.59 1678.85,1412.57 1682,1398.13 1685.16,1401.61 1688.32,1405.6 1691.48,1423.03 1694.64,1423.03 1697.79,1416.06 1700.95,1408.59 1704.11,1419.54 1707.27,1397.13 1710.43,1416.06 1713.58,1408.59 1716.74,1408.59 1719.9,1423.03 1723.06,1416.06 1726.22,1416.06 1729.37,1416.06 1732.53,1408.59 1735.69,1423.03 1738.85,1401.12 1742.01,1405.1 1745.16,1405.1 1748.32,1397.63 1751.48,1409.08 1754.64,1416.55 1757.8,1412.57 1760.95,1412.57 1764.11,1423.03 1767.27,1412.57 1770.43,1416.06 1773.59,1311.47 1776.74,1419.54 1779.9,1401.12 1783.06,1423.03 1786.22,1416.06 1789.38,1427.01 1792.53,1427.01 1795.69,1425.52 1798.85,1426.51 1802.01,1427.01 1805.17,1427.01 1808.32,1425.02 1811.48,1425.02 1814.64,1404.6 1817.8,1423.03 1820.96,1427.51 1824.11,1416.06 1827.27,1412.57 1830.43,1423.03 1833.59,1423.53 1836.75,1427.01 1839.9,1424.52 1843.06,1424.52 1846.22,1425.52 1849.38,1425.02 1852.54,1423.53 1855.69,1423.03 1858.85,1416.06 1862.01,1427.01 1865.17,1426.51 1868.33,1426.02 1871.48,1422.53 1874.64,1427.01 1877.8,1423.53 1880.96,1424.02 1884.12,1427.01 1887.27,1426.51 1890.43,1425.52 1893.59,1423.53 1896.75,1421.04 1899.91,1421.53"/>
<text x="1155.35" y="1440.68" font-size="26.5" text-anchor="end">0</text>
<text x="1155.35" y="1387.27" font-size="26.5" text-anchor="end">100</text>
<text x="1155.35" y="1333.87" font-size="26.5" text-anchor="end">200</text>
<text transform="translate(1105 1371.5) rotate(-90)" font-size="29.33" text-anchor="middle">Width (mm)</text>
<text x="1167.25" y="1465.7" font-size="26.5" text-anchor="middle">0</text>
<text x="1325.15" y="1465.7" font-size="26.5" text-anchor="middle">50</text>
<text x="1483.05" y="1465.7" font-size="26.5" text-anchor="middle">100</text>
<text x="1640.95" y="1465.7" font-size="26.5" text-anchor="middle">150</text>
<text x="1798.85" y="1465.7" font-size="26.5" text-anchor="middle">200</text>
<text x="1956.75" y="1465.7" font-size="26.5" text-anchor="middle">250</text>
<text x="1560.3" y="1501" font-size="29.33" text-anchor="middle">Data Samples</text>
</g>
</g>
</svg>
</body>
</html>
